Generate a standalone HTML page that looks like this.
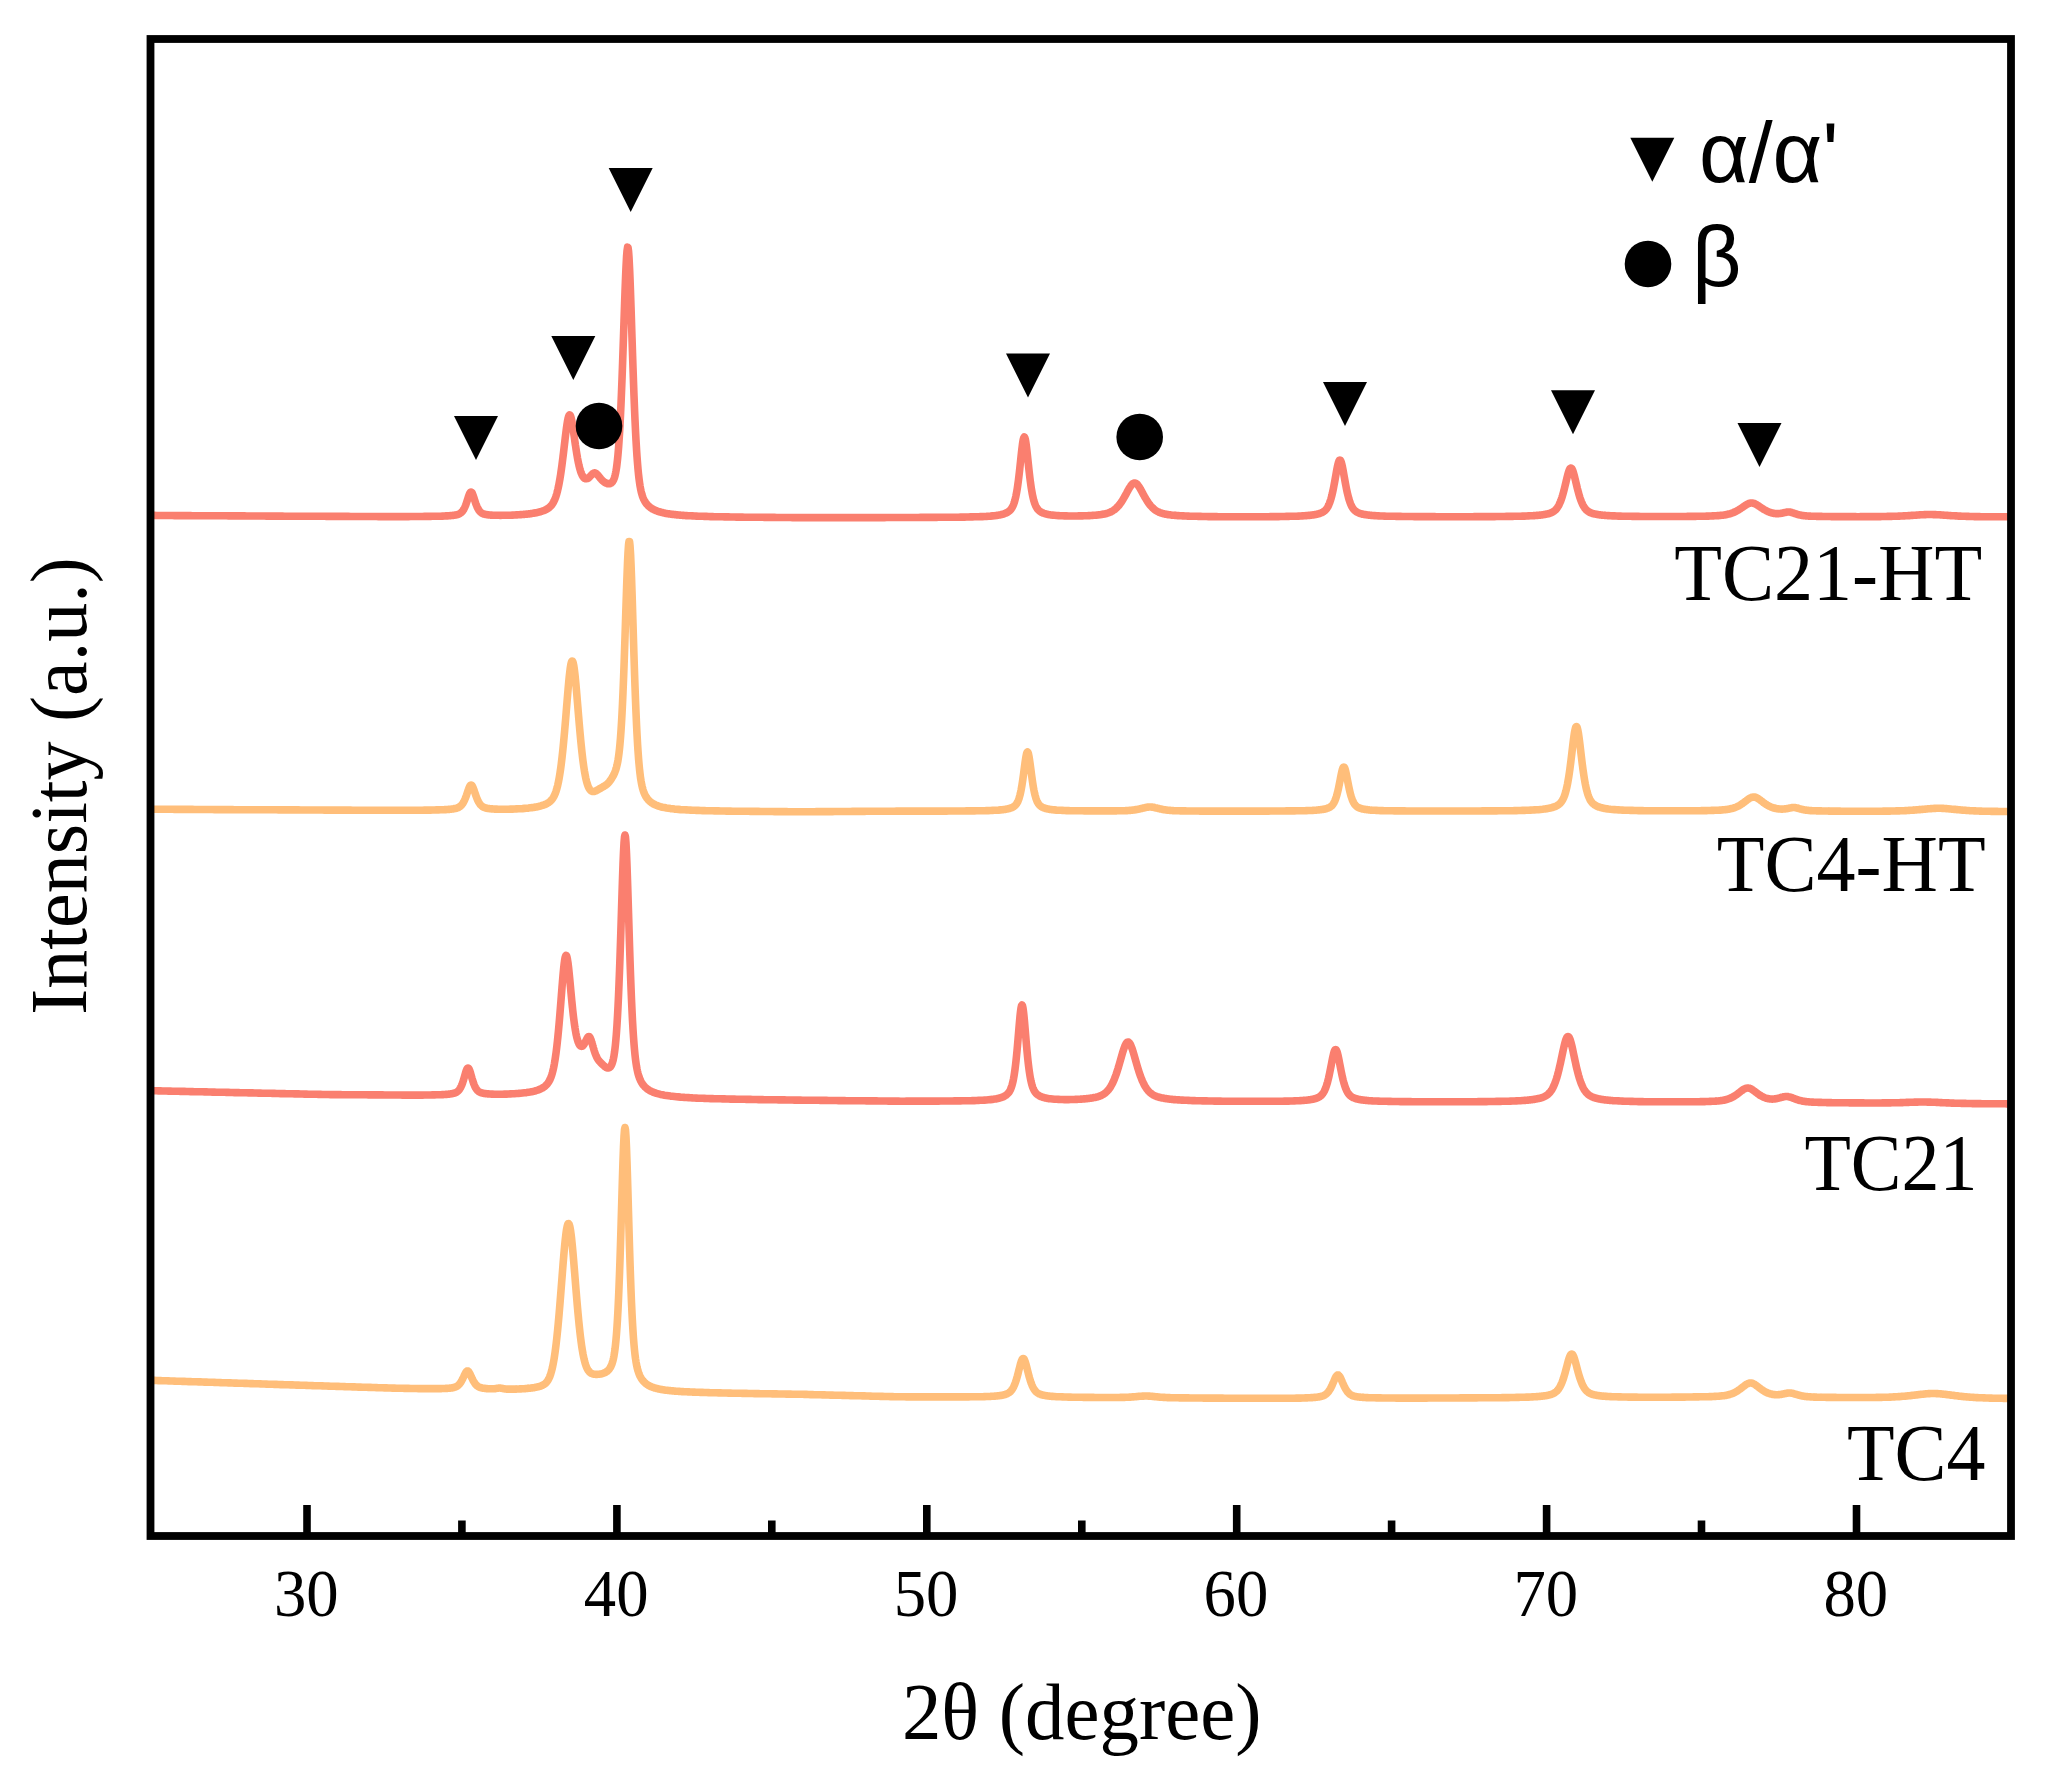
<!DOCTYPE html>
<html lang="en"><head><meta charset="utf-8"><title>XRD patterns</title>
<style>
html,body{margin:0;padding:0;background:#fff;}
body{width:2046px;height:1771px;overflow:hidden;}
svg{display:block;}
.serif{font-family:"Liberation Serif","Times New Roman",serif;}
.sans{font-family:"Liberation Sans","Arial",sans-serif;}
</style></head><body>
<svg width="2046" height="1771" viewBox="0 0 2046 1771">
<rect width="2046" height="1771" fill="#fff"/>
<defs><clipPath id="plot"><rect x="150.5" y="39" width="1860.5" height="1497"/></clipPath></defs>
<g clip-path="url(#plot)" fill="none" stroke-width="7.6" stroke-linejoin="round" stroke-linecap="butt">
<path d="M150.5,515.4 L152.5,515.4 L154.5,515.4 L156.5,515.5 L158.5,515.5 L160.5,515.5 L162.5,515.5 L164.5,515.5 L166.5,515.5 L168.5,515.5 L170.5,515.5 L172.5,515.5 L174.5,515.6 L176.5,515.6 L178.5,515.6 L180.5,515.6 L182.5,515.6 L184.5,515.6 L186.5,515.6 L188.5,515.6 L190.5,515.6 L192.5,515.7 L194.5,515.7 L196.5,515.7 L198.5,515.7 L200.5,515.7 L202.5,515.7 L204.5,515.7 L206.5,515.7 L208.5,515.7 L210.5,515.8 L212.5,515.8 L214.5,515.8 L216.5,515.8 L218.5,515.8 L220.5,515.8 L222.5,515.8 L224.5,515.8 L226.5,515.8 L228.5,515.9 L230.5,515.9 L232.5,515.9 L234.5,515.9 L236.5,515.9 L238.5,515.9 L240.5,515.9 L242.5,515.9 L244.5,515.9 L246.5,516.0 L248.5,516.0 L250.5,516.0 L252.5,516.0 L254.5,516.0 L256.5,516.0 L258.5,516.0 L260.5,516.0 L262.5,516.0 L264.5,516.0 L266.5,516.1 L268.5,516.1 L270.5,516.1 L272.5,516.1 L274.5,516.1 L276.5,516.1 L278.5,516.1 L280.5,516.1 L282.5,516.1 L284.5,516.2 L286.5,516.2 L288.5,516.2 L290.5,516.2 L292.5,516.2 L294.5,516.2 L296.5,516.2 L298.5,516.2 L300.5,516.2 L302.5,516.2 L304.5,516.3 L306.5,516.3 L308.5,516.3 L310.5,516.3 L312.5,516.3 L314.5,516.3 L316.5,516.3 L318.5,516.3 L320.5,516.3 L322.5,516.3 L324.5,516.3 L326.5,516.4 L328.5,516.4 L330.5,516.4 L332.5,516.4 L334.5,516.4 L336.5,516.4 L338.5,516.4 L340.5,516.4 L342.5,516.4 L344.5,516.4 L346.5,516.4 L348.5,516.4 L350.5,516.5 L352.5,516.5 L354.5,516.5 L356.5,516.5 L358.5,516.5 L360.5,516.5 L362.5,516.5 L364.5,516.5 L366.5,516.5 L368.5,516.5 L370.5,516.5 L372.5,516.5 L374.5,516.5 L376.5,516.5 L378.5,516.6 L380.5,516.6 L382.5,516.6 L384.5,516.6 L386.5,516.6 L388.5,516.6 L390.5,516.6 L392.5,516.6 L394.5,516.6 L396.5,516.6 L398.5,516.6 L400.5,516.6 L402.5,516.6 L404.5,516.6 L406.5,516.6 L408.5,516.6 L410.5,516.5 L412.5,516.5 L414.5,516.5 L416.5,516.5 L418.5,516.5 L420.5,516.5 L422.5,516.5 L424.5,516.4 L426.5,516.4 L428.5,516.4 L430.5,516.4 L432.5,516.3 L434.5,516.3 L436.5,516.3 L438.5,516.2 L440.5,516.2 L442.5,516.1 L444.5,516.0 L446.0,515.9 L446.5,515.9 L447.0,515.9 L447.5,515.9 L448.0,515.8 L448.5,515.8 L449.0,515.8 L449.5,515.7 L450.0,515.7 L450.5,515.6 L451.0,515.6 L451.5,515.5 L452.0,515.5 L452.5,515.4 L453.0,515.4 L453.5,515.3 L454.0,515.2 L454.5,515.2 L455.0,515.1 L455.5,515.0 L456.0,514.9 L456.5,514.8 L457.0,514.7 L457.5,514.5 L458.0,514.4 L458.5,514.2 L459.0,514.0 L459.5,513.7 L460.0,513.4 L460.5,513.1 L461.0,512.8 L461.5,512.3 L462.0,511.8 L462.5,511.2 L463.0,510.5 L463.5,509.8 L464.0,508.9 L464.5,507.9 L465.0,506.8 L465.5,505.6 L466.0,504.2 L466.5,502.8 L467.0,501.3 L467.5,499.7 L468.0,498.1 L468.5,496.5 L469.0,495.1 L469.5,493.8 L470.0,492.9 L470.5,492.2 L471.0,492.0 L471.5,492.2 L472.0,492.8 L472.5,493.8 L473.0,495.1 L473.5,496.5 L474.0,498.0 L474.5,499.6 L475.0,501.2 L475.5,502.7 L476.0,504.1 L476.5,505.4 L477.0,506.7 L477.5,507.7 L478.0,508.7 L478.5,509.6 L479.0,510.4 L479.5,511.0 L480.0,511.6 L480.5,512.1 L481.0,512.5 L481.5,512.9 L482.0,513.2 L482.5,513.5 L483.0,513.7 L483.5,513.9 L484.0,514.1 L484.5,514.2 L485.0,514.3 L485.5,514.4 L486.0,514.5 L486.5,514.6 L487.0,514.7 L487.5,514.8 L488.0,514.8 L488.5,514.9 L489.0,514.9 L489.5,515.0 L490.0,515.0 L490.5,515.1 L491.0,515.1 L491.5,515.1 L492.0,515.2 L492.5,515.2 L493.0,515.2 L493.5,515.2 L494.0,515.3 L494.5,515.3 L495.0,515.3 L495.5,515.3 L496.5,515.3 L498.5,515.3 L500.5,515.4 L502.5,515.3 L504.5,515.3 L506.5,515.3 L508.5,515.2 L510.5,515.2 L512.5,515.1 L514.5,515.0 L516.5,514.9 L517.0,514.9 L518.0,514.8 L518.5,514.8 L519.0,514.7 L520.0,514.7 L520.5,514.6 L521.0,514.6 L522.0,514.5 L522.5,514.5 L523.0,514.5 L524.0,514.4 L524.5,514.3 L525.0,514.3 L526.0,514.2 L526.5,514.1 L527.0,514.1 L528.0,514.0 L528.5,513.9 L529.0,513.9 L530.0,513.7 L530.5,513.7 L531.0,513.6 L531.9,513.5 L532.0,513.4 L532.4,513.4 L532.5,513.4 L532.9,513.3 L533.0,513.3 L533.4,513.2 L533.9,513.1 L534.0,513.1 L534.4,513.1 L534.5,513.0 L534.9,513.0 L535.0,512.9 L535.4,512.9 L535.9,512.8 L536.0,512.8 L536.4,512.7 L536.5,512.7 L536.9,512.6 L537.0,512.5 L537.4,512.5 L537.9,512.3 L538.0,512.3 L538.4,512.2 L538.5,512.2 L538.9,512.1 L539.0,512.1 L539.4,512.0 L539.9,511.8 L540.0,511.8 L540.4,511.7 L540.5,511.7 L540.9,511.6 L541.0,511.5 L541.4,511.4 L541.9,511.2 L542.0,511.2 L542.4,511.1 L542.5,511.0 L542.9,510.9 L543.0,510.9 L543.4,510.7 L543.9,510.5 L544.0,510.5 L544.4,510.3 L544.5,510.3 L544.9,510.1 L545.0,510.0 L545.4,509.9 L545.9,509.6 L546.0,509.6 L546.4,509.4 L546.5,509.3 L546.9,509.1 L547.0,509.0 L547.4,508.8 L547.9,508.5 L548.0,508.4 L548.4,508.1 L548.5,508.0 L548.9,507.7 L549.0,507.7 L549.4,507.3 L549.9,506.9 L550.0,506.8 L550.4,506.4 L550.5,506.3 L550.9,505.9 L551.0,505.8 L551.4,505.3 L551.9,504.7 L552.0,504.5 L552.4,504.0 L552.5,503.8 L552.9,503.2 L553.0,503.0 L553.4,502.3 L553.9,501.4 L554.0,501.2 L554.4,500.3 L554.5,500.1 L554.9,499.2 L555.0,498.9 L555.4,497.9 L555.9,496.5 L556.0,496.2 L556.4,494.9 L556.5,494.6 L556.9,493.2 L557.0,492.8 L557.4,491.3 L557.9,489.2 L558.0,488.8 L558.4,486.9 L558.5,486.5 L558.9,484.5 L559.0,484.0 L559.4,481.8 L559.9,479.0 L560.0,478.4 L560.4,475.9 L560.5,475.3 L560.9,472.6 L561.0,471.9 L561.4,469.1 L561.9,465.5 L562.0,464.7 L562.4,461.6 L562.5,460.8 L562.9,457.6 L563.0,456.8 L563.4,453.5 L563.9,449.3 L564.0,448.4 L564.4,445.0 L564.5,444.1 L564.9,440.7 L565.0,439.8 L565.4,436.4 L565.5,435.6 L565.9,432.4 L566.0,431.6 L566.4,428.5 L566.5,427.8 L566.9,424.9 L567.0,424.3 L567.4,421.8 L567.5,421.2 L567.9,419.2 L568.0,418.7 L568.4,417.1 L568.5,416.8 L568.9,415.7 L569.0,415.5 L569.4,415.0 L569.5,414.9 L569.9,415.0 L570.0,415.1 L570.4,415.7 L570.5,415.9 L570.9,417.0 L571.0,417.4 L571.4,419.0 L571.5,419.4 L571.9,421.4 L572.0,422.0 L572.4,424.3 L572.5,424.9 L572.9,427.4 L573.0,428.1 L573.4,430.8 L573.5,431.5 L573.9,434.3 L574.0,435.0 L574.4,437.8 L574.5,438.5 L574.9,441.4 L575.0,442.1 L575.4,444.9 L575.5,445.5 L575.9,448.2 L576.0,448.9 L576.4,451.5 L576.5,452.1 L576.9,454.6 L577.0,455.2 L577.4,457.5 L577.5,458.1 L577.9,460.2 L578.0,460.7 L578.4,462.7 L578.5,463.2 L578.9,465.0 L579.0,465.5 L579.4,467.1 L579.5,467.5 L579.9,469.0 L580.0,469.4 L580.4,470.7 L580.5,471.0 L580.9,472.2 L581.0,472.5 L581.4,473.5 L581.5,473.8 L581.9,474.7 L582.0,474.9 L582.4,475.7 L582.5,475.9 L582.9,476.5 L583.0,476.7 L583.4,477.2 L583.5,477.3 L583.9,477.8 L584.0,477.9 L584.4,478.2 L584.5,478.3 L584.9,478.5 L585.0,478.6 L585.4,478.7 L585.5,478.7 L585.9,478.8 L586.0,478.8 L586.4,478.8 L586.5,478.8 L586.9,478.7 L587.0,478.7 L587.4,478.5 L587.5,478.5 L587.9,478.3 L588.0,478.2 L588.4,478.0 L588.5,477.9 L588.9,477.6 L589.0,477.5 L589.4,477.1 L589.5,477.0 L589.9,476.6 L590.0,476.5 L590.4,476.1 L590.5,476.0 L590.9,475.5 L591.0,475.4 L591.4,475.0 L591.5,474.9 L591.9,474.5 L592.0,474.4 L592.4,474.0 L592.5,473.9 L592.9,473.6 L593.0,473.5 L593.4,473.2 L593.5,473.2 L593.9,473.0 L594.0,473.0 L594.4,472.9 L594.5,472.9 L594.9,472.9 L595.0,472.9 L595.4,473.1 L595.5,473.1 L595.9,473.3 L596.0,473.4 L596.4,473.7 L596.5,473.8 L596.9,474.1 L597.0,474.2 L597.4,474.7 L597.5,474.8 L597.9,475.2 L598.0,475.3 L598.4,475.8 L598.5,475.9 L598.9,476.4 L599.0,476.6 L599.4,477.1 L599.5,477.2 L599.6,477.3 L599.9,477.7 L600.0,477.8 L600.4,478.3 L600.5,478.4 L600.6,478.5 L600.9,478.9 L601.0,479.0 L601.4,479.5 L601.5,479.6 L601.6,479.7 L601.9,480.0 L602.0,480.1 L602.4,480.5 L602.5,480.6 L602.6,480.7 L602.9,481.0 L603.0,481.0 L603.4,481.4 L603.5,481.5 L603.6,481.5 L603.9,481.8 L604.0,481.9 L604.4,482.1 L604.5,482.2 L604.6,482.3 L604.9,482.5 L605.0,482.5 L605.4,482.7 L605.5,482.8 L605.6,482.8 L605.9,483.0 L606.0,483.0 L606.4,483.2 L606.5,483.2 L606.6,483.3 L607.0,483.4 L607.5,483.6 L607.6,483.6 L608.0,483.6 L608.5,483.7 L608.6,483.7 L609.0,483.7 L609.5,483.7 L609.6,483.7 L610.0,483.6 L610.5,483.4 L610.6,483.4 L611.0,483.2 L611.5,482.8 L611.6,482.7 L612.0,482.4 L612.5,481.8 L612.6,481.6 L613.0,481.0 L613.5,480.1 L613.6,479.9 L614.0,478.9 L614.5,477.5 L614.6,477.1 L615.0,475.7 L615.5,473.5 L615.6,473.0 L616.0,470.9 L616.5,467.8 L616.6,467.1 L617.0,464.0 L617.5,459.6 L617.6,458.7 L618.0,454.5 L618.5,448.5 L618.6,447.2 L619.0,441.6 L619.5,433.7 L619.6,432.1 L620.0,424.9 L620.5,415.0 L620.6,412.9 L621.0,404.1 L621.5,392.2 L621.6,389.7 L622.0,379.3 L622.5,365.6 L622.6,362.8 L623.0,351.2 L623.5,336.4 L623.6,333.4 L624.0,321.3 L624.5,306.4 L624.6,303.5 L625.0,292.1 L625.6,276.3 L626.0,267.1 L626.5,257.7 L626.6,256.1 L627.0,251.0 L627.6,247.2 L628.0,247.4 L628.5,250.7 L628.6,251.8 L629.0,257.3 L629.6,268.9 L630.0,278.4 L630.5,291.9 L630.6,294.8 L631.0,306.6 L631.6,325.0 L632.0,337.5 L632.5,352.9 L632.6,355.9 L633.0,367.9 L633.6,385.0 L634.0,395.8 L634.5,408.4 L634.6,410.8 L635.0,420.0 L635.6,432.6 L636.0,440.2 L636.5,448.8 L636.6,450.4 L637.0,456.4 L637.6,464.3 L638.0,469.0 L638.5,474.1 L638.6,475.0 L639.0,478.5 L639.6,483.0 L640.0,485.6 L640.5,488.4 L640.6,488.9 L641.0,490.8 L641.6,493.3 L642.0,494.7 L642.5,496.3 L642.6,496.5 L643.0,497.6 L643.6,499.1 L644.0,499.9 L644.5,500.9 L644.6,501.0 L645.0,501.7 L645.6,502.6 L646.0,503.2 L646.5,503.8 L646.6,504.0 L647.0,504.4 L647.6,505.1 L648.0,505.5 L648.5,506.0 L648.6,506.1 L649.0,506.4 L649.6,506.9 L650.0,507.2 L650.5,507.6 L650.6,507.7 L651.0,508.0 L651.6,508.4 L652.0,508.6 L652.5,508.9 L652.6,509.0 L653.0,509.2 L653.6,509.5 L654.0,509.7 L654.5,510.0 L654.6,510.0 L655.0,510.2 L655.6,510.4 L656.0,510.6 L656.5,510.8 L657.0,511.0 L658.0,511.4 L658.5,511.5 L659.0,511.7 L660.0,512.0 L660.5,512.1 L661.0,512.3 L662.0,512.5 L662.5,512.6 L663.0,512.8 L664.0,513.0 L664.5,513.1 L665.0,513.2 L666.0,513.4 L666.5,513.5 L667.0,513.6 L668.0,513.7 L668.5,513.8 L669.0,513.9 L670.0,514.0 L670.5,514.1 L671.0,514.2 L672.0,514.3 L672.5,514.4 L673.0,514.4 L674.0,514.5 L674.5,514.6 L675.0,514.6 L676.0,514.8 L676.5,514.8 L677.0,514.9 L678.0,514.9 L678.5,515.0 L679.0,515.0 L680.0,515.1 L680.5,515.2 L681.0,515.2 L682.0,515.3 L682.5,515.3 L683.0,515.4 L684.0,515.4 L684.5,515.5 L685.0,515.5 L686.0,515.6 L686.5,515.6 L688.5,515.7 L690.5,515.8 L692.5,515.9 L694.5,516.0 L696.5,516.1 L698.5,516.2 L700.5,516.2 L702.5,516.3 L704.5,516.4 L706.5,516.4 L708.5,516.5 L710.5,516.6 L712.5,516.6 L714.5,516.7 L716.5,516.7 L718.5,516.7 L720.5,516.8 L722.5,516.8 L724.5,516.9 L726.5,516.9 L728.5,516.9 L730.5,517.0 L732.5,517.0 L734.5,517.0 L736.5,517.1 L738.5,517.1 L740.5,517.1 L742.5,517.1 L744.5,517.2 L746.5,517.2 L748.5,517.2 L750.5,517.2 L752.5,517.2 L754.5,517.3 L756.5,517.3 L758.5,517.3 L760.5,517.3 L762.5,517.3 L764.5,517.4 L766.5,517.4 L768.5,517.4 L770.5,517.4 L772.5,517.4 L774.5,517.4 L776.5,517.5 L778.5,517.5 L780.5,517.5 L782.5,517.5 L784.5,517.5 L786.5,517.5 L788.5,517.5 L790.5,517.5 L792.5,517.6 L794.5,517.6 L796.5,517.6 L798.5,517.6 L800.5,517.6 L802.5,517.6 L804.5,517.6 L806.5,517.6 L808.5,517.6 L810.5,517.6 L812.5,517.6 L814.5,517.6 L816.5,517.6 L818.5,517.6 L820.5,517.6 L822.5,517.6 L824.5,517.6 L826.5,517.6 L828.5,517.6 L830.5,517.6 L832.5,517.6 L834.5,517.6 L836.5,517.6 L838.5,517.6 L840.5,517.6 L842.5,517.6 L844.5,517.6 L846.5,517.6 L848.5,517.6 L850.5,517.6 L852.5,517.6 L854.5,517.6 L856.5,517.6 L858.5,517.6 L860.5,517.6 L862.5,517.6 L864.5,517.6 L866.5,517.6 L868.5,517.6 L870.5,517.6 L872.5,517.6 L874.5,517.6 L876.5,517.6 L878.5,517.6 L880.5,517.6 L882.5,517.6 L884.5,517.6 L886.5,517.5 L888.5,517.5 L890.5,517.5 L892.5,517.5 L894.5,517.5 L896.5,517.5 L898.5,517.5 L900.5,517.5 L902.5,517.5 L904.5,517.5 L906.5,517.5 L908.5,517.5 L910.5,517.5 L912.5,517.5 L914.5,517.5 L916.5,517.5 L918.5,517.5 L920.5,517.4 L922.5,517.4 L924.5,517.4 L926.5,517.4 L928.5,517.4 L930.5,517.4 L932.5,517.4 L934.5,517.4 L936.5,517.4 L938.5,517.3 L940.5,517.3 L942.5,517.3 L944.5,517.3 L946.5,517.3 L948.5,517.3 L950.5,517.2 L952.5,517.2 L954.5,517.2 L956.5,517.2 L958.5,517.2 L960.5,517.1 L962.5,517.1 L964.5,517.1 L966.5,517.0 L968.5,517.0 L970.5,516.9 L972.5,516.9 L974.5,516.8 L976.5,516.8 L978.5,516.7 L980.5,516.6 L982.5,516.6 L984.5,516.5 L986.5,516.4 L988.5,516.2 L990.5,516.1 L992.5,515.9 L994.5,515.7 L996.5,515.4 L996.8,515.4 L997.3,515.3 L997.8,515.2 L998.3,515.2 L998.5,515.1 L998.8,515.1 L999.3,515.0 L999.8,514.9 L1000.3,514.8 L1000.5,514.7 L1000.8,514.7 L1001.3,514.6 L1001.8,514.4 L1002.3,514.3 L1002.5,514.3 L1002.8,514.2 L1003.3,514.0 L1003.8,513.9 L1004.3,513.7 L1004.5,513.6 L1004.8,513.5 L1005.3,513.3 L1005.8,513.1 L1006.3,512.9 L1006.5,512.8 L1006.8,512.6 L1007.3,512.4 L1007.8,512.1 L1008.3,511.8 L1008.5,511.6 L1008.8,511.4 L1009.3,511.0 L1009.8,510.6 L1010.3,510.1 L1010.5,509.8 L1010.8,509.5 L1011.3,508.8 L1011.8,508.1 L1012.3,507.2 L1012.5,506.9 L1012.8,506.3 L1013.3,505.1 L1013.8,503.8 L1014.3,502.4 L1014.5,501.7 L1014.8,500.7 L1015.3,498.7 L1015.8,496.6 L1016.3,494.1 L1016.5,493.0 L1016.8,491.3 L1017.3,488.3 L1017.8,484.9 L1018.3,481.2 L1018.5,479.6 L1018.8,477.2 L1019.3,472.9 L1019.8,468.4 L1020.3,463.7 L1020.5,461.8 L1020.8,458.9 L1021.3,454.2 L1021.8,449.7 L1022.3,445.6 L1022.5,444.1 L1022.8,442.0 L1023.3,439.3 L1023.8,437.6 L1024.3,437.0 L1024.5,437.1 L1024.8,437.6 L1025.3,439.3 L1025.8,442.0 L1026.3,445.5 L1026.5,447.1 L1026.8,449.7 L1027.3,454.2 L1027.8,458.9 L1028.3,463.6 L1028.5,465.5 L1028.8,468.3 L1029.3,472.8 L1029.8,477.1 L1030.3,481.1 L1030.5,482.6 L1030.8,484.8 L1031.3,488.2 L1031.8,491.2 L1032.3,494.0 L1032.5,495.0 L1032.8,496.4 L1033.3,498.6 L1033.8,500.6 L1034.3,502.2 L1034.5,502.9 L1034.8,503.7 L1035.3,505.0 L1035.8,506.1 L1036.3,507.1 L1036.5,507.4 L1036.8,507.9 L1037.3,508.7 L1037.8,509.3 L1038.3,509.9 L1038.5,510.1 L1038.8,510.4 L1039.3,510.8 L1039.8,511.2 L1040.3,511.6 L1040.5,511.7 L1040.8,511.9 L1041.3,512.2 L1041.8,512.4 L1042.3,512.7 L1042.5,512.8 L1042.8,512.9 L1043.3,513.1 L1043.8,513.3 L1044.3,513.4 L1044.5,513.5 L1044.8,513.6 L1045.3,513.8 L1045.8,513.9 L1046.3,514.0 L1046.5,514.1 L1046.8,514.1 L1047.3,514.3 L1047.8,514.4 L1048.3,514.5 L1048.5,514.5 L1048.8,514.6 L1049.3,514.7 L1049.8,514.7 L1050.3,514.8 L1050.5,514.8 L1050.8,514.9 L1051.3,515.0 L1052.5,515.1 L1054.5,515.3 L1056.5,515.5 L1058.5,515.6 L1060.5,515.7 L1062.5,515.8 L1064.5,515.9 L1066.5,515.9 L1068.5,516.0 L1070.5,516.0 L1072.5,516.0 L1074.5,516.0 L1074.6,516.0 L1075.6,516.0 L1076.5,516.0 L1076.6,516.0 L1077.6,516.0 L1078.5,515.9 L1078.6,515.9 L1079.6,515.9 L1080.5,515.9 L1080.6,515.9 L1081.6,515.9 L1082.5,515.9 L1082.6,515.9 L1083.6,515.8 L1084.5,515.8 L1084.6,515.8 L1085.6,515.8 L1086.5,515.7 L1086.6,515.7 L1087.6,515.7 L1088.5,515.6 L1088.6,515.6 L1089.6,515.6 L1090.5,515.5 L1090.6,515.5 L1091.6,515.5 L1092.5,515.4 L1092.6,515.4 L1093.6,515.3 L1094.5,515.3 L1094.6,515.3 L1095.6,515.2 L1096.5,515.1 L1096.6,515.1 L1097.6,515.0 L1098.5,514.9 L1098.6,514.9 L1099.6,514.8 L1100.5,514.6 L1100.6,514.6 L1101.6,514.5 L1102.5,514.3 L1102.6,514.3 L1103.6,514.1 L1104.5,514.0 L1104.6,513.9 L1105.6,513.7 L1106.5,513.5 L1106.6,513.4 L1107.6,513.1 L1108.5,512.8 L1108.6,512.8 L1109.6,512.4 L1110.5,512.0 L1110.6,512.0 L1111.6,511.5 L1112.5,511.0 L1112.6,510.9 L1113.6,510.3 L1114.5,509.6 L1114.6,509.6 L1115.6,508.7 L1116.5,507.9 L1116.6,507.8 L1117.6,506.8 L1118.5,505.8 L1118.6,505.7 L1119.6,504.5 L1120.5,503.3 L1120.6,503.1 L1121.6,501.7 L1122.5,500.3 L1122.6,500.1 L1123.6,498.4 L1124.5,496.9 L1124.6,496.7 L1125.6,494.9 L1126.5,493.2 L1126.6,493.0 L1127.6,491.2 L1128.5,489.5 L1128.6,489.3 L1129.6,487.6 L1130.5,486.3 L1130.6,486.1 L1131.6,484.8 L1132.5,483.9 L1132.6,483.8 L1133.6,483.2 L1134.5,483.0 L1134.6,483.0 L1135.6,483.2 L1136.5,483.8 L1136.6,483.8 L1137.6,484.8 L1138.5,486.0 L1138.6,486.1 L1139.6,487.6 L1140.5,489.2 L1140.6,489.4 L1141.6,491.2 L1142.5,492.8 L1142.6,493.0 L1143.6,494.9 L1144.5,496.5 L1144.6,496.7 L1145.6,498.4 L1146.5,499.9 L1146.6,500.1 L1147.6,501.7 L1148.5,503.0 L1148.6,503.1 L1149.6,504.5 L1150.5,505.6 L1150.6,505.7 L1151.6,506.8 L1152.5,507.8 L1152.6,507.9 L1153.6,508.8 L1154.5,509.5 L1154.6,509.6 L1155.6,510.3 L1156.5,510.9 L1156.6,510.9 L1157.6,511.5 L1158.5,512.0 L1158.6,512.0 L1159.6,512.5 L1160.5,512.8 L1160.6,512.8 L1161.6,513.2 L1162.5,513.5 L1162.6,513.5 L1163.6,513.7 L1164.5,514.0 L1164.6,514.0 L1165.6,514.2 L1166.5,514.4 L1166.6,514.4 L1167.6,514.5 L1168.5,514.7 L1168.6,514.7 L1169.6,514.8 L1170.5,514.9 L1170.6,514.9 L1171.6,515.1 L1172.5,515.2 L1172.6,515.2 L1173.6,515.3 L1174.5,515.3 L1174.6,515.4 L1175.6,515.4 L1176.5,515.5 L1176.6,515.5 L1177.6,515.6 L1178.5,515.6 L1178.6,515.6 L1179.6,515.7 L1180.5,515.8 L1180.6,515.8 L1181.6,515.8 L1182.5,515.9 L1182.6,515.9 L1183.6,515.9 L1184.5,516.0 L1184.6,516.0 L1185.6,516.0 L1186.5,516.0 L1186.6,516.0 L1187.6,516.1 L1188.5,516.1 L1188.6,516.1 L1189.6,516.2 L1190.5,516.2 L1190.6,516.2 L1191.6,516.2 L1192.5,516.2 L1192.6,516.2 L1193.6,516.3 L1194.5,516.3 L1196.5,516.3 L1198.5,516.4 L1200.5,516.4 L1202.5,516.5 L1204.5,516.5 L1206.5,516.5 L1208.5,516.6 L1210.5,516.6 L1212.5,516.6 L1214.5,516.6 L1216.5,516.6 L1218.5,516.7 L1220.5,516.7 L1222.5,516.7 L1224.5,516.7 L1226.5,516.7 L1228.5,516.7 L1230.5,516.7 L1232.5,516.7 L1234.5,516.7 L1236.5,516.7 L1238.5,516.7 L1240.5,516.7 L1242.5,516.7 L1244.5,516.7 L1246.5,516.7 L1248.5,516.7 L1250.5,516.7 L1252.5,516.7 L1254.5,516.7 L1256.5,516.7 L1258.5,516.7 L1260.5,516.7 L1262.5,516.7 L1264.5,516.7 L1266.5,516.7 L1268.5,516.7 L1270.5,516.6 L1272.5,516.6 L1274.5,516.6 L1276.5,516.6 L1278.5,516.6 L1280.5,516.5 L1282.5,516.5 L1284.5,516.5 L1286.5,516.4 L1288.5,516.4 L1290.5,516.3 L1292.5,516.3 L1294.5,516.2 L1296.5,516.2 L1298.5,516.1 L1300.5,516.0 L1302.5,515.9 L1304.5,515.8 L1306.5,515.6 L1307.4,515.5 L1307.9,515.5 L1308.4,515.5 L1308.5,515.4 L1308.9,515.4 L1309.4,515.4 L1309.9,515.3 L1310.4,515.3 L1310.5,515.2 L1310.9,515.2 L1311.4,515.1 L1311.9,515.1 L1312.4,515.0 L1312.5,515.0 L1312.9,514.9 L1313.4,514.9 L1313.9,514.8 L1314.4,514.7 L1314.5,514.7 L1314.9,514.6 L1315.4,514.5 L1315.9,514.4 L1316.4,514.3 L1316.5,514.3 L1316.9,514.2 L1317.4,514.1 L1317.9,514.0 L1318.4,513.8 L1318.5,513.8 L1318.9,513.7 L1319.4,513.6 L1319.9,513.4 L1320.4,513.2 L1320.5,513.2 L1320.9,513.0 L1321.4,512.8 L1321.9,512.6 L1322.4,512.3 L1322.5,512.3 L1322.9,512.1 L1323.4,511.8 L1323.9,511.4 L1324.4,511.0 L1324.5,511.0 L1324.9,510.6 L1325.4,510.1 L1325.9,509.6 L1326.4,509.0 L1326.5,508.9 L1326.9,508.3 L1327.4,507.5 L1327.9,506.7 L1328.4,505.7 L1328.5,505.5 L1328.9,504.6 L1329.4,503.4 L1329.9,502.1 L1330.4,500.6 L1330.5,500.3 L1330.9,499.0 L1331.4,497.2 L1331.9,495.3 L1332.4,493.2 L1332.5,492.7 L1332.9,490.9 L1333.4,488.5 L1333.9,485.9 L1334.4,483.2 L1334.5,482.7 L1334.9,480.5 L1335.4,477.6 L1335.9,474.8 L1336.4,472.0 L1336.5,471.4 L1336.9,469.2 L1337.4,466.7 L1337.9,464.5 L1338.4,462.6 L1338.5,462.3 L1338.9,461.2 L1339.4,460.3 L1339.9,460.0 L1340.4,460.3 L1340.5,460.4 L1340.9,461.2 L1341.4,462.6 L1341.9,464.5 L1342.4,466.7 L1342.5,467.2 L1342.9,469.2 L1343.4,471.9 L1343.9,474.8 L1344.4,477.6 L1344.5,478.2 L1344.9,480.5 L1345.4,483.2 L1345.9,485.9 L1346.4,488.5 L1346.5,489.0 L1346.9,490.9 L1347.4,493.1 L1347.9,495.2 L1348.4,497.2 L1348.5,497.6 L1348.9,499.0 L1349.4,500.6 L1349.9,502.1 L1350.4,503.4 L1350.5,503.7 L1350.9,504.6 L1351.4,505.7 L1351.9,506.7 L1352.4,507.5 L1352.5,507.7 L1352.9,508.3 L1353.4,509.0 L1353.9,509.6 L1354.4,510.1 L1354.5,510.2 L1354.9,510.6 L1355.4,511.0 L1355.9,511.4 L1356.4,511.7 L1356.5,511.8 L1356.9,512.0 L1357.4,512.3 L1357.9,512.5 L1358.4,512.8 L1358.5,512.8 L1358.9,513.0 L1359.4,513.2 L1359.9,513.4 L1360.4,513.5 L1360.5,513.5 L1360.9,513.7 L1361.4,513.8 L1361.9,513.9 L1362.4,514.1 L1362.5,514.1 L1362.9,514.2 L1363.4,514.3 L1363.9,514.4 L1364.4,514.5 L1364.5,514.5 L1364.9,514.6 L1365.4,514.6 L1365.9,514.7 L1366.4,514.8 L1366.5,514.8 L1366.9,514.9 L1367.4,514.9 L1367.9,515.0 L1368.4,515.1 L1368.5,515.1 L1368.9,515.1 L1369.4,515.2 L1369.9,515.2 L1370.4,515.3 L1370.5,515.3 L1370.9,515.3 L1371.4,515.4 L1371.9,515.4 L1372.5,515.5 L1374.5,515.6 L1376.5,515.8 L1378.5,515.9 L1380.5,516.0 L1382.5,516.0 L1384.5,516.1 L1386.5,516.2 L1388.5,516.2 L1390.5,516.3 L1392.5,516.3 L1394.5,516.3 L1396.5,516.4 L1398.5,516.4 L1400.5,516.4 L1402.5,516.5 L1404.5,516.5 L1406.5,516.5 L1408.5,516.5 L1410.5,516.5 L1412.5,516.5 L1414.5,516.6 L1416.5,516.6 L1418.5,516.6 L1420.5,516.6 L1422.5,516.6 L1424.5,516.6 L1426.5,516.6 L1428.5,516.6 L1430.5,516.6 L1432.5,516.6 L1434.5,516.6 L1436.5,516.7 L1438.5,516.7 L1440.5,516.7 L1442.5,516.7 L1444.5,516.7 L1446.5,516.7 L1448.5,516.7 L1450.5,516.7 L1452.5,516.7 L1454.5,516.7 L1456.5,516.7 L1458.5,516.7 L1460.5,516.7 L1462.5,516.7 L1464.5,516.7 L1466.5,516.7 L1468.5,516.7 L1470.5,516.7 L1472.5,516.7 L1474.5,516.6 L1476.5,516.6 L1478.5,516.6 L1480.5,516.6 L1482.5,516.6 L1484.5,516.6 L1486.5,516.6 L1488.5,516.6 L1490.5,516.6 L1492.5,516.6 L1494.5,516.6 L1496.5,516.5 L1498.5,516.5 L1500.5,516.5 L1502.5,516.5 L1504.5,516.5 L1506.5,516.4 L1508.5,516.4 L1510.5,516.4 L1512.5,516.4 L1514.5,516.3 L1516.5,516.3 L1518.5,516.2 L1520.5,516.2 L1522.5,516.1 L1524.5,516.1 L1526.5,516.0 L1528.5,515.9 L1530.5,515.8 L1532.5,515.7 L1533.4,515.7 L1533.9,515.6 L1534.4,515.6 L1534.5,515.6 L1534.9,515.6 L1535.4,515.5 L1535.9,515.5 L1536.4,515.4 L1536.5,515.4 L1536.9,515.4 L1537.4,515.4 L1537.9,515.3 L1538.4,515.3 L1538.5,515.3 L1538.9,515.2 L1539.4,515.2 L1539.9,515.1 L1540.4,515.1 L1540.5,515.1 L1540.9,515.0 L1541.4,515.0 L1541.9,514.9 L1542.4,514.8 L1542.5,514.8 L1542.9,514.8 L1543.4,514.7 L1543.9,514.6 L1544.4,514.5 L1544.5,514.5 L1544.9,514.4 L1545.4,514.3 L1545.9,514.2 L1546.4,514.1 L1546.5,514.1 L1546.9,514.0 L1547.4,513.9 L1547.9,513.8 L1548.4,513.7 L1548.5,513.6 L1548.9,513.5 L1549.4,513.4 L1549.9,513.2 L1550.4,513.0 L1550.5,513.0 L1550.9,512.8 L1551.4,512.6 L1551.9,512.4 L1552.4,512.1 L1552.5,512.1 L1552.9,511.9 L1553.4,511.6 L1553.9,511.2 L1554.4,510.8 L1554.5,510.8 L1554.9,510.4 L1555.4,510.0 L1555.9,509.5 L1556.4,508.9 L1556.5,508.8 L1556.9,508.3 L1557.4,507.6 L1557.9,506.8 L1558.4,506.0 L1558.5,505.8 L1558.9,505.1 L1559.4,504.0 L1559.9,502.9 L1560.4,501.7 L1560.5,501.5 L1560.9,500.5 L1561.4,499.1 L1561.9,497.6 L1562.4,495.9 L1562.5,495.6 L1562.9,494.2 L1563.4,492.4 L1563.9,490.5 L1564.4,488.6 L1564.5,488.2 L1564.9,486.5 L1565.4,484.4 L1565.9,482.3 L1566.4,480.2 L1566.5,479.8 L1566.9,478.1 L1567.4,476.1 L1567.9,474.2 L1568.4,472.4 L1568.5,472.1 L1568.9,470.9 L1569.4,469.7 L1569.9,468.8 L1570.4,468.2 L1570.5,468.1 L1570.9,468.0 L1571.4,468.2 L1571.9,468.8 L1572.4,469.7 L1572.5,469.9 L1572.9,470.9 L1573.4,472.4 L1573.9,474.2 L1574.4,476.1 L1574.5,476.5 L1574.9,478.1 L1575.4,480.2 L1575.9,482.3 L1576.4,484.4 L1576.5,484.9 L1576.9,486.5 L1577.4,488.6 L1577.9,490.5 L1578.4,492.4 L1578.5,492.8 L1578.9,494.2 L1579.4,495.9 L1579.9,497.6 L1580.4,499.1 L1580.5,499.3 L1580.9,500.4 L1581.4,501.7 L1581.9,502.9 L1582.4,504.0 L1582.5,504.3 L1582.9,505.1 L1583.4,506.0 L1583.9,506.8 L1584.4,507.6 L1584.5,507.7 L1584.9,508.3 L1585.4,508.9 L1585.9,509.5 L1586.4,510.0 L1586.5,510.1 L1586.9,510.4 L1587.4,510.8 L1587.9,511.2 L1588.4,511.6 L1588.5,511.6 L1588.9,511.9 L1589.4,512.1 L1589.9,512.4 L1590.4,512.6 L1590.5,512.7 L1590.9,512.8 L1591.4,513.0 L1591.9,513.2 L1592.4,513.4 L1592.5,513.4 L1592.9,513.5 L1593.4,513.7 L1593.9,513.8 L1594.4,513.9 L1594.5,513.9 L1594.9,514.0 L1595.4,514.1 L1595.9,514.2 L1596.4,514.3 L1596.5,514.4 L1596.9,514.4 L1597.4,514.5 L1597.9,514.6 L1598.4,514.7 L1598.5,514.7 L1598.9,514.7 L1599.4,514.8 L1599.9,514.9 L1600.4,514.9 L1600.5,514.9 L1600.9,515.0 L1601.4,515.1 L1601.9,515.1 L1602.4,515.2 L1602.5,515.2 L1602.9,515.2 L1603.4,515.3 L1603.9,515.3 L1604.4,515.3 L1604.5,515.4 L1604.9,515.4 L1605.4,515.4 L1605.9,515.5 L1606.4,515.5 L1606.5,515.5 L1606.9,515.5 L1607.4,515.6 L1607.9,515.6 L1608.5,515.6 L1610.5,515.8 L1612.5,515.9 L1614.5,515.9 L1616.5,516.0 L1618.5,516.1 L1620.5,516.1 L1622.5,516.2 L1624.5,516.2 L1626.5,516.3 L1628.5,516.3 L1630.5,516.3 L1632.5,516.4 L1634.5,516.4 L1636.5,516.4 L1638.5,516.4 L1640.5,516.5 L1642.5,516.5 L1644.5,516.5 L1646.5,516.5 L1648.5,516.5 L1650.5,516.5 L1652.5,516.5 L1654.5,516.5 L1656.5,516.5 L1658.5,516.5 L1660.5,516.5 L1662.5,516.5 L1664.5,516.5 L1666.5,516.5 L1668.5,516.5 L1670.5,516.5 L1672.5,516.5 L1674.5,516.5 L1676.5,516.5 L1678.5,516.5 L1680.5,516.5 L1682.5,516.5 L1684.5,516.5 L1686.5,516.5 L1687.5,516.4 L1688.5,516.4 L1689.5,516.4 L1690.5,516.4 L1691.5,516.4 L1692.5,516.4 L1693.5,516.4 L1694.5,516.4 L1695.5,516.4 L1696.5,516.3 L1697.5,516.3 L1698.5,516.3 L1699.5,516.3 L1700.5,516.3 L1701.5,516.3 L1702.5,516.2 L1703.5,516.2 L1704.5,516.2 L1705.5,516.2 L1706.5,516.1 L1707.5,516.1 L1708.5,516.1 L1709.5,516.0 L1710.5,516.0 L1711.5,516.0 L1712.5,515.9 L1713.5,515.9 L1714.5,515.8 L1715.5,515.8 L1716.5,515.7 L1717.5,515.6 L1718.5,515.6 L1719.5,515.5 L1720.5,515.4 L1721.5,515.3 L1722.5,515.2 L1723.5,515.1 L1724.5,514.9 L1725.5,514.7 L1726.5,514.6 L1727.5,514.3 L1728.5,514.1 L1729.5,513.9 L1730.5,513.6 L1731.5,513.2 L1732.5,512.9 L1733.5,512.5 L1734.5,512.0 L1735.5,511.6 L1736.5,511.1 L1737.5,510.5 L1738.5,509.9 L1739.5,509.3 L1740.5,508.7 L1741.5,508.0 L1742.5,507.3 L1743.5,506.6 L1744.5,505.9 L1745.5,505.3 L1746.5,504.6 L1747.5,504.1 L1748.5,503.6 L1749.0,503.5 L1749.5,503.3 L1750.0,503.2 L1750.5,503.1 L1751.0,503.0 L1751.5,503.0 L1752.0,503.0 L1752.5,503.1 L1753.0,503.2 L1753.5,503.3 L1754.0,503.4 L1754.5,503.6 L1755.0,503.8 L1755.5,504.1 L1756.0,504.3 L1756.5,504.6 L1757.0,504.9 L1757.5,505.2 L1758.0,505.5 L1758.5,505.8 L1759.0,506.2 L1759.5,506.5 L1760.0,506.9 L1760.5,507.2 L1761.0,507.5 L1761.5,507.9 L1762.0,508.2 L1762.5,508.5 L1763.0,508.8 L1763.5,509.2 L1764.0,509.5 L1764.5,509.8 L1765.0,510.0 L1765.5,510.3 L1766.0,510.6 L1766.5,510.8 L1767.0,511.1 L1767.5,511.3 L1768.0,511.6 L1768.5,511.8 L1769.0,512.0 L1769.5,512.2 L1770.0,512.3 L1770.5,512.5 L1771.0,512.7 L1771.5,512.8 L1772.0,512.9 L1772.5,513.1 L1773.0,513.2 L1773.5,513.3 L1774.0,513.4 L1774.5,513.4 L1775.0,513.5 L1775.5,513.6 L1776.0,513.6 L1776.5,513.6 L1777.0,513.6 L1777.5,513.6 L1778.0,513.6 L1778.5,513.6 L1779.0,513.6 L1779.5,513.5 L1780.0,513.5 L1780.5,513.4 L1781.0,513.3 L1781.5,513.3 L1782.0,513.2 L1782.5,513.1 L1783.0,513.0 L1783.5,512.8 L1784.0,512.7 L1784.5,512.6 L1785.0,512.5 L1785.5,512.4 L1786.0,512.3 L1786.5,512.2 L1787.0,512.1 L1787.5,512.0 L1788.0,512.0 L1788.5,512.0 L1789.0,512.0 L1789.5,512.0 L1790.0,512.1 L1790.5,512.2 L1791.0,512.3 L1791.5,512.4 L1792.0,512.6 L1792.5,512.7 L1793.0,512.9 L1793.5,513.1 L1794.0,513.2 L1794.5,513.4 L1795.0,513.6 L1795.5,513.8 L1796.0,513.9 L1796.5,514.1 L1797.0,514.3 L1797.5,514.4 L1798.0,514.5 L1798.5,514.7 L1799.0,514.8 L1799.5,514.9 L1800.0,515.0 L1800.5,515.1 L1801.0,515.2 L1801.5,515.3 L1802.0,515.4 L1802.5,515.5 L1803.0,515.6 L1803.5,515.6 L1804.0,515.7 L1804.5,515.7 L1805.0,515.8 L1805.5,515.8 L1806.0,515.9 L1806.5,515.9 L1807.0,516.0 L1807.5,516.0 L1808.0,516.0 L1808.5,516.1 L1809.0,516.1 L1809.5,516.1 L1810.0,516.1 L1810.5,516.2 L1811.0,516.2 L1811.5,516.2 L1812.0,516.2 L1812.5,516.2 L1813.0,516.2 L1813.5,516.3 L1814.0,516.3 L1814.5,516.3 L1815.0,516.3 L1815.5,516.3 L1816.0,516.3 L1816.5,516.3 L1817.0,516.4 L1817.5,516.4 L1818.0,516.4 L1818.5,516.4 L1819.0,516.4 L1819.5,516.4 L1820.0,516.4 L1820.5,516.4 L1821.0,516.4 L1821.5,516.4 L1822.0,516.4 L1822.5,516.5 L1823.0,516.5 L1823.5,516.5 L1824.0,516.5 L1824.5,516.5 L1825.0,516.5 L1825.5,516.5 L1826.0,516.5 L1826.5,516.5 L1827.0,516.5 L1827.5,516.5 L1828.0,516.5 L1828.5,516.5 L1829.5,516.5 L1830.5,516.5 L1831.5,516.6 L1832.5,516.6 L1833.5,516.6 L1834.5,516.6 L1835.5,516.6 L1836.5,516.6 L1837.5,516.6 L1838.5,516.6 L1839.5,516.6 L1840.5,516.6 L1841.5,516.6 L1842.5,516.6 L1843.5,516.6 L1844.5,516.6 L1845.5,516.6 L1846.5,516.6 L1847.5,516.6 L1848.5,516.6 L1849.5,516.6 L1850.5,516.6 L1851.5,516.6 L1852.5,516.6 L1853.5,516.6 L1854.5,516.6 L1855.5,516.6 L1856.5,516.7 L1857.5,516.7 L1858.5,516.7 L1859.5,516.7 L1860.5,516.6 L1861.5,516.6 L1862.5,516.6 L1863.5,516.6 L1864.5,516.6 L1865.5,516.6 L1866.5,516.6 L1867.5,516.6 L1868.5,516.6 L1869.5,516.6 L1870.5,516.6 L1871.5,516.6 L1872.5,516.6 L1873.5,516.6 L1874.5,516.6 L1875.5,516.6 L1876.5,516.6 L1877.5,516.6 L1878.5,516.6 L1879.5,516.6 L1880.5,516.6 L1881.5,516.5 L1882.5,516.5 L1883.5,516.5 L1884.5,516.5 L1885.5,516.5 L1886.5,516.5 L1887.5,516.4 L1888.5,516.4 L1889.5,516.4 L1890.5,516.4 L1891.5,516.4 L1892.5,516.3 L1893.5,516.3 L1894.5,516.3 L1895.5,516.2 L1896.5,516.2 L1897.5,516.2 L1898.5,516.1 L1899.5,516.1 L1900.5,516.0 L1901.5,516.0 L1902.5,516.0 L1903.5,515.9 L1904.5,515.9 L1905.5,515.8 L1906.5,515.7 L1907.5,515.7 L1908.5,515.6 L1909.5,515.6 L1910.5,515.5 L1911.5,515.4 L1912.5,515.4 L1913.5,515.3 L1914.5,515.2 L1915.5,515.2 L1916.5,515.1 L1917.5,515.0 L1918.5,515.0 L1919.5,514.9 L1920.5,514.8 L1921.5,514.8 L1922.5,514.7 L1923.5,514.7 L1924.5,514.6 L1925.5,514.6 L1926.5,514.5 L1927.5,514.5 L1928.5,514.5 L1929.5,514.5 L1930.5,514.5 L1931.5,514.5 L1932.5,514.5 L1933.5,514.6 L1934.5,514.6 L1935.5,514.6 L1936.5,514.7 L1937.5,514.7 L1938.5,514.8 L1939.5,514.8 L1940.5,514.9 L1941.5,515.0 L1942.5,515.0 L1943.5,515.1 L1944.5,515.2 L1945.5,515.3 L1946.5,515.3 L1947.5,515.4 L1948.5,515.5 L1949.5,515.5 L1950.5,515.6 L1951.5,515.7 L1952.5,515.7 L1953.5,515.8 L1954.5,515.8 L1955.5,515.9 L1956.5,515.9 L1957.5,516.0 L1958.5,516.1 L1959.5,516.1 L1960.5,516.1 L1961.5,516.2 L1962.5,516.2 L1963.5,516.3 L1964.5,516.3 L1965.5,516.3 L1966.5,516.4 L1967.5,516.4 L1968.5,516.4 L1969.5,516.5 L1970.5,516.5 L1971.5,516.5 L1972.5,516.5 L1973.5,516.5 L1974.5,516.6 L1975.5,516.6 L1976.5,516.6 L1977.5,516.6 L1978.5,516.6 L1979.5,516.6 L1980.5,516.7 L1981.5,516.7 L1982.5,516.7 L1983.5,516.7 L1984.5,516.7 L1985.5,516.7 L1986.5,516.7 L1987.5,516.7 L1988.5,516.7 L1989.5,516.7 L1990.5,516.7 L1991.5,516.8 L1992.5,516.8 L1993.5,516.8 L1994.5,516.8 L1995.5,516.8 L1996.5,516.8 L1997.5,516.8 L1998.5,516.8 L1999.5,516.8 L2000.5,516.8 L2001.5,516.8 L2002.5,516.8 L2003.5,516.8 L2004.5,516.8 L2005.5,516.8 L2006.5,516.8 L2007.5,516.8 L2008.5,516.8 L2009.5,516.8 L2010.5,516.8 L2011.5,516.8" stroke="#FA7F6F"/>
<path d="M150.5,809.2 L152.5,809.2 L154.5,809.3 L156.5,809.3 L158.5,809.3 L160.5,809.3 L162.5,809.3 L164.5,809.3 L166.5,809.3 L168.5,809.3 L170.5,809.3 L172.5,809.3 L174.5,809.4 L176.5,809.4 L178.5,809.4 L180.5,809.4 L182.5,809.4 L184.5,809.4 L186.5,809.4 L188.5,809.4 L190.5,809.4 L192.5,809.4 L194.5,809.5 L196.5,809.5 L198.5,809.5 L200.5,809.5 L202.5,809.5 L204.5,809.5 L206.5,809.5 L208.5,809.5 L210.5,809.5 L212.5,809.5 L214.5,809.6 L216.5,809.6 L218.5,809.6 L220.5,809.6 L222.5,809.6 L224.5,809.6 L226.5,809.6 L228.5,809.6 L230.5,809.6 L232.5,809.6 L234.5,809.7 L236.5,809.7 L238.5,809.7 L240.5,809.7 L242.5,809.7 L244.5,809.7 L246.5,809.7 L248.5,809.7 L250.5,809.7 L252.5,809.7 L254.5,809.7 L256.5,809.8 L258.5,809.8 L260.5,809.8 L262.5,809.8 L264.5,809.8 L266.5,809.8 L268.5,809.8 L270.5,809.8 L272.5,809.8 L274.5,809.8 L276.5,809.8 L278.5,809.9 L280.5,809.9 L282.5,809.9 L284.5,809.9 L286.5,809.9 L288.5,809.9 L290.5,809.9 L292.5,809.9 L294.5,809.9 L296.5,809.9 L298.5,809.9 L300.5,810.0 L302.5,810.0 L304.5,810.0 L306.5,810.0 L308.5,810.0 L310.5,810.0 L312.5,810.0 L314.5,810.0 L316.5,810.0 L318.5,810.0 L320.5,810.0 L322.5,810.0 L324.5,810.1 L326.5,810.1 L328.5,810.1 L330.5,810.1 L332.5,810.1 L334.5,810.1 L336.5,810.1 L338.5,810.1 L340.5,810.1 L342.5,810.1 L344.5,810.1 L346.5,810.1 L348.5,810.1 L350.5,810.1 L352.5,810.2 L354.5,810.2 L356.5,810.2 L358.5,810.2 L360.5,810.2 L362.5,810.2 L364.5,810.2 L366.5,810.2 L368.5,810.2 L370.5,810.2 L372.5,810.2 L374.5,810.2 L376.5,810.2 L378.5,810.2 L380.5,810.2 L382.5,810.2 L384.5,810.2 L386.5,810.2 L388.5,810.2 L390.5,810.2 L392.5,810.3 L394.5,810.3 L396.5,810.3 L398.5,810.3 L400.5,810.3 L402.5,810.3 L404.5,810.2 L406.5,810.2 L408.5,810.2 L410.5,810.2 L412.5,810.2 L414.5,810.2 L416.5,810.2 L418.5,810.2 L420.5,810.2 L422.5,810.2 L424.5,810.1 L426.5,810.1 L428.5,810.1 L430.5,810.1 L432.5,810.0 L434.5,810.0 L436.5,809.9 L438.5,809.9 L440.5,809.8 L442.5,809.8 L443.6,809.7 L444.1,809.7 L444.5,809.7 L444.6,809.7 L445.1,809.6 L445.6,809.6 L446.1,809.6 L446.5,809.5 L446.6,809.5 L447.1,809.5 L447.6,809.5 L448.1,809.4 L448.5,809.4 L448.6,809.4 L449.1,809.4 L449.6,809.3 L450.1,809.3 L450.5,809.2 L450.6,809.2 L451.1,809.2 L451.6,809.1 L452.1,809.0 L452.5,809.0 L452.6,809.0 L453.1,808.9 L453.6,808.8 L454.1,808.7 L454.5,808.7 L454.6,808.6 L455.1,808.5 L455.6,808.4 L456.1,808.3 L456.5,808.2 L456.6,808.2 L457.1,808.0 L457.6,807.8 L458.1,807.6 L458.5,807.4 L458.6,807.4 L459.1,807.1 L459.6,806.8 L460.1,806.4 L460.5,806.1 L460.6,806.0 L461.1,805.6 L461.6,805.0 L462.1,804.4 L462.5,803.9 L462.6,803.7 L463.1,803.0 L463.6,802.1 L464.1,801.1 L464.5,800.3 L464.6,800.1 L465.1,798.9 L465.6,797.6 L466.1,796.3 L466.5,795.2 L466.6,794.9 L467.1,793.4 L467.6,791.9 L468.1,790.4 L468.5,789.3 L468.6,789.0 L469.1,787.7 L469.6,786.6 L470.1,785.7 L470.5,785.3 L470.6,785.2 L471.1,785.0 L471.6,785.2 L472.1,785.7 L472.5,786.4 L472.6,786.6 L473.1,787.7 L473.6,789.0 L474.1,790.4 L474.5,791.6 L474.6,791.9 L475.1,793.3 L475.6,794.8 L476.1,796.2 L476.5,797.3 L476.6,797.6 L477.1,798.8 L477.6,800.0 L478.1,801.0 L478.5,801.8 L478.6,802.0 L479.1,802.8 L479.6,803.6 L480.1,804.3 L480.5,804.8 L480.6,804.9 L481.1,805.4 L481.6,805.9 L482.1,806.3 L482.5,806.6 L482.6,806.6 L483.1,806.9 L483.6,807.2 L484.1,807.4 L484.5,807.6 L484.6,807.6 L485.1,807.8 L485.6,807.9 L486.1,808.1 L486.5,808.2 L486.6,808.2 L487.1,808.3 L487.6,808.4 L488.1,808.5 L488.5,808.5 L488.6,808.5 L489.1,808.6 L489.6,808.7 L490.1,808.7 L490.5,808.8 L490.6,808.8 L491.1,808.8 L491.6,808.9 L492.1,808.9 L492.5,808.9 L492.6,808.9 L493.1,809.0 L493.6,809.0 L494.1,809.0 L494.5,809.1 L494.6,809.1 L495.1,809.1 L495.6,809.1 L496.1,809.1 L496.5,809.1 L496.6,809.1 L497.1,809.2 L497.6,809.2 L498.1,809.2 L498.5,809.2 L500.5,809.2 L502.5,809.2 L504.5,809.2 L506.5,809.2 L508.5,809.2 L510.5,809.1 L512.5,809.1 L514.5,809.0 L516.5,808.9 L518.5,808.8 L520.5,808.7 L522.5,808.6 L524.5,808.4 L526.5,808.3 L528.5,808.1 L530.5,807.8 L532.2,807.6 L532.5,807.6 L532.7,807.5 L533.2,807.5 L533.7,807.4 L534.2,807.3 L534.5,807.3 L534.7,807.2 L535.2,807.1 L535.7,807.1 L536.2,807.0 L536.5,806.9 L536.7,806.9 L537.2,806.8 L537.7,806.7 L538.2,806.6 L538.5,806.5 L538.7,806.4 L539.2,806.3 L539.7,806.2 L540.2,806.1 L540.5,806.0 L540.7,805.9 L541.2,805.8 L541.7,805.6 L542.2,805.5 L542.5,805.4 L542.7,805.3 L543.2,805.2 L543.7,805.0 L544.2,804.8 L544.5,804.7 L544.7,804.6 L545.2,804.4 L545.7,804.2 L546.2,803.9 L546.5,803.8 L546.7,803.7 L547.2,803.4 L547.7,803.1 L548.2,802.8 L548.5,802.6 L548.7,802.5 L549.2,802.1 L549.7,801.7 L550.2,801.3 L550.5,801.0 L550.7,800.8 L551.2,800.3 L551.7,799.7 L552.2,799.1 L552.5,798.7 L552.7,798.4 L553.0,798.0 L553.2,797.6 L553.7,796.8 L554.0,796.2 L554.2,795.8 L554.5,795.2 L554.7,794.7 L555.0,794.0 L555.2,793.6 L555.7,792.2 L556.0,791.4 L556.2,790.7 L556.5,789.8 L556.7,789.1 L557.0,788.0 L557.2,787.3 L557.7,785.3 L558.0,783.9 L558.2,783.0 L558.5,781.6 L558.7,780.6 L559.0,779.0 L559.2,777.9 L559.7,774.9 L560.0,773.0 L560.2,771.7 L560.5,769.6 L560.7,768.2 L561.0,765.9 L561.2,764.4 L561.7,760.3 L562.0,757.7 L562.2,755.9 L562.5,753.2 L562.7,751.3 L563.0,748.3 L563.2,746.3 L563.7,741.1 L564.0,737.9 L564.2,735.7 L564.5,732.3 L564.7,730.0 L565.0,726.5 L565.2,724.2 L565.7,718.2 L566.0,714.5 L566.2,712.0 L566.5,708.3 L566.7,705.9 L567.0,702.2 L567.2,699.7 L567.7,693.7 L568.0,690.2 L568.2,687.9 L568.5,684.5 L568.7,682.3 L569.0,679.2 L569.2,677.2 L569.7,672.6 L570.0,670.1 L570.2,668.6 L570.5,666.6 L570.7,665.4 L571.0,663.8 L571.2,663.0 L571.7,661.5 L572.0,661.1 L572.2,661.0 L572.5,661.2 L572.7,661.5 L573.0,662.2 L573.2,662.9 L573.7,665.2 L574.0,667.1 L574.2,668.4 L574.5,670.7 L574.7,672.4 L575.0,675.0 L575.2,676.9 L575.7,682.0 L576.0,685.2 L576.2,687.5 L576.5,690.9 L576.7,693.3 L577.0,696.8 L577.2,699.2 L577.7,705.3 L578.0,708.9 L578.2,711.4 L578.5,715.0 L578.7,717.4 L579.0,721.0 L579.2,723.3 L579.5,726.8 L579.7,729.1 L580.0,732.5 L580.2,734.7 L580.5,737.9 L580.7,740.0 L581.0,743.1 L581.2,745.1 L581.5,748.0 L581.7,749.9 L582.0,752.7 L582.2,754.4 L582.5,757.0 L582.7,758.7 L583.0,761.1 L583.2,762.6 L583.5,764.8 L583.7,766.2 L584.0,768.2 L584.2,769.5 L584.5,771.4 L584.7,772.5 L585.0,774.2 L585.2,775.3 L585.5,776.8 L585.7,777.8 L586.0,779.1 L586.2,780.0 L586.5,781.2 L586.7,781.9 L587.0,783.0 L587.2,783.7 L587.5,784.6 L587.7,785.2 L588.0,786.0 L588.2,786.5 L588.5,787.2 L588.7,787.6 L589.0,788.2 L589.2,788.5 L589.5,789.0 L589.7,789.3 L590.0,789.7 L590.2,790.0 L590.5,790.3 L590.7,790.5 L591.0,790.7 L591.2,790.9 L591.5,791.1 L591.7,791.2 L592.0,791.3 L592.2,791.4 L592.5,791.4 L592.7,791.5 L593.0,791.5 L593.2,791.5 L593.5,791.5 L593.7,791.5 L594.0,791.5 L594.2,791.4 L594.5,791.4 L594.7,791.3 L595.0,791.2 L595.2,791.1 L595.5,791.0 L595.7,790.9 L596.0,790.8 L596.2,790.7 L596.5,790.6 L596.7,790.4 L597.0,790.3 L597.2,790.2 L597.5,790.0 L597.7,789.9 L598.0,789.7 L598.2,789.6 L598.5,789.4 L598.7,789.3 L599.0,789.2 L599.2,789.0 L599.5,788.9 L599.7,788.7 L600.0,788.6 L600.2,788.5 L600.5,788.3 L600.7,788.2 L601.0,788.0 L601.2,787.9 L601.5,787.7 L601.7,787.6 L602.0,787.4 L602.2,787.3 L602.5,787.1 L602.6,787.1 L602.7,787.0 L603.0,786.9 L603.2,786.7 L603.5,786.6 L603.6,786.5 L603.7,786.5 L604.0,786.3 L604.2,786.2 L604.5,786.0 L604.6,785.9 L604.7,785.8 L605.0,785.7 L605.2,785.5 L605.5,785.3 L605.6,785.2 L605.7,785.2 L606.0,785.0 L606.2,784.8 L606.5,784.6 L606.6,784.5 L606.7,784.4 L607.0,784.2 L607.2,784.0 L607.5,783.7 L607.6,783.6 L607.7,783.5 L608.0,783.2 L608.2,783.0 L608.5,782.7 L608.6,782.6 L608.7,782.5 L609.0,782.1 L609.2,781.9 L609.5,781.5 L609.6,781.4 L609.7,781.3 L610.0,780.9 L610.2,780.6 L610.5,780.2 L610.6,780.1 L610.7,779.9 L611.0,779.5 L611.2,779.2 L611.5,778.7 L611.6,778.6 L611.7,778.4 L612.0,777.9 L612.5,777.1 L612.6,776.9 L613.0,776.2 L613.5,775.2 L613.6,775.0 L614.0,774.2 L614.5,773.1 L614.6,772.8 L615.0,771.8 L615.5,770.5 L615.6,770.2 L616.0,769.0 L616.5,767.2 L616.6,766.8 L617.0,765.2 L617.5,762.9 L617.6,762.4 L618.0,760.2 L618.5,757.0 L618.6,756.3 L619.0,753.3 L619.5,748.9 L619.6,747.9 L620.0,743.7 L620.5,737.7 L620.6,736.4 L621.0,730.8 L621.5,722.8 L621.6,721.1 L622.0,713.8 L622.5,703.6 L622.6,701.5 L623.0,692.3 L623.5,679.9 L623.6,677.3 L624.0,666.5 L624.5,652.1 L624.6,649.2 L625.0,637.0 L625.5,621.5 L625.6,618.3 L626.0,605.8 L626.5,590.5 L626.6,587.5 L627.0,576.1 L627.5,563.3 L627.6,561.0 L628.0,552.9 L628.5,545.4 L628.6,544.3 L629.0,541.5 L629.5,541.5 L629.6,541.9 L630.0,545.4 L630.5,552.9 L630.6,554.8 L631.0,563.6 L631.5,576.8 L631.6,579.6 L632.0,591.7 L632.5,607.7 L632.6,611.0 L633.0,624.2 L633.5,640.6 L633.6,643.9 L634.0,656.7 L634.5,672.1 L634.6,675.1 L635.0,686.6 L635.5,700.1 L635.6,702.7 L636.0,712.5 L636.5,723.8 L636.6,725.9 L637.0,733.9 L637.5,742.9 L637.6,744.6 L638.0,750.8 L638.5,757.8 L638.6,759.1 L639.0,763.8 L639.5,769.0 L639.6,770.0 L640.0,773.5 L640.5,777.4 L640.6,778.1 L641.0,780.7 L641.5,783.5 L641.6,784.0 L642.0,785.9 L642.5,788.0 L642.6,788.4 L643.0,789.8 L643.5,791.4 L643.6,791.6 L644.0,792.7 L644.5,793.9 L644.6,794.1 L645.0,795.0 L645.5,795.9 L645.6,796.1 L646.0,796.8 L646.5,797.5 L646.6,797.7 L647.0,798.3 L647.5,798.9 L647.6,799.0 L648.0,799.5 L648.5,800.0 L648.6,800.2 L649.0,800.6 L649.5,801.0 L649.6,801.1 L650.0,801.5 L650.5,801.9 L650.6,802.0 L651.0,802.3 L651.5,802.7 L651.6,802.7 L652.0,803.0 L652.5,803.3 L652.6,803.4 L653.0,803.6 L653.5,803.9 L653.6,804.0 L654.0,804.2 L654.5,804.4 L654.6,804.5 L655.0,804.7 L655.6,805.0 L656.5,805.3 L658.5,806.1 L660.5,806.7 L662.5,807.2 L664.5,807.6 L666.5,808.0 L668.5,808.3 L670.5,808.6 L672.5,808.8 L674.5,809.1 L676.5,809.2 L678.5,809.4 L680.5,809.6 L682.5,809.7 L684.5,809.8 L686.5,809.9 L688.5,810.0 L690.5,810.1 L692.5,810.2 L694.5,810.3 L696.5,810.4 L698.5,810.4 L700.5,810.5 L702.5,810.6 L704.5,810.6 L706.5,810.7 L708.5,810.7 L710.5,810.8 L712.5,810.8 L714.5,810.9 L716.5,810.9 L718.5,810.9 L720.5,811.0 L722.5,811.0 L724.5,811.0 L726.5,811.1 L728.5,811.1 L730.5,811.1 L732.5,811.2 L734.5,811.2 L736.5,811.2 L738.5,811.2 L740.5,811.3 L742.5,811.3 L744.5,811.3 L746.5,811.3 L748.5,811.3 L750.5,811.4 L752.5,811.4 L754.5,811.4 L756.5,811.4 L758.5,811.4 L760.5,811.5 L762.5,811.5 L764.5,811.5 L766.5,811.5 L768.5,811.5 L770.5,811.5 L772.5,811.5 L774.5,811.6 L776.5,811.6 L778.5,811.6 L780.5,811.6 L782.5,811.6 L784.5,811.6 L786.5,811.6 L788.5,811.7 L790.5,811.7 L792.5,811.7 L794.5,811.7 L796.5,811.7 L798.5,811.7 L800.5,811.7 L802.5,811.7 L804.5,811.7 L806.5,811.7 L808.5,811.7 L810.5,811.7 L812.5,811.7 L814.5,811.7 L816.5,811.6 L818.5,811.6 L820.5,811.6 L822.5,811.6 L824.5,811.6 L826.5,811.6 L828.5,811.6 L830.5,811.6 L832.5,811.6 L834.5,811.5 L836.5,811.5 L838.5,811.5 L840.5,811.5 L842.5,811.5 L844.5,811.5 L846.5,811.5 L848.5,811.5 L850.5,811.5 L852.5,811.4 L854.5,811.4 L856.5,811.4 L858.5,811.4 L860.5,811.4 L862.5,811.4 L864.5,811.4 L866.5,811.3 L868.5,811.3 L870.5,811.3 L872.5,811.3 L874.5,811.3 L876.5,811.3 L878.5,811.3 L880.5,811.3 L882.5,811.2 L884.5,811.2 L886.5,811.2 L888.5,811.2 L890.5,811.2 L892.5,811.2 L894.5,811.2 L896.5,811.1 L898.5,811.1 L900.5,811.1 L902.5,811.1 L904.5,811.1 L906.5,811.1 L908.5,811.1 L910.5,811.1 L912.5,811.1 L914.5,811.1 L916.5,811.1 L918.5,811.1 L920.5,811.1 L922.5,811.1 L924.5,811.1 L926.5,811.1 L928.5,811.1 L930.5,811.1 L932.5,811.1 L934.5,811.1 L936.5,811.1 L938.5,811.1 L940.5,811.1 L942.5,811.1 L944.5,811.1 L946.5,811.1 L948.5,811.0 L950.5,811.0 L952.5,811.0 L954.5,811.0 L956.5,811.0 L958.5,811.0 L960.5,811.0 L962.5,811.0 L964.5,811.0 L966.5,810.9 L968.5,810.9 L970.5,810.9 L972.5,810.9 L974.5,810.9 L976.5,810.8 L978.5,810.8 L980.5,810.8 L982.5,810.7 L984.5,810.7 L986.5,810.6 L988.5,810.6 L990.5,810.5 L992.5,810.4 L994.5,810.3 L996.5,810.2 L998.5,810.1 L1000.5,809.9 L1002.5,809.7 L1003.0,809.7 L1003.5,809.6 L1004.0,809.5 L1004.5,809.5 L1005.0,809.4 L1005.5,809.3 L1006.0,809.2 L1006.5,809.1 L1007.0,809.0 L1007.5,808.9 L1008.0,808.8 L1008.5,808.7 L1009.0,808.6 L1009.5,808.4 L1010.0,808.3 L1010.5,808.1 L1011.0,808.0 L1011.5,807.8 L1012.0,807.6 L1012.5,807.3 L1013.0,807.1 L1013.5,806.8 L1014.0,806.4 L1014.5,806.1 L1015.0,805.6 L1015.5,805.1 L1016.0,804.6 L1016.5,803.9 L1017.0,803.1 L1017.5,802.2 L1018.0,801.2 L1018.5,799.9 L1019.0,798.5 L1019.5,796.9 L1020.0,795.0 L1020.5,792.9 L1021.0,790.5 L1021.5,787.8 L1022.0,784.8 L1022.5,781.6 L1023.0,778.1 L1023.5,774.4 L1024.0,770.6 L1024.5,766.8 L1025.0,763.0 L1025.5,759.5 L1026.0,756.4 L1026.5,754.0 L1027.0,752.5 L1027.5,752.0 L1028.0,752.5 L1028.5,754.0 L1029.0,756.4 L1029.5,759.5 L1030.0,763.0 L1030.5,766.8 L1031.0,770.6 L1031.5,774.4 L1032.0,778.1 L1032.5,781.6 L1033.0,784.8 L1033.5,787.8 L1034.0,790.5 L1034.5,792.9 L1035.0,795.0 L1035.5,796.9 L1036.0,798.5 L1036.5,799.9 L1037.0,801.2 L1037.5,802.2 L1038.0,803.1 L1038.5,803.9 L1039.0,804.6 L1039.5,805.1 L1040.0,805.6 L1040.5,806.1 L1041.0,806.4 L1041.5,806.8 L1042.0,807.1 L1042.5,807.3 L1043.0,807.5 L1043.5,807.8 L1044.0,808.0 L1044.5,808.1 L1045.0,808.3 L1045.5,808.4 L1046.0,808.6 L1046.5,808.7 L1047.0,808.8 L1047.5,808.9 L1048.0,809.0 L1048.5,809.1 L1049.0,809.2 L1049.5,809.3 L1050.0,809.4 L1050.5,809.5 L1051.0,809.5 L1051.5,809.6 L1052.0,809.7 L1052.5,809.7 L1054.5,809.9 L1056.5,810.1 L1058.5,810.2 L1060.5,810.3 L1062.5,810.4 L1064.5,810.5 L1066.5,810.6 L1068.5,810.6 L1070.5,810.7 L1072.5,810.7 L1074.5,810.7 L1076.5,810.8 L1078.5,810.8 L1080.5,810.8 L1082.5,810.8 L1084.5,810.9 L1086.5,810.9 L1088.5,810.9 L1090.5,810.9 L1092.5,810.9 L1094.5,810.9 L1095.0,810.9 L1096.0,810.9 L1096.5,810.9 L1097.0,810.9 L1098.0,810.9 L1098.5,810.9 L1099.0,810.9 L1100.0,810.9 L1100.5,810.9 L1101.0,810.9 L1102.0,810.9 L1102.5,810.9 L1103.0,810.9 L1104.0,810.9 L1104.5,810.9 L1105.0,810.9 L1106.0,810.9 L1106.5,810.9 L1107.0,810.9 L1108.0,810.9 L1108.5,810.9 L1109.0,810.9 L1110.0,810.9 L1110.5,810.9 L1111.0,810.9 L1112.0,810.9 L1112.5,810.9 L1113.0,810.9 L1114.0,810.9 L1114.5,810.9 L1115.0,810.9 L1116.0,810.9 L1116.5,810.8 L1117.0,810.8 L1118.0,810.8 L1118.5,810.8 L1119.0,810.8 L1120.0,810.8 L1120.5,810.8 L1121.0,810.8 L1122.0,810.7 L1122.5,810.7 L1123.0,810.7 L1124.0,810.7 L1124.5,810.7 L1125.0,810.7 L1126.0,810.6 L1126.5,810.6 L1127.0,810.6 L1128.0,810.5 L1128.5,810.5 L1129.0,810.4 L1130.0,810.4 L1130.5,810.3 L1131.0,810.3 L1132.0,810.2 L1132.5,810.1 L1133.0,810.1 L1134.0,809.9 L1134.5,809.9 L1135.0,809.8 L1136.0,809.6 L1136.5,809.6 L1137.0,809.5 L1138.0,809.3 L1138.5,809.2 L1139.0,809.1 L1140.0,808.8 L1140.5,808.7 L1141.0,808.6 L1142.0,808.4 L1142.5,808.3 L1143.0,808.1 L1144.0,807.9 L1144.5,807.8 L1145.0,807.7 L1146.0,807.4 L1146.5,807.3 L1147.0,807.3 L1148.0,807.1 L1148.5,807.1 L1149.0,807.0 L1150.0,807.0 L1150.5,807.0 L1151.0,807.0 L1152.0,807.1 L1152.5,807.2 L1153.0,807.3 L1154.0,807.4 L1154.5,807.6 L1155.0,807.7 L1156.0,807.9 L1156.5,808.0 L1157.0,808.1 L1158.0,808.4 L1158.5,808.5 L1159.0,808.6 L1160.0,808.9 L1160.5,809.0 L1161.0,809.1 L1162.0,809.3 L1162.5,809.4 L1163.0,809.5 L1164.0,809.7 L1164.5,809.7 L1165.0,809.8 L1166.0,810.0 L1166.5,810.0 L1167.0,810.1 L1168.0,810.2 L1168.5,810.3 L1169.0,810.3 L1170.0,810.4 L1170.5,810.4 L1171.0,810.5 L1172.0,810.5 L1172.5,810.6 L1173.0,810.6 L1174.0,810.7 L1174.5,810.7 L1175.0,810.7 L1176.0,810.7 L1176.5,810.8 L1177.0,810.8 L1178.0,810.8 L1178.5,810.8 L1179.0,810.8 L1180.0,810.8 L1180.5,810.9 L1181.0,810.9 L1182.0,810.9 L1182.5,810.9 L1183.0,810.9 L1184.0,810.9 L1184.5,810.9 L1185.0,810.9 L1186.0,810.9 L1186.5,811.0 L1187.0,811.0 L1188.0,811.0 L1188.5,811.0 L1189.0,811.0 L1190.0,811.0 L1190.5,811.0 L1191.0,811.0 L1192.0,811.0 L1192.5,811.0 L1193.0,811.0 L1194.0,811.0 L1194.5,811.0 L1195.0,811.0 L1196.0,811.0 L1196.5,811.0 L1197.0,811.0 L1198.0,811.0 L1198.5,811.0 L1199.0,811.0 L1200.0,811.1 L1200.5,811.1 L1201.0,811.1 L1202.0,811.1 L1202.5,811.1 L1203.0,811.1 L1204.0,811.1 L1204.5,811.1 L1206.5,811.1 L1208.5,811.1 L1210.5,811.1 L1212.5,811.1 L1214.5,811.1 L1216.5,811.1 L1218.5,811.1 L1220.5,811.1 L1222.5,811.1 L1224.5,811.1 L1226.5,811.1 L1228.5,811.1 L1230.5,811.1 L1232.5,811.1 L1234.5,811.1 L1236.5,811.1 L1238.5,811.1 L1240.5,811.1 L1242.5,811.1 L1244.5,811.1 L1246.5,811.1 L1248.5,811.1 L1250.5,811.1 L1252.5,811.1 L1254.5,811.1 L1256.5,811.1 L1258.5,811.1 L1260.5,811.1 L1262.5,811.1 L1264.5,811.1 L1266.5,811.1 L1268.5,811.1 L1270.5,811.0 L1272.5,811.0 L1274.5,811.0 L1276.5,811.0 L1278.5,811.0 L1280.5,811.0 L1282.5,811.0 L1284.5,811.0 L1286.5,810.9 L1288.5,810.9 L1290.5,810.9 L1292.5,810.9 L1294.5,810.9 L1296.5,810.8 L1298.5,810.8 L1300.5,810.8 L1302.5,810.7 L1304.5,810.7 L1306.5,810.6 L1308.5,810.5 L1310.5,810.5 L1312.5,810.4 L1314.5,810.2 L1316.3,810.1 L1316.5,810.1 L1316.8,810.1 L1317.3,810.0 L1317.8,810.0 L1318.3,809.9 L1318.5,809.9 L1318.8,809.9 L1319.3,809.8 L1319.8,809.8 L1320.3,809.7 L1320.5,809.7 L1320.8,809.7 L1321.3,809.6 L1321.8,809.5 L1322.3,809.4 L1322.5,809.4 L1322.8,809.4 L1323.3,809.3 L1323.8,809.2 L1324.3,809.1 L1324.5,809.1 L1324.8,809.0 L1325.3,808.9 L1325.8,808.8 L1326.3,808.6 L1326.5,808.6 L1326.8,808.5 L1327.3,808.3 L1327.8,808.1 L1328.3,807.9 L1328.5,807.9 L1328.8,807.7 L1329.3,807.5 L1329.8,807.2 L1330.3,806.9 L1330.5,806.7 L1330.8,806.5 L1331.3,806.1 L1331.8,805.7 L1332.3,805.1 L1332.5,804.9 L1332.8,804.5 L1333.3,803.8 L1333.8,803.0 L1334.3,802.0 L1334.5,801.6 L1334.8,801.0 L1335.3,799.8 L1335.8,798.4 L1336.3,796.9 L1336.5,796.2 L1336.8,795.2 L1337.3,793.3 L1337.8,791.3 L1338.3,789.1 L1338.5,788.2 L1338.8,786.8 L1339.3,784.3 L1339.8,781.7 L1340.3,779.1 L1340.5,778.0 L1340.8,776.5 L1341.3,774.0 L1341.8,771.7 L1342.3,769.8 L1342.5,769.1 L1342.8,768.3 L1343.3,767.3 L1343.8,767.0 L1344.3,767.3 L1344.5,767.6 L1344.8,768.3 L1345.3,769.8 L1345.8,771.7 L1346.3,774.0 L1346.5,775.0 L1346.8,776.5 L1347.3,779.1 L1347.8,781.7 L1348.3,784.3 L1348.5,785.3 L1348.8,786.7 L1349.3,789.1 L1349.8,791.3 L1350.3,793.3 L1350.5,794.1 L1350.8,795.2 L1351.3,796.9 L1351.8,798.4 L1352.3,799.8 L1352.5,800.3 L1352.8,801.0 L1353.3,802.0 L1353.8,803.0 L1354.3,803.8 L1354.5,804.1 L1354.8,804.5 L1355.3,805.1 L1355.8,805.6 L1356.3,806.1 L1356.5,806.3 L1356.8,806.5 L1357.3,806.9 L1357.8,807.2 L1358.3,807.5 L1358.5,807.6 L1358.8,807.7 L1359.3,807.9 L1359.8,808.1 L1360.3,808.3 L1360.5,808.4 L1360.8,808.5 L1361.3,808.6 L1361.8,808.7 L1362.3,808.9 L1362.5,808.9 L1362.8,809.0 L1363.3,809.1 L1363.8,809.2 L1364.3,809.3 L1364.5,809.3 L1364.8,809.4 L1365.3,809.4 L1365.8,809.5 L1366.3,809.6 L1366.5,809.6 L1366.8,809.6 L1367.3,809.7 L1367.8,809.8 L1368.3,809.8 L1368.5,809.8 L1368.8,809.9 L1369.3,809.9 L1369.8,810.0 L1370.3,810.0 L1370.5,810.0 L1370.8,810.1 L1372.5,810.2 L1374.5,810.3 L1376.5,810.4 L1378.5,810.5 L1380.5,810.6 L1382.5,810.6 L1384.5,810.7 L1386.5,810.7 L1388.5,810.8 L1390.5,810.8 L1392.5,810.8 L1394.5,810.9 L1396.5,810.9 L1398.5,810.9 L1400.5,810.9 L1402.5,810.9 L1404.5,810.9 L1406.5,811.0 L1408.5,811.0 L1410.5,811.0 L1412.5,811.0 L1414.5,811.0 L1416.5,811.0 L1418.5,811.0 L1420.5,811.0 L1422.5,811.0 L1424.5,811.0 L1426.5,811.0 L1428.5,811.0 L1430.5,811.0 L1432.5,811.0 L1434.5,811.0 L1436.5,811.0 L1438.5,811.0 L1440.5,811.0 L1442.5,811.0 L1444.5,811.0 L1446.5,811.0 L1448.5,811.0 L1450.5,811.0 L1452.5,811.0 L1454.5,811.0 L1456.5,811.0 L1458.5,811.0 L1460.5,811.0 L1462.5,811.0 L1464.5,811.0 L1466.5,811.0 L1468.5,811.0 L1470.5,811.0 L1472.5,811.0 L1474.5,811.0 L1476.5,811.0 L1478.5,811.0 L1480.5,811.0 L1482.5,810.9 L1484.5,810.9 L1486.5,810.9 L1488.5,810.9 L1490.5,810.9 L1492.5,810.9 L1494.5,810.9 L1496.5,810.9 L1498.5,810.8 L1500.5,810.8 L1502.5,810.8 L1504.5,810.8 L1506.5,810.7 L1508.5,810.7 L1510.5,810.7 L1512.5,810.7 L1514.5,810.6 L1516.5,810.6 L1518.5,810.5 L1520.5,810.5 L1522.5,810.4 L1524.5,810.4 L1526.5,810.3 L1528.5,810.2 L1530.5,810.1 L1532.5,810.0 L1534.5,809.9 L1536.5,809.8 L1538.5,809.7 L1540.5,809.5 L1542.5,809.3 L1543.9,809.1 L1544.4,809.0 L1544.5,809.0 L1544.9,809.0 L1545.4,808.9 L1545.9,808.8 L1546.4,808.8 L1546.5,808.7 L1546.9,808.7 L1547.4,808.6 L1547.9,808.5 L1548.4,808.4 L1548.5,808.4 L1548.9,808.3 L1549.4,808.2 L1549.9,808.1 L1550.4,808.0 L1550.5,808.0 L1550.9,807.9 L1551.4,807.7 L1551.9,807.6 L1552.4,807.5 L1552.5,807.4 L1552.9,807.3 L1553.4,807.1 L1553.9,807.0 L1554.4,806.8 L1554.5,806.8 L1554.9,806.6 L1555.4,806.4 L1555.9,806.2 L1556.4,805.9 L1556.5,805.9 L1556.9,805.7 L1557.4,805.4 L1557.9,805.1 L1558.4,804.7 L1558.5,804.7 L1558.9,804.4 L1559.4,803.9 L1559.9,803.5 L1560.4,803.0 L1560.5,802.9 L1560.9,802.4 L1561.4,801.8 L1561.9,801.1 L1562.4,800.3 L1562.5,800.1 L1562.9,799.4 L1563.4,798.4 L1563.9,797.2 L1564.4,795.9 L1564.5,795.7 L1564.9,794.5 L1565.4,792.9 L1565.9,791.1 L1566.4,789.1 L1566.5,788.7 L1566.9,786.9 L1567.4,784.5 L1567.9,781.8 L1568.4,778.9 L1568.5,778.3 L1568.9,775.8 L1569.4,772.5 L1569.9,768.9 L1570.4,765.1 L1570.5,764.3 L1570.9,761.1 L1571.4,756.9 L1571.9,752.7 L1572.4,748.5 L1572.5,747.6 L1572.9,744.3 L1573.4,740.2 L1573.9,736.5 L1574.4,733.1 L1574.5,732.5 L1574.9,730.4 L1575.4,728.3 L1575.9,726.9 L1576.4,726.5 L1576.5,726.5 L1576.9,726.9 L1577.4,728.3 L1577.9,730.4 L1578.4,733.1 L1578.5,733.8 L1578.9,736.5 L1579.4,740.2 L1579.9,744.3 L1580.4,748.5 L1580.5,749.3 L1580.9,752.7 L1581.4,756.9 L1581.9,761.1 L1582.4,765.1 L1582.5,765.8 L1582.9,768.9 L1583.4,772.4 L1583.9,775.8 L1584.4,778.9 L1584.5,779.5 L1584.9,781.8 L1585.4,784.5 L1585.9,786.9 L1586.4,789.1 L1586.5,789.5 L1586.9,791.1 L1587.4,792.9 L1587.9,794.5 L1588.4,795.9 L1588.5,796.2 L1588.9,797.2 L1589.4,798.3 L1589.9,799.4 L1590.4,800.3 L1590.5,800.4 L1590.9,801.1 L1591.4,801.8 L1591.9,802.4 L1592.4,803.0 L1592.5,803.1 L1592.9,803.5 L1593.4,803.9 L1593.9,804.3 L1594.4,804.7 L1594.5,804.8 L1594.9,805.0 L1595.4,805.4 L1595.9,805.6 L1596.4,805.9 L1596.5,806.0 L1596.9,806.1 L1597.4,806.4 L1597.9,806.6 L1598.4,806.8 L1598.5,806.8 L1598.9,807.0 L1599.4,807.1 L1599.9,807.3 L1600.4,807.4 L1600.5,807.5 L1600.9,807.6 L1601.4,807.7 L1601.9,807.8 L1602.4,808.0 L1602.5,808.0 L1602.9,808.1 L1603.4,808.2 L1603.9,808.3 L1604.4,808.4 L1604.5,808.4 L1604.9,808.5 L1605.4,808.6 L1605.9,808.7 L1606.4,808.7 L1606.5,808.7 L1606.9,808.8 L1607.4,808.9 L1607.9,808.9 L1608.4,809.0 L1608.5,809.0 L1610.5,809.3 L1612.5,809.5 L1614.5,809.6 L1616.5,809.8 L1618.5,809.9 L1620.5,810.0 L1622.5,810.1 L1624.5,810.2 L1626.5,810.3 L1628.5,810.3 L1630.5,810.4 L1632.5,810.4 L1634.5,810.5 L1636.5,810.5 L1638.5,810.6 L1640.5,810.6 L1642.5,810.6 L1644.5,810.7 L1646.5,810.7 L1648.5,810.7 L1650.5,810.7 L1652.5,810.7 L1654.5,810.7 L1656.5,810.8 L1658.5,810.8 L1660.5,810.8 L1662.5,810.8 L1664.5,810.8 L1666.5,810.8 L1668.5,810.8 L1670.5,810.8 L1672.5,810.8 L1674.5,810.8 L1676.5,810.8 L1678.5,810.8 L1680.5,810.8 L1682.5,810.8 L1684.5,810.8 L1686.5,810.8 L1688.5,810.8 L1690.5,810.8 L1692.5,810.7 L1693.6,810.7 L1694.5,810.7 L1694.6,810.7 L1695.6,810.7 L1696.5,810.7 L1696.6,810.7 L1697.6,810.7 L1698.5,810.7 L1698.6,810.7 L1699.6,810.7 L1700.5,810.7 L1700.6,810.7 L1701.6,810.6 L1702.5,810.6 L1702.6,810.6 L1703.6,810.6 L1704.5,810.6 L1704.6,810.6 L1705.6,810.6 L1706.5,810.6 L1706.6,810.6 L1707.6,810.5 L1708.5,810.5 L1708.6,810.5 L1709.6,810.5 L1710.5,810.5 L1710.6,810.5 L1711.6,810.4 L1712.5,810.4 L1712.6,810.4 L1713.6,810.4 L1714.5,810.3 L1714.6,810.3 L1715.6,810.3 L1716.5,810.3 L1716.6,810.3 L1717.6,810.2 L1718.5,810.2 L1718.6,810.2 L1719.6,810.1 L1720.5,810.1 L1720.6,810.1 L1721.6,810.0 L1722.5,809.9 L1722.6,809.9 L1723.6,809.8 L1724.5,809.7 L1724.6,809.7 L1725.6,809.6 L1726.5,809.5 L1726.6,809.5 L1727.6,809.4 L1728.5,809.2 L1728.6,809.2 L1729.6,809.0 L1730.5,808.8 L1730.6,808.8 L1731.6,808.6 L1732.5,808.3 L1732.6,808.3 L1733.6,808.0 L1734.5,807.7 L1734.6,807.7 L1735.6,807.3 L1736.5,806.9 L1736.6,806.9 L1737.6,806.4 L1738.5,806.0 L1738.6,805.9 L1739.6,805.4 L1740.5,804.8 L1740.6,804.7 L1741.6,804.1 L1742.5,803.5 L1742.6,803.4 L1743.6,802.7 L1744.5,802.0 L1744.6,801.9 L1745.6,801.2 L1746.5,800.5 L1746.6,800.4 L1747.6,799.6 L1748.5,799.0 L1748.6,798.9 L1749.6,798.3 L1750.5,797.8 L1750.6,797.8 L1751.6,797.3 L1752.5,797.1 L1752.6,797.1 L1753.6,797.0 L1754.5,797.1 L1754.6,797.1 L1755.6,797.3 L1756.5,797.7 L1756.6,797.7 L1757.0,797.9 L1757.5,798.2 L1757.6,798.3 L1758.0,798.5 L1758.5,798.9 L1758.6,798.9 L1759.0,799.2 L1759.5,799.6 L1759.6,799.6 L1760.0,799.9 L1760.5,800.3 L1760.6,800.4 L1761.0,800.7 L1761.5,801.1 L1761.6,801.1 L1762.0,801.4 L1762.5,801.8 L1762.6,801.9 L1763.0,802.2 L1763.5,802.6 L1763.6,802.7 L1764.0,802.9 L1764.5,803.3 L1764.6,803.4 L1765.0,803.7 L1765.5,804.0 L1765.6,804.1 L1766.0,804.3 L1766.5,804.6 L1766.6,804.7 L1767.0,804.9 L1767.5,805.2 L1767.6,805.3 L1768.0,805.5 L1768.5,805.8 L1768.6,805.9 L1769.0,806.1 L1769.5,806.3 L1769.6,806.4 L1770.0,806.5 L1770.5,806.8 L1770.6,806.8 L1771.0,807.0 L1771.5,807.2 L1771.6,807.2 L1772.0,807.4 L1772.5,807.5 L1772.6,807.6 L1773.0,807.7 L1773.5,807.9 L1773.6,807.9 L1774.0,808.0 L1774.5,808.1 L1774.6,808.2 L1775.0,808.3 L1775.5,808.4 L1775.6,808.4 L1776.0,808.5 L1776.5,808.6 L1776.6,808.6 L1777.0,808.7 L1777.5,808.8 L1777.6,808.8 L1778.0,808.8 L1778.5,808.9 L1778.6,808.9 L1779.0,808.9 L1779.5,809.0 L1779.6,809.0 L1780.0,809.0 L1780.5,809.0 L1780.6,809.0 L1781.0,809.1 L1781.5,809.1 L1781.6,809.1 L1782.0,809.1 L1782.5,809.1 L1782.6,809.1 L1783.0,809.0 L1783.5,809.0 L1783.6,809.0 L1784.0,809.0 L1784.5,808.9 L1784.6,808.9 L1785.0,808.9 L1785.5,808.8 L1785.6,808.8 L1786.0,808.8 L1786.5,808.7 L1786.6,808.7 L1787.0,808.6 L1787.5,808.5 L1787.6,808.5 L1788.0,808.4 L1788.5,808.3 L1788.6,808.3 L1789.0,808.2 L1789.5,808.1 L1789.6,808.1 L1790.0,808.0 L1790.5,807.9 L1790.6,807.8 L1791.0,807.8 L1791.5,807.7 L1791.6,807.7 L1792.0,807.6 L1792.5,807.5 L1792.6,807.5 L1793.0,807.5 L1793.5,807.5 L1793.6,807.5 L1794.0,807.5 L1794.5,807.5 L1794.6,807.5 L1795.0,807.6 L1795.5,807.7 L1795.6,807.7 L1796.0,807.8 L1796.5,807.9 L1796.6,807.9 L1797.0,808.0 L1797.5,808.1 L1797.6,808.2 L1798.0,808.3 L1798.5,808.4 L1798.6,808.4 L1799.0,808.6 L1799.5,808.7 L1799.6,808.7 L1800.0,808.9 L1800.5,809.0 L1800.6,809.0 L1801.0,809.1 L1801.5,809.3 L1801.6,809.3 L1802.0,809.4 L1802.5,809.5 L1802.6,809.5 L1803.0,809.6 L1803.5,809.7 L1803.6,809.7 L1804.0,809.8 L1804.5,809.9 L1804.6,809.9 L1805.0,810.0 L1805.5,810.1 L1805.6,810.1 L1806.0,810.1 L1806.5,810.2 L1806.6,810.2 L1807.0,810.3 L1807.5,810.3 L1807.6,810.3 L1808.0,810.4 L1808.5,810.4 L1808.6,810.4 L1809.0,810.5 L1809.5,810.5 L1809.6,810.5 L1810.0,810.6 L1810.5,810.6 L1810.6,810.6 L1811.0,810.6 L1811.5,810.6 L1811.6,810.6 L1812.0,810.7 L1812.5,810.7 L1812.6,810.7 L1813.0,810.7 L1813.5,810.7 L1814.0,810.8 L1814.5,810.8 L1815.0,810.8 L1815.5,810.8 L1816.0,810.8 L1816.5,810.8 L1817.0,810.9 L1817.5,810.9 L1818.0,810.9 L1818.5,810.9 L1819.0,810.9 L1819.5,810.9 L1820.0,810.9 L1820.5,810.9 L1821.0,810.9 L1821.5,810.9 L1822.0,811.0 L1822.5,811.0 L1823.0,811.0 L1823.5,811.0 L1824.0,811.0 L1824.5,811.0 L1825.0,811.0 L1825.5,811.0 L1826.0,811.0 L1826.3,811.0 L1826.5,811.0 L1827.0,811.0 L1827.3,811.0 L1827.5,811.0 L1828.0,811.0 L1828.3,811.0 L1828.5,811.1 L1829.0,811.1 L1829.3,811.1 L1829.5,811.1 L1830.0,811.1 L1830.3,811.1 L1830.5,811.1 L1831.0,811.1 L1831.3,811.1 L1832.3,811.1 L1832.5,811.1 L1833.3,811.1 L1834.3,811.1 L1834.5,811.1 L1835.3,811.1 L1836.3,811.1 L1836.5,811.1 L1837.3,811.1 L1838.3,811.1 L1838.5,811.1 L1839.3,811.1 L1840.3,811.1 L1840.5,811.2 L1841.3,811.2 L1842.3,811.2 L1842.5,811.2 L1843.3,811.2 L1844.3,811.2 L1844.5,811.2 L1845.3,811.2 L1846.3,811.2 L1846.5,811.2 L1847.3,811.2 L1848.3,811.2 L1848.5,811.2 L1849.3,811.2 L1850.3,811.2 L1850.5,811.2 L1851.3,811.2 L1852.3,811.2 L1852.5,811.2 L1853.3,811.2 L1854.3,811.2 L1854.5,811.2 L1855.3,811.2 L1856.3,811.2 L1856.5,811.2 L1857.3,811.2 L1858.3,811.2 L1858.5,811.2 L1859.3,811.2 L1860.3,811.2 L1860.5,811.2 L1861.3,811.2 L1862.3,811.2 L1862.5,811.2 L1863.3,811.2 L1864.3,811.2 L1864.5,811.2 L1865.3,811.2 L1866.3,811.2 L1866.5,811.2 L1867.3,811.2 L1868.3,811.2 L1868.5,811.2 L1869.3,811.2 L1870.3,811.2 L1870.5,811.2 L1871.3,811.2 L1872.3,811.2 L1872.5,811.2 L1873.3,811.2 L1874.3,811.2 L1874.5,811.2 L1875.3,811.2 L1876.3,811.2 L1876.5,811.2 L1877.3,811.2 L1878.3,811.2 L1878.5,811.2 L1879.3,811.2 L1880.3,811.2 L1880.5,811.2 L1881.3,811.2 L1882.3,811.2 L1882.5,811.2 L1883.3,811.1 L1884.3,811.1 L1884.5,811.1 L1885.3,811.1 L1886.3,811.1 L1886.5,811.1 L1887.3,811.1 L1888.3,811.1 L1888.5,811.1 L1889.3,811.1 L1890.3,811.1 L1890.5,811.1 L1891.3,811.0 L1892.3,811.0 L1892.5,811.0 L1893.3,811.0 L1894.3,811.0 L1894.5,811.0 L1895.3,811.0 L1896.3,810.9 L1896.5,810.9 L1897.3,810.9 L1898.3,810.9 L1898.5,810.9 L1899.3,810.9 L1900.3,810.8 L1900.5,810.8 L1901.3,810.8 L1902.3,810.7 L1902.5,810.7 L1903.3,810.7 L1904.3,810.7 L1904.5,810.7 L1905.3,810.6 L1906.3,810.6 L1906.5,810.6 L1907.3,810.5 L1908.3,810.5 L1908.5,810.4 L1909.3,810.4 L1910.3,810.3 L1910.5,810.3 L1911.3,810.3 L1912.3,810.2 L1912.5,810.2 L1913.3,810.1 L1914.3,810.1 L1914.5,810.0 L1915.3,810.0 L1916.3,809.9 L1916.5,809.9 L1917.3,809.8 L1918.3,809.7 L1918.5,809.7 L1919.3,809.6 L1920.3,809.6 L1920.5,809.5 L1921.3,809.5 L1922.3,809.4 L1922.5,809.4 L1923.3,809.3 L1924.3,809.2 L1924.5,809.2 L1925.3,809.1 L1926.3,809.0 L1926.5,809.0 L1927.3,808.9 L1928.3,808.8 L1928.5,808.8 L1929.3,808.7 L1930.3,808.7 L1930.5,808.6 L1931.3,808.6 L1932.3,808.5 L1932.5,808.5 L1933.3,808.5 L1934.3,808.4 L1934.5,808.4 L1935.3,808.4 L1936.3,808.3 L1936.5,808.3 L1937.3,808.3 L1938.3,808.3 L1938.5,808.3 L1939.3,808.3 L1940.3,808.3 L1940.5,808.3 L1941.3,808.3 L1942.3,808.4 L1942.5,808.4 L1943.3,808.4 L1944.3,808.5 L1944.5,808.5 L1945.3,808.5 L1946.3,808.6 L1946.5,808.6 L1947.3,808.7 L1948.3,808.8 L1948.5,808.8 L1949.3,808.9 L1950.3,809.0 L1950.5,809.0 L1951.3,809.1 L1952.3,809.2 L1952.5,809.2 L1953.3,809.3 L1954.3,809.4 L1954.5,809.4 L1955.3,809.4 L1956.3,809.5 L1956.5,809.6 L1957.3,809.6 L1958.3,809.7 L1958.5,809.8 L1959.3,809.8 L1960.3,809.9 L1960.5,809.9 L1961.3,810.0 L1962.3,810.1 L1962.5,810.1 L1963.3,810.2 L1964.3,810.2 L1964.5,810.3 L1965.3,810.3 L1966.3,810.4 L1966.5,810.4 L1967.3,810.5 L1968.3,810.5 L1968.5,810.5 L1969.3,810.6 L1970.3,810.7 L1970.5,810.7 L1971.3,810.7 L1972.3,810.8 L1972.5,810.8 L1973.3,810.8 L1974.3,810.9 L1974.5,810.9 L1975.3,810.9 L1976.3,811.0 L1976.5,811.0 L1977.3,811.0 L1978.3,811.0 L1978.5,811.0 L1979.3,811.1 L1980.3,811.1 L1980.5,811.1 L1981.3,811.1 L1982.3,811.2 L1982.5,811.2 L1983.3,811.2 L1984.3,811.2 L1984.5,811.2 L1985.3,811.2 L1986.3,811.3 L1986.5,811.3 L1987.3,811.3 L1988.3,811.3 L1988.5,811.3 L1989.3,811.3 L1990.3,811.3 L1990.5,811.3 L1991.3,811.4 L1992.3,811.4 L1992.5,811.4 L1993.3,811.4 L1994.3,811.4 L1994.5,811.4 L1995.3,811.4 L1996.3,811.4 L1996.5,811.4 L1997.3,811.4 L1998.3,811.5 L1998.5,811.5 L1999.3,811.5 L2000.3,811.5 L2000.5,811.5 L2001.3,811.5 L2002.3,811.5 L2002.5,811.5 L2003.3,811.5 L2004.3,811.5 L2004.5,811.5 L2005.3,811.5 L2006.3,811.5 L2006.5,811.5 L2007.3,811.5 L2008.3,811.5 L2008.5,811.5 L2009.3,811.6 L2010.3,811.6 L2010.5,811.6 L2011.3,811.6 L2011.5,811.6" stroke="#FFBE7A"/>
<path d="M150.5,1090.7 L152.5,1090.7 L154.5,1090.8 L156.5,1090.8 L158.5,1090.9 L160.5,1090.9 L162.5,1091.0 L164.5,1091.0 L166.5,1091.0 L168.5,1091.1 L170.5,1091.1 L172.5,1091.2 L174.5,1091.2 L176.5,1091.3 L178.5,1091.3 L180.5,1091.4 L182.5,1091.4 L184.5,1091.4 L186.5,1091.5 L188.5,1091.5 L190.5,1091.6 L192.5,1091.6 L194.5,1091.7 L196.5,1091.7 L198.5,1091.8 L200.5,1091.8 L202.5,1091.8 L204.5,1091.9 L206.5,1091.9 L208.5,1092.0 L210.5,1092.0 L212.5,1092.1 L214.5,1092.1 L216.5,1092.2 L218.5,1092.2 L220.5,1092.2 L222.5,1092.3 L224.5,1092.3 L226.5,1092.4 L228.5,1092.4 L230.5,1092.5 L232.5,1092.5 L234.5,1092.6 L236.5,1092.6 L238.5,1092.6 L240.5,1092.7 L242.5,1092.7 L244.5,1092.8 L246.5,1092.8 L248.5,1092.9 L250.5,1092.9 L252.5,1092.9 L254.5,1093.0 L256.5,1093.0 L258.5,1093.1 L260.5,1093.1 L262.5,1093.2 L264.5,1093.2 L266.5,1093.3 L268.5,1093.3 L270.5,1093.3 L272.5,1093.4 L274.5,1093.4 L276.5,1093.5 L278.5,1093.5 L280.5,1093.6 L282.5,1093.6 L284.5,1093.6 L286.5,1093.7 L288.5,1093.7 L290.5,1093.8 L292.5,1093.8 L294.5,1093.9 L296.5,1093.9 L298.5,1093.9 L300.5,1094.0 L302.5,1094.0 L304.5,1094.1 L306.5,1094.1 L308.5,1094.2 L310.5,1094.2 L312.5,1094.2 L314.5,1094.3 L316.5,1094.3 L318.5,1094.4 L320.5,1094.4 L322.5,1094.5 L324.5,1094.5 L326.5,1094.5 L328.5,1094.5 L330.5,1094.6 L332.5,1094.6 L334.5,1094.6 L336.5,1094.6 L338.5,1094.6 L340.5,1094.6 L342.5,1094.7 L344.5,1094.7 L346.5,1094.7 L348.5,1094.7 L350.5,1094.7 L352.5,1094.7 L354.5,1094.7 L356.5,1094.8 L358.5,1094.8 L360.5,1094.8 L362.5,1094.8 L364.5,1094.8 L366.5,1094.8 L368.5,1094.9 L370.5,1094.9 L372.5,1094.9 L374.5,1094.9 L376.5,1094.9 L378.5,1094.9 L380.5,1094.9 L382.5,1094.9 L384.5,1095.0 L386.5,1095.0 L388.5,1095.0 L390.5,1095.0 L392.5,1095.0 L394.5,1095.0 L396.5,1095.0 L398.5,1095.0 L400.5,1095.0 L402.5,1095.1 L404.5,1095.1 L406.5,1095.1 L408.5,1095.1 L410.5,1095.1 L412.5,1095.1 L414.5,1095.1 L416.5,1095.1 L418.5,1095.1 L420.5,1095.1 L422.5,1095.1 L424.5,1095.0 L426.5,1095.0 L428.5,1095.0 L430.5,1095.0 L432.5,1094.9 L434.5,1094.9 L436.5,1094.8 L438.5,1094.8 L440.5,1094.7 L442.5,1094.6 L443.0,1094.6 L443.5,1094.6 L444.0,1094.5 L444.5,1094.5 L445.0,1094.5 L445.5,1094.4 L446.0,1094.4 L446.5,1094.4 L447.0,1094.3 L447.5,1094.3 L448.0,1094.2 L448.5,1094.2 L449.0,1094.1 L449.5,1094.1 L450.0,1094.0 L450.5,1093.9 L451.0,1093.8 L451.5,1093.8 L452.0,1093.7 L452.5,1093.6 L453.0,1093.5 L453.5,1093.3 L454.0,1093.2 L454.5,1093.1 L455.0,1092.9 L455.5,1092.7 L456.0,1092.5 L456.5,1092.2 L457.0,1091.9 L457.5,1091.5 L458.0,1091.1 L458.5,1090.6 L459.0,1090.1 L459.5,1089.4 L460.0,1088.6 L460.5,1087.8 L461.0,1086.8 L461.5,1085.7 L462.0,1084.5 L462.5,1083.1 L463.0,1081.6 L463.5,1080.0 L464.0,1078.3 L464.5,1076.6 L465.0,1074.8 L465.5,1073.1 L466.0,1071.4 L466.5,1070.0 L467.0,1068.9 L467.5,1068.2 L468.0,1068.0 L468.5,1068.2 L469.0,1068.9 L469.5,1070.0 L470.0,1071.4 L470.5,1073.0 L471.0,1074.7 L471.5,1076.5 L472.0,1078.3 L472.5,1079.9 L473.0,1081.5 L473.5,1083.0 L474.0,1084.4 L474.5,1085.6 L475.0,1086.7 L475.5,1087.7 L476.0,1088.5 L476.5,1089.3 L477.0,1089.9 L477.5,1090.5 L478.0,1090.9 L478.5,1091.4 L479.0,1091.7 L479.5,1092.0 L480.0,1092.3 L480.5,1092.5 L481.0,1092.7 L481.5,1092.8 L482.0,1093.0 L482.5,1093.1 L483.0,1093.2 L483.5,1093.3 L484.0,1093.4 L484.5,1093.5 L485.0,1093.6 L485.5,1093.6 L486.0,1093.7 L486.5,1093.7 L487.0,1093.8 L487.5,1093.8 L488.0,1093.9 L488.5,1093.9 L489.0,1093.9 L489.5,1094.0 L490.0,1094.0 L490.5,1094.0 L491.0,1094.1 L491.5,1094.1 L492.0,1094.1 L492.5,1094.1 L494.5,1094.2 L496.5,1094.2 L498.5,1094.2 L500.5,1094.2 L502.5,1094.2 L504.5,1094.1 L506.5,1094.1 L508.5,1094.0 L510.5,1093.9 L512.5,1093.8 L514.5,1093.7 L516.5,1093.5 L518.5,1093.4 L520.5,1093.2 L522.5,1093.0 L524.5,1092.8 L526.5,1092.6 L528.5,1092.3 L530.0,1092.1 L530.5,1092.0 L530.9,1091.9 L531.0,1091.9 L531.4,1091.8 L531.9,1091.7 L532.0,1091.7 L532.4,1091.6 L532.5,1091.6 L532.9,1091.5 L533.0,1091.5 L533.4,1091.4 L533.9,1091.2 L534.0,1091.2 L534.4,1091.1 L534.5,1091.1 L534.9,1091.0 L535.0,1091.0 L535.4,1090.8 L535.9,1090.7 L536.0,1090.7 L536.4,1090.5 L536.5,1090.5 L536.9,1090.4 L537.0,1090.4 L537.4,1090.2 L537.9,1090.1 L538.0,1090.0 L538.4,1089.9 L538.5,1089.8 L538.9,1089.7 L539.0,1089.6 L539.4,1089.5 L539.9,1089.3 L540.0,1089.2 L540.4,1089.0 L540.5,1089.0 L540.9,1088.8 L541.0,1088.8 L541.4,1088.5 L541.9,1088.3 L542.0,1088.2 L542.4,1088.0 L542.5,1087.9 L542.9,1087.7 L543.0,1087.6 L543.4,1087.4 L543.9,1087.0 L544.0,1087.0 L544.4,1086.7 L544.5,1086.6 L544.9,1086.3 L545.0,1086.2 L545.4,1085.9 L545.9,1085.4 L546.0,1085.3 L546.4,1084.9 L546.5,1084.8 L546.9,1084.4 L547.0,1084.2 L547.4,1083.8 L547.9,1083.1 L548.0,1083.0 L548.4,1082.4 L548.5,1082.2 L548.9,1081.6 L549.0,1081.4 L549.4,1080.7 L549.9,1079.7 L550.0,1079.5 L550.4,1078.6 L550.5,1078.3 L550.9,1077.3 L551.0,1077.1 L551.4,1076.0 L551.9,1074.4 L552.0,1074.1 L552.4,1072.7 L552.5,1072.3 L552.9,1070.8 L553.0,1070.3 L553.4,1068.6 L553.9,1066.2 L554.0,1065.7 L554.4,1063.6 L554.5,1063.0 L554.9,1060.7 L555.0,1060.0 L555.4,1057.4 L555.9,1053.9 L556.0,1053.2 L556.4,1050.1 L556.5,1049.3 L556.9,1045.9 L557.0,1045.0 L557.4,1041.4 L557.9,1036.5 L558.0,1035.5 L558.4,1031.4 L558.5,1030.3 L558.9,1025.9 L559.0,1024.8 L559.4,1020.1 L559.9,1014.1 L560.0,1012.9 L560.4,1007.9 L560.5,1006.6 L560.9,1001.5 L561.0,1000.2 L561.4,995.1 L561.8,990.0 L561.9,988.7 L562.0,987.4 L562.3,983.7 L562.4,982.5 L562.5,981.2 L562.8,977.7 L562.9,976.5 L563.0,975.4 L563.3,972.1 L563.4,971.0 L563.8,967.0 L563.9,966.1 L564.0,965.2 L564.3,962.7 L564.4,962.0 L564.5,961.2 L564.8,959.3 L564.9,958.7 L565.0,958.2 L565.3,956.9 L565.4,956.6 L565.8,955.6 L565.9,955.5 L566.0,955.4 L566.3,955.5 L566.4,955.6 L566.5,955.7 L566.8,956.5 L566.9,956.8 L567.0,957.2 L567.3,958.5 L567.4,959.0 L567.8,961.5 L567.9,962.2 L568.0,962.9 L568.3,965.3 L568.4,966.1 L568.5,967.0 L568.8,969.7 L568.9,970.6 L569.0,971.6 L569.3,974.6 L569.4,975.6 L569.8,979.7 L569.9,980.8 L570.0,981.9 L570.3,985.1 L570.4,986.2 L570.5,987.2 L570.8,990.5 L570.9,991.6 L571.0,992.6 L571.3,995.8 L571.4,996.9 L571.8,1001.0 L571.9,1002.0 L572.0,1003.0 L572.3,1006.0 L572.4,1007.0 L572.5,1007.9 L572.8,1010.8 L572.9,1011.7 L573.0,1012.6 L573.3,1015.2 L573.4,1016.1 L573.8,1019.4 L573.9,1020.1 L574.0,1020.9 L574.3,1023.2 L574.4,1023.9 L574.5,1024.6 L574.8,1026.7 L574.9,1027.3 L575.0,1028.0 L575.3,1029.8 L575.4,1030.4 L575.8,1032.6 L575.9,1033.2 L576.0,1033.7 L576.3,1035.2 L576.4,1035.6 L576.5,1036.1 L576.8,1037.4 L576.9,1037.8 L577.0,1038.2 L577.3,1039.3 L577.4,1039.7 L577.8,1041.0 L577.9,1041.3 L578.0,1041.6 L578.3,1042.4 L578.4,1042.6 L578.5,1042.9 L578.8,1043.5 L578.9,1043.8 L579.0,1044.0 L579.3,1044.5 L579.4,1044.7 L579.8,1045.3 L579.9,1045.4 L580.0,1045.5 L580.3,1045.8 L580.4,1045.9 L580.5,1046.0 L580.8,1046.2 L580.9,1046.2 L581.0,1046.3 L581.3,1046.3 L581.4,1046.4 L581.8,1046.3 L581.9,1046.3 L582.0,1046.3 L582.3,1046.2 L582.4,1046.1 L582.5,1046.1 L582.8,1045.8 L582.9,1045.8 L583.0,1045.7 L583.3,1045.3 L583.4,1045.2 L583.8,1044.7 L583.9,1044.5 L584.0,1044.4 L584.3,1043.9 L584.4,1043.7 L584.5,1043.6 L584.8,1043.0 L584.9,1042.8 L585.0,1042.6 L585.3,1042.0 L585.4,1041.8 L585.8,1041.0 L585.9,1040.7 L586.0,1040.5 L586.3,1039.9 L586.4,1039.7 L586.5,1039.5 L586.8,1038.9 L586.9,1038.7 L587.0,1038.5 L587.3,1037.9 L587.4,1037.8 L587.8,1037.2 L587.9,1037.1 L588.0,1037.0 L588.3,1036.7 L588.4,1036.7 L588.5,1036.6 L588.8,1036.5 L588.9,1036.5 L589.0,1036.6 L589.3,1036.7 L589.4,1036.8 L589.8,1037.2 L589.9,1037.4 L590.0,1037.5 L590.3,1038.1 L590.4,1038.3 L590.5,1038.5 L590.8,1039.3 L590.9,1039.6 L591.0,1039.8 L591.3,1040.7 L591.4,1041.0 L591.8,1042.3 L591.9,1042.7 L592.0,1043.0 L592.3,1044.0 L592.4,1044.4 L592.5,1044.8 L592.8,1045.8 L592.9,1046.2 L593.0,1046.5 L593.3,1047.6 L593.4,1047.9 L593.8,1049.3 L593.9,1049.6 L594.0,1050.0 L594.3,1050.9 L594.4,1051.2 L594.5,1051.5 L594.8,1052.4 L594.9,1052.7 L595.0,1053.0 L595.3,1053.9 L595.4,1054.1 L595.8,1055.1 L595.9,1055.4 L596.0,1055.6 L596.3,1056.3 L596.4,1056.5 L596.5,1056.7 L596.8,1057.3 L596.9,1057.5 L597.0,1057.7 L597.3,1058.3 L597.4,1058.5 L597.8,1059.1 L597.9,1059.3 L598.0,1059.4 L598.3,1059.9 L598.4,1060.0 L598.5,1060.1 L598.8,1060.5 L598.9,1060.7 L599.0,1060.8 L599.3,1061.1 L599.4,1061.3 L599.5,1061.4 L599.8,1061.7 L599.9,1061.8 L600.0,1061.9 L600.3,1062.2 L600.4,1062.4 L600.5,1062.5 L600.8,1062.8 L601.0,1063.0 L601.3,1063.3 L601.5,1063.5 L601.8,1063.8 L602.0,1064.0 L602.3,1064.2 L602.5,1064.4 L602.8,1064.7 L603.0,1064.9 L603.3,1065.2 L603.5,1065.4 L603.8,1065.6 L604.0,1065.8 L604.3,1066.1 L604.5,1066.2 L604.8,1066.5 L605.0,1066.6 L605.3,1066.9 L605.5,1067.0 L605.8,1067.2 L606.0,1067.3 L606.3,1067.5 L606.5,1067.6 L606.8,1067.7 L607.0,1067.8 L607.3,1067.9 L607.5,1067.9 L607.8,1068.0 L608.0,1068.0 L608.3,1068.0 L608.5,1068.0 L608.8,1067.9 L609.0,1067.8 L609.3,1067.7 L609.5,1067.6 L609.8,1067.4 L610.0,1067.2 L610.3,1066.9 L610.5,1066.7 L610.8,1066.3 L611.0,1066.0 L611.3,1065.4 L611.5,1065.0 L611.8,1064.4 L612.0,1063.9 L612.3,1063.0 L612.5,1062.4 L612.8,1061.3 L613.0,1060.6 L613.3,1059.3 L613.5,1058.3 L613.8,1056.8 L614.0,1055.6 L614.3,1053.7 L614.5,1052.4 L614.8,1050.1 L615.0,1048.5 L615.3,1045.8 L615.5,1043.8 L615.8,1040.7 L616.0,1038.4 L616.3,1034.7 L616.5,1032.0 L617.0,1024.7 L617.5,1016.3 L618.0,1006.8 L618.5,996.1 L619.0,984.2 L619.5,971.2 L620.0,957.1 L620.5,942.2 L621.0,926.5 L621.5,910.4 L622.0,894.3 L622.5,878.8 L623.0,864.6 L623.5,852.4 L624.0,842.9 L624.5,837.0 L625.0,835.0 L625.5,837.2 L626.0,843.4 L626.5,853.1 L627.0,865.6 L627.5,880.1 L628.0,895.8 L628.5,912.2 L629.0,928.5 L629.5,944.5 L630.0,959.8 L630.5,974.1 L631.0,987.5 L631.5,999.6 L632.0,1010.7 L632.5,1020.6 L633.0,1029.4 L633.5,1037.1 L634.0,1043.9 L634.5,1049.7 L635.0,1054.8 L635.5,1059.2 L636.0,1062.9 L636.5,1066.2 L637.0,1068.9 L637.5,1071.3 L638.0,1073.4 L638.5,1075.2 L639.0,1076.8 L639.5,1078.2 L640.0,1079.4 L640.5,1080.5 L641.0,1081.5 L641.5,1082.4 L642.0,1083.2 L642.5,1084.0 L643.0,1084.7 L643.5,1085.3 L644.0,1085.9 L644.5,1086.4 L645.0,1087.0 L645.5,1087.4 L646.0,1087.9 L646.5,1088.3 L647.0,1088.7 L647.5,1089.1 L648.0,1089.5 L648.5,1089.8 L649.0,1090.1 L649.5,1090.4 L650.0,1090.7 L650.5,1091.0 L652.5,1091.9 L654.5,1092.7 L656.5,1093.4 L658.5,1093.9 L660.5,1094.4 L662.5,1094.8 L664.5,1095.2 L666.5,1095.5 L668.5,1095.8 L670.5,1096.1 L672.5,1096.3 L674.5,1096.5 L676.5,1096.7 L678.5,1096.9 L680.5,1097.1 L682.5,1097.2 L684.5,1097.4 L686.5,1097.5 L688.5,1097.6 L690.5,1097.7 L692.5,1097.9 L694.5,1098.0 L696.5,1098.1 L698.5,1098.2 L700.5,1098.2 L702.5,1098.3 L704.5,1098.4 L706.5,1098.5 L708.5,1098.5 L710.5,1098.6 L712.5,1098.6 L714.5,1098.7 L716.5,1098.7 L718.5,1098.8 L720.5,1098.8 L722.5,1098.9 L724.5,1098.9 L726.5,1099.0 L728.5,1099.0 L730.5,1099.1 L732.5,1099.1 L734.5,1099.1 L736.5,1099.2 L738.5,1099.2 L740.5,1099.3 L742.5,1099.3 L744.5,1099.3 L746.5,1099.4 L748.5,1099.4 L750.5,1099.4 L752.5,1099.5 L754.5,1099.5 L756.5,1099.5 L758.5,1099.6 L760.5,1099.6 L762.5,1099.6 L764.5,1099.7 L766.5,1099.7 L768.5,1099.7 L770.5,1099.7 L772.5,1099.8 L774.5,1099.8 L776.5,1099.8 L778.5,1099.9 L780.5,1099.9 L782.5,1099.9 L784.5,1099.9 L786.5,1100.0 L788.5,1100.0 L790.5,1100.0 L792.5,1100.0 L794.5,1100.1 L796.5,1100.1 L798.5,1100.1 L800.5,1100.1 L802.5,1100.2 L804.5,1100.2 L806.5,1100.2 L808.5,1100.2 L810.5,1100.3 L812.5,1100.3 L814.5,1100.3 L816.5,1100.3 L818.5,1100.3 L820.5,1100.4 L822.5,1100.4 L824.5,1100.4 L826.5,1100.4 L828.5,1100.5 L830.5,1100.5 L832.5,1100.5 L834.5,1100.5 L836.5,1100.5 L838.5,1100.6 L840.5,1100.6 L842.5,1100.6 L844.5,1100.6 L846.5,1100.7 L848.5,1100.7 L850.5,1100.7 L852.5,1100.7 L854.5,1100.7 L856.5,1100.8 L858.5,1100.8 L860.5,1100.8 L862.5,1100.8 L864.5,1100.8 L866.5,1100.9 L868.5,1100.9 L870.5,1100.9 L872.5,1100.9 L874.5,1100.9 L876.5,1100.9 L878.5,1101.0 L880.5,1101.0 L882.5,1101.0 L884.5,1101.0 L886.5,1101.0 L888.5,1101.1 L890.5,1101.1 L892.5,1101.1 L894.5,1101.1 L896.5,1101.1 L898.5,1101.1 L900.5,1101.2 L902.5,1101.2 L904.5,1101.2 L906.5,1101.1 L908.5,1101.1 L910.5,1101.1 L912.5,1101.1 L914.5,1101.1 L916.5,1101.1 L918.5,1101.1 L920.5,1101.1 L922.5,1101.1 L924.5,1101.1 L926.5,1101.1 L928.5,1101.1 L930.5,1101.1 L932.5,1101.1 L934.5,1101.1 L936.5,1101.1 L938.5,1101.1 L940.5,1101.0 L942.5,1101.0 L944.5,1101.0 L946.5,1101.0 L948.5,1101.0 L950.5,1101.0 L952.5,1101.0 L954.5,1100.9 L956.5,1100.9 L958.5,1100.9 L960.5,1100.9 L962.5,1100.8 L964.5,1100.8 L966.5,1100.8 L968.5,1100.7 L970.5,1100.7 L972.5,1100.6 L974.5,1100.6 L976.5,1100.5 L978.5,1100.4 L980.5,1100.3 L982.5,1100.2 L984.5,1100.1 L986.5,1100.0 L988.5,1099.8 L990.5,1099.6 L992.5,1099.4 L994.5,1099.1 L996.0,1098.9 L996.5,1098.8 L997.0,1098.7 L997.5,1098.6 L998.0,1098.4 L998.5,1098.3 L999.0,1098.2 L999.5,1098.1 L1000.0,1097.9 L1000.5,1097.8 L1001.0,1097.6 L1001.5,1097.5 L1002.0,1097.3 L1002.5,1097.1 L1003.0,1096.9 L1003.5,1096.7 L1004.0,1096.4 L1004.5,1096.1 L1005.0,1095.9 L1005.5,1095.5 L1006.0,1095.2 L1006.5,1094.8 L1007.0,1094.4 L1007.5,1093.9 L1008.0,1093.4 L1008.5,1092.8 L1009.0,1092.2 L1009.5,1091.4 L1010.0,1090.5 L1010.5,1089.5 L1011.0,1088.3 L1011.5,1086.9 L1012.0,1085.3 L1012.5,1083.5 L1013.0,1081.3 L1013.5,1078.9 L1014.0,1076.1 L1014.5,1072.9 L1015.0,1069.4 L1015.5,1065.4 L1016.0,1061.0 L1016.5,1056.2 L1017.0,1051.0 L1017.5,1045.4 L1018.0,1039.6 L1018.5,1033.6 L1019.0,1027.6 L1019.5,1021.7 L1020.0,1016.3 L1020.5,1011.7 L1021.0,1008.1 L1021.5,1005.8 L1022.0,1005.0 L1022.5,1005.8 L1023.0,1008.1 L1023.5,1011.7 L1024.0,1016.3 L1024.5,1021.7 L1025.0,1027.5 L1025.5,1033.5 L1026.0,1039.5 L1026.5,1045.4 L1027.0,1050.9 L1027.5,1056.1 L1028.0,1060.9 L1028.5,1065.3 L1029.0,1069.3 L1029.5,1072.8 L1030.0,1076.0 L1030.5,1078.8 L1031.0,1081.2 L1031.5,1083.3 L1032.0,1085.2 L1032.5,1086.8 L1033.0,1088.1 L1033.5,1089.3 L1034.0,1090.3 L1034.5,1091.2 L1035.0,1092.0 L1035.5,1092.6 L1036.0,1093.2 L1036.5,1093.8 L1037.0,1094.2 L1037.5,1094.6 L1038.0,1095.0 L1038.5,1095.3 L1039.0,1095.6 L1039.5,1095.9 L1040.0,1096.2 L1040.5,1096.4 L1041.0,1096.6 L1041.5,1096.8 L1042.0,1097.0 L1042.5,1097.2 L1043.0,1097.3 L1043.5,1097.5 L1044.0,1097.6 L1044.5,1097.8 L1045.0,1097.9 L1045.5,1098.0 L1046.0,1098.1 L1046.5,1098.2 L1047.0,1098.3 L1047.5,1098.4 L1048.5,1098.6 L1050.5,1098.8 L1052.5,1099.0 L1054.5,1099.2 L1056.5,1099.3 L1058.5,1099.4 L1060.5,1099.5 L1062.5,1099.5 L1064.5,1099.6 L1066.5,1099.6 L1068.5,1099.6 L1070.5,1099.5 L1072.5,1099.5 L1073.0,1099.5 L1074.0,1099.5 L1074.5,1099.5 L1075.0,1099.4 L1076.0,1099.4 L1076.5,1099.4 L1077.0,1099.4 L1078.0,1099.3 L1078.5,1099.3 L1079.0,1099.3 L1080.0,1099.2 L1080.5,1099.2 L1081.0,1099.1 L1082.0,1099.1 L1082.5,1099.0 L1083.0,1099.0 L1084.0,1098.9 L1084.5,1098.9 L1085.0,1098.8 L1086.0,1098.7 L1086.5,1098.7 L1087.0,1098.6 L1088.0,1098.5 L1088.5,1098.5 L1089.0,1098.4 L1090.0,1098.3 L1090.5,1098.2 L1091.0,1098.1 L1092.0,1098.0 L1092.5,1097.9 L1093.0,1097.8 L1094.0,1097.6 L1094.5,1097.5 L1095.0,1097.4 L1096.0,1097.2 L1096.5,1097.1 L1097.0,1096.9 L1098.0,1096.7 L1098.5,1096.5 L1099.0,1096.3 L1100.0,1096.0 L1100.5,1095.8 L1101.0,1095.6 L1102.0,1095.1 L1102.5,1094.8 L1103.0,1094.5 L1104.0,1093.9 L1104.5,1093.6 L1105.0,1093.2 L1106.0,1092.4 L1106.5,1091.9 L1107.0,1091.4 L1108.0,1090.3 L1108.5,1089.7 L1109.0,1089.1 L1110.0,1087.7 L1110.5,1086.9 L1111.0,1086.1 L1112.0,1084.2 L1112.5,1083.2 L1113.0,1082.2 L1114.0,1079.9 L1114.5,1078.7 L1115.0,1077.4 L1116.0,1074.7 L1116.5,1073.2 L1117.0,1071.7 L1118.0,1068.6 L1118.5,1066.9 L1119.0,1065.2 L1120.0,1061.8 L1120.5,1060.0 L1121.0,1058.2 L1122.0,1054.7 L1122.5,1053.0 L1123.0,1051.4 L1124.0,1048.3 L1124.5,1047.0 L1125.0,1045.7 L1126.0,1043.7 L1126.5,1043.0 L1127.0,1042.4 L1128.0,1042.0 L1128.5,1042.1 L1129.0,1042.4 L1130.0,1043.7 L1130.5,1044.6 L1131.0,1045.7 L1132.0,1048.4 L1132.5,1049.8 L1133.0,1051.4 L1134.0,1054.8 L1134.5,1056.5 L1135.0,1058.3 L1136.0,1061.8 L1136.5,1063.6 L1137.0,1065.3 L1138.0,1068.6 L1138.5,1070.2 L1139.0,1071.8 L1140.0,1074.8 L1140.5,1076.2 L1141.0,1077.5 L1142.0,1080.0 L1142.5,1081.2 L1143.0,1082.3 L1144.0,1084.4 L1144.5,1085.3 L1145.0,1086.2 L1146.0,1087.8 L1146.5,1088.6 L1147.0,1089.2 L1148.0,1090.5 L1148.5,1091.1 L1149.0,1091.6 L1150.0,1092.6 L1150.5,1093.0 L1151.0,1093.4 L1152.0,1094.1 L1152.5,1094.4 L1153.0,1094.8 L1154.0,1095.3 L1154.5,1095.6 L1155.0,1095.8 L1156.0,1096.2 L1156.5,1096.4 L1157.0,1096.6 L1158.0,1096.9 L1158.5,1097.1 L1159.0,1097.2 L1160.0,1097.5 L1160.5,1097.6 L1161.0,1097.7 L1162.0,1097.9 L1162.5,1098.0 L1163.0,1098.1 L1164.0,1098.3 L1164.5,1098.4 L1165.0,1098.5 L1166.0,1098.6 L1166.5,1098.7 L1167.0,1098.8 L1168.0,1098.9 L1168.5,1099.0 L1169.0,1099.0 L1170.0,1099.2 L1170.5,1099.2 L1171.0,1099.3 L1172.0,1099.4 L1172.5,1099.4 L1173.0,1099.5 L1174.0,1099.6 L1174.5,1099.6 L1175.0,1099.6 L1176.0,1099.7 L1176.5,1099.8 L1177.0,1099.8 L1178.0,1099.9 L1178.5,1099.9 L1179.0,1099.9 L1180.0,1100.0 L1180.5,1100.0 L1181.0,1100.1 L1182.0,1100.1 L1182.5,1100.1 L1184.5,1100.3 L1186.5,1100.3 L1188.5,1100.4 L1190.5,1100.5 L1192.5,1100.6 L1194.5,1100.6 L1196.5,1100.7 L1198.5,1100.8 L1200.5,1100.8 L1202.5,1100.9 L1204.5,1100.9 L1206.5,1100.9 L1208.5,1101.0 L1210.5,1101.0 L1212.5,1101.0 L1214.5,1101.1 L1216.5,1101.1 L1218.5,1101.1 L1220.5,1101.1 L1222.5,1101.2 L1224.5,1101.2 L1226.5,1101.2 L1228.5,1101.2 L1230.5,1101.2 L1232.5,1101.3 L1234.5,1101.3 L1236.5,1101.3 L1238.5,1101.3 L1240.5,1101.3 L1242.5,1101.3 L1244.5,1101.3 L1246.5,1101.3 L1248.5,1101.3 L1250.5,1101.3 L1252.5,1101.3 L1254.5,1101.3 L1256.5,1101.3 L1258.5,1101.3 L1260.5,1101.3 L1262.5,1101.3 L1264.5,1101.3 L1266.5,1101.3 L1268.5,1101.3 L1270.5,1101.3 L1272.5,1101.3 L1274.5,1101.3 L1276.5,1101.3 L1278.5,1101.2 L1280.5,1101.2 L1282.5,1101.2 L1284.5,1101.1 L1286.5,1101.1 L1288.5,1101.1 L1290.5,1101.0 L1292.5,1101.0 L1294.5,1100.9 L1296.5,1100.8 L1298.5,1100.7 L1300.5,1100.6 L1302.5,1100.5 L1303.1,1100.4 L1303.6,1100.4 L1304.1,1100.4 L1304.5,1100.3 L1304.6,1100.3 L1305.1,1100.3 L1305.6,1100.2 L1306.1,1100.2 L1306.5,1100.1 L1306.6,1100.1 L1307.1,1100.1 L1307.6,1100.0 L1308.1,1100.0 L1308.5,1099.9 L1308.6,1099.9 L1309.1,1099.8 L1309.6,1099.8 L1310.1,1099.7 L1310.5,1099.6 L1310.6,1099.6 L1311.1,1099.5 L1311.6,1099.4 L1312.1,1099.4 L1312.5,1099.3 L1312.6,1099.3 L1313.1,1099.2 L1313.6,1099.0 L1314.1,1098.9 L1314.5,1098.8 L1314.6,1098.8 L1315.1,1098.7 L1315.6,1098.5 L1316.1,1098.3 L1316.5,1098.2 L1316.6,1098.2 L1317.1,1098.0 L1317.6,1097.8 L1318.1,1097.5 L1318.5,1097.3 L1318.6,1097.3 L1319.1,1097.0 L1319.6,1096.7 L1320.1,1096.3 L1320.5,1096.0 L1320.6,1096.0 L1321.1,1095.5 L1321.6,1095.0 L1322.1,1094.5 L1322.5,1094.0 L1322.6,1093.9 L1323.1,1093.1 L1323.6,1092.4 L1324.1,1091.5 L1324.5,1090.7 L1324.6,1090.5 L1325.1,1089.4 L1325.6,1088.2 L1326.1,1086.8 L1326.5,1085.6 L1326.6,1085.3 L1327.1,1083.7 L1327.6,1081.9 L1328.1,1079.9 L1328.5,1078.3 L1328.6,1077.9 L1329.1,1075.6 L1329.6,1073.3 L1330.1,1070.8 L1330.5,1068.8 L1330.6,1068.3 L1331.1,1065.7 L1331.6,1063.1 L1332.1,1060.5 L1332.5,1058.5 L1332.6,1058.0 L1333.1,1055.7 L1333.6,1053.6 L1334.1,1051.9 L1334.5,1050.8 L1334.6,1050.6 L1335.1,1049.8 L1335.6,1049.5 L1336.1,1049.8 L1336.5,1050.4 L1336.6,1050.6 L1337.1,1051.9 L1337.6,1053.6 L1338.1,1055.7 L1338.5,1057.5 L1338.6,1058.0 L1339.1,1060.5 L1339.6,1063.1 L1340.1,1065.7 L1340.5,1067.8 L1340.6,1068.3 L1341.1,1070.9 L1341.6,1073.3 L1342.1,1075.7 L1342.5,1077.5 L1342.6,1077.9 L1343.1,1080.0 L1343.6,1081.9 L1344.1,1083.7 L1344.5,1085.0 L1344.6,1085.3 L1345.1,1086.8 L1345.6,1088.2 L1346.1,1089.4 L1346.5,1090.3 L1346.6,1090.5 L1347.1,1091.5 L1347.6,1092.4 L1348.1,1093.2 L1348.5,1093.8 L1348.6,1093.9 L1349.1,1094.5 L1349.6,1095.1 L1350.1,1095.6 L1350.5,1095.9 L1350.6,1096.0 L1351.1,1096.4 L1351.6,1096.8 L1352.1,1097.1 L1352.5,1097.3 L1352.6,1097.4 L1353.1,1097.6 L1353.6,1097.8 L1354.1,1098.0 L1354.5,1098.2 L1354.6,1098.2 L1355.1,1098.4 L1355.6,1098.6 L1356.1,1098.7 L1356.5,1098.8 L1356.6,1098.9 L1357.1,1099.0 L1357.6,1099.1 L1358.1,1099.2 L1358.5,1099.3 L1358.6,1099.3 L1359.1,1099.4 L1359.6,1099.5 L1360.1,1099.6 L1360.5,1099.7 L1360.6,1099.7 L1361.1,1099.8 L1361.6,1099.9 L1362.1,1099.9 L1362.5,1100.0 L1362.6,1100.0 L1363.1,1100.1 L1363.6,1100.1 L1364.1,1100.2 L1364.5,1100.2 L1364.6,1100.2 L1365.1,1100.3 L1365.6,1100.3 L1366.1,1100.4 L1366.5,1100.4 L1366.6,1100.4 L1367.1,1100.5 L1367.6,1100.5 L1368.5,1100.6 L1370.5,1100.7 L1372.5,1100.9 L1374.5,1101.0 L1376.5,1101.0 L1378.5,1101.1 L1380.5,1101.2 L1382.5,1101.2 L1384.5,1101.3 L1386.5,1101.3 L1388.5,1101.4 L1390.5,1101.4 L1392.5,1101.5 L1394.5,1101.5 L1396.5,1101.5 L1398.5,1101.5 L1400.5,1101.6 L1402.5,1101.6 L1404.5,1101.6 L1406.5,1101.6 L1408.5,1101.6 L1410.5,1101.6 L1412.5,1101.7 L1414.5,1101.7 L1416.5,1101.7 L1418.5,1101.7 L1420.5,1101.7 L1422.5,1101.7 L1424.5,1101.7 L1426.5,1101.7 L1428.5,1101.7 L1430.5,1101.7 L1432.5,1101.7 L1434.5,1101.7 L1436.5,1101.7 L1438.5,1101.7 L1440.5,1101.7 L1442.5,1101.7 L1444.5,1101.7 L1446.5,1101.7 L1448.5,1101.7 L1450.5,1101.7 L1452.5,1101.7 L1454.5,1101.7 L1456.5,1101.7 L1458.5,1101.7 L1460.5,1101.7 L1462.5,1101.7 L1464.5,1101.7 L1466.5,1101.7 L1468.5,1101.7 L1470.5,1101.7 L1472.5,1101.7 L1474.5,1101.7 L1476.5,1101.7 L1478.5,1101.6 L1480.5,1101.6 L1482.5,1101.6 L1484.5,1101.6 L1486.5,1101.6 L1488.5,1101.5 L1490.5,1101.5 L1492.5,1101.5 L1494.5,1101.5 L1496.5,1101.4 L1498.5,1101.4 L1500.5,1101.4 L1502.5,1101.3 L1504.5,1101.3 L1506.5,1101.2 L1508.5,1101.2 L1510.5,1101.1 L1512.5,1101.0 L1514.5,1101.0 L1516.5,1100.9 L1518.5,1100.8 L1520.5,1100.7 L1522.5,1100.5 L1523.0,1100.5 L1523.5,1100.5 L1524.0,1100.4 L1524.5,1100.4 L1525.0,1100.4 L1525.5,1100.3 L1526.0,1100.3 L1526.5,1100.2 L1527.0,1100.2 L1527.5,1100.2 L1528.0,1100.1 L1528.5,1100.1 L1529.0,1100.0 L1529.5,1099.9 L1530.0,1099.9 L1530.5,1099.8 L1531.0,1099.8 L1531.5,1099.7 L1532.0,1099.7 L1532.5,1099.6 L1533.0,1099.5 L1533.5,1099.4 L1534.0,1099.4 L1534.5,1099.3 L1535.0,1099.2 L1535.5,1099.1 L1536.0,1099.0 L1536.5,1098.9 L1537.0,1098.8 L1537.5,1098.7 L1538.0,1098.6 L1538.5,1098.5 L1539.0,1098.4 L1539.5,1098.3 L1540.0,1098.2 L1540.5,1098.0 L1541.0,1097.9 L1541.5,1097.7 L1542.0,1097.5 L1542.5,1097.4 L1543.0,1097.2 L1543.5,1097.0 L1544.0,1096.8 L1544.5,1096.5 L1545.0,1096.3 L1545.5,1096.0 L1546.0,1095.7 L1546.5,1095.4 L1547.0,1095.0 L1547.5,1094.7 L1548.0,1094.2 L1548.5,1093.8 L1549.0,1093.3 L1549.5,1092.8 L1550.0,1092.2 L1550.5,1091.6 L1551.0,1090.9 L1551.5,1090.2 L1552.0,1089.4 L1552.5,1088.5 L1553.0,1087.5 L1553.5,1086.5 L1554.0,1085.4 L1554.5,1084.2 L1555.0,1082.9 L1555.5,1081.6 L1556.0,1080.1 L1556.5,1078.6 L1557.0,1076.9 L1557.5,1075.2 L1558.0,1073.3 L1558.5,1071.4 L1559.0,1069.3 L1559.5,1067.2 L1560.0,1065.0 L1560.5,1062.8 L1561.0,1060.5 L1561.5,1058.1 L1562.0,1055.7 L1562.5,1053.4 L1563.0,1051.0 L1563.5,1048.7 L1564.0,1046.5 L1564.5,1044.4 L1565.0,1042.5 L1565.5,1040.8 L1566.0,1039.3 L1566.5,1038.1 L1567.0,1037.2 L1567.5,1036.7 L1568.0,1036.5 L1568.5,1036.7 L1569.0,1037.2 L1569.5,1038.1 L1570.0,1039.3 L1570.5,1040.8 L1571.0,1042.5 L1571.5,1044.4 L1572.0,1046.5 L1572.5,1048.7 L1573.0,1051.0 L1573.5,1053.4 L1574.0,1055.7 L1574.5,1058.1 L1575.0,1060.5 L1575.5,1062.8 L1576.0,1065.1 L1576.5,1067.3 L1577.0,1069.4 L1577.5,1071.4 L1578.0,1073.3 L1578.5,1075.2 L1579.0,1076.9 L1579.5,1078.6 L1580.0,1080.1 L1580.5,1081.6 L1581.0,1083.0 L1581.5,1084.2 L1582.0,1085.4 L1582.5,1086.5 L1583.0,1087.6 L1583.5,1088.5 L1584.0,1089.4 L1584.5,1090.2 L1585.0,1090.9 L1585.5,1091.6 L1586.0,1092.3 L1586.5,1092.8 L1587.0,1093.4 L1587.5,1093.8 L1588.0,1094.3 L1588.5,1094.7 L1589.0,1095.1 L1589.5,1095.4 L1590.0,1095.7 L1590.5,1096.0 L1591.0,1096.3 L1591.5,1096.6 L1592.0,1096.8 L1592.5,1097.0 L1593.0,1097.2 L1593.5,1097.4 L1594.0,1097.6 L1594.5,1097.8 L1595.0,1097.9 L1595.5,1098.1 L1596.0,1098.2 L1596.5,1098.3 L1597.0,1098.5 L1597.5,1098.6 L1598.0,1098.7 L1598.5,1098.8 L1599.0,1098.9 L1599.5,1099.0 L1600.0,1099.1 L1600.5,1099.2 L1601.0,1099.3 L1601.5,1099.4 L1602.0,1099.4 L1602.5,1099.5 L1603.0,1099.6 L1603.5,1099.7 L1604.0,1099.7 L1604.5,1099.8 L1605.0,1099.9 L1605.5,1099.9 L1606.0,1100.0 L1606.5,1100.0 L1607.0,1100.1 L1607.5,1100.1 L1608.0,1100.2 L1608.5,1100.2 L1609.0,1100.3 L1609.5,1100.3 L1610.0,1100.4 L1610.5,1100.4 L1611.0,1100.5 L1611.5,1100.5 L1612.0,1100.5 L1612.5,1100.6 L1614.5,1100.7 L1616.5,1100.8 L1618.5,1100.9 L1620.5,1101.0 L1622.5,1101.1 L1624.5,1101.2 L1626.5,1101.3 L1628.5,1101.3 L1630.5,1101.4 L1632.5,1101.4 L1634.5,1101.5 L1636.5,1101.5 L1638.5,1101.6 L1640.5,1101.6 L1642.5,1101.6 L1644.5,1101.7 L1646.5,1101.7 L1648.5,1101.7 L1650.5,1101.7 L1652.5,1101.7 L1654.5,1101.8 L1656.5,1101.8 L1658.5,1101.8 L1660.5,1101.8 L1662.5,1101.8 L1664.5,1101.8 L1666.5,1101.8 L1668.5,1101.8 L1670.5,1101.8 L1672.5,1101.8 L1674.5,1101.8 L1676.5,1101.8 L1678.5,1101.8 L1680.5,1101.8 L1682.5,1101.8 L1684.5,1101.8 L1686.5,1101.8 L1687.7,1101.8 L1688.5,1101.8 L1688.7,1101.8 L1689.7,1101.8 L1690.5,1101.8 L1690.7,1101.8 L1691.7,1101.8 L1692.5,1101.8 L1692.7,1101.8 L1693.7,1101.7 L1694.5,1101.7 L1694.7,1101.7 L1695.7,1101.7 L1696.5,1101.7 L1696.7,1101.7 L1697.7,1101.7 L1698.5,1101.7 L1698.7,1101.7 L1699.7,1101.7 L1700.5,1101.6 L1700.7,1101.6 L1701.7,1101.6 L1702.5,1101.6 L1702.7,1101.6 L1703.7,1101.6 L1704.5,1101.6 L1704.7,1101.6 L1705.7,1101.5 L1706.5,1101.5 L1706.7,1101.5 L1707.7,1101.5 L1708.5,1101.5 L1708.7,1101.5 L1709.7,1101.4 L1710.5,1101.4 L1710.7,1101.4 L1711.7,1101.3 L1712.5,1101.3 L1712.7,1101.3 L1713.7,1101.2 L1714.5,1101.2 L1714.7,1101.2 L1715.7,1101.1 L1716.5,1101.1 L1716.7,1101.0 L1717.7,1101.0 L1718.5,1100.9 L1718.7,1100.9 L1719.7,1100.8 L1720.5,1100.7 L1720.7,1100.6 L1721.7,1100.5 L1722.5,1100.4 L1722.7,1100.3 L1723.7,1100.2 L1724.5,1100.0 L1724.7,1100.0 L1725.7,1099.7 L1726.5,1099.5 L1726.7,1099.5 L1727.7,1099.1 L1728.5,1098.9 L1728.7,1098.8 L1729.7,1098.4 L1730.5,1098.1 L1730.7,1098.0 L1731.7,1097.5 L1732.5,1097.1 L1732.7,1097.0 L1733.7,1096.5 L1734.5,1096.0 L1734.7,1095.8 L1735.7,1095.2 L1736.5,1094.6 L1736.7,1094.5 L1736.9,1094.4 L1737.7,1093.8 L1737.9,1093.6 L1738.5,1093.2 L1738.7,1093.0 L1738.9,1092.8 L1739.7,1092.2 L1739.9,1092.1 L1740.5,1091.6 L1740.7,1091.4 L1740.9,1091.3 L1741.7,1090.7 L1741.9,1090.5 L1742.5,1090.1 L1742.7,1090.0 L1742.9,1089.8 L1743.7,1089.3 L1743.9,1089.2 L1744.5,1088.9 L1744.7,1088.8 L1744.9,1088.7 L1745.7,1088.4 L1745.9,1088.3 L1746.5,1088.1 L1746.7,1088.1 L1746.9,1088.1 L1747.7,1088.0 L1747.9,1088.0 L1748.5,1088.1 L1748.7,1088.1 L1748.9,1088.1 L1749.7,1088.3 L1749.9,1088.4 L1750.5,1088.7 L1750.7,1088.7 L1750.9,1088.8 L1751.7,1089.3 L1751.9,1089.4 L1752.5,1089.8 L1752.7,1089.9 L1752.9,1090.1 L1753.7,1090.6 L1753.9,1090.8 L1754.5,1091.2 L1754.7,1091.4 L1754.9,1091.5 L1755.7,1092.1 L1755.9,1092.3 L1756.5,1092.7 L1756.7,1092.9 L1756.9,1093.0 L1757.7,1093.6 L1757.9,1093.8 L1758.5,1094.2 L1758.7,1094.4 L1758.9,1094.5 L1759.7,1095.0 L1759.9,1095.2 L1760.5,1095.5 L1760.7,1095.7 L1760.9,1095.8 L1761.7,1096.2 L1761.9,1096.3 L1762.5,1096.7 L1762.7,1096.8 L1762.9,1096.9 L1763.7,1097.2 L1763.9,1097.3 L1764.5,1097.6 L1764.7,1097.7 L1764.9,1097.7 L1765.7,1098.0 L1765.9,1098.1 L1766.5,1098.3 L1766.7,1098.3 L1766.9,1098.4 L1767.7,1098.6 L1767.9,1098.6 L1768.5,1098.7 L1768.7,1098.8 L1768.9,1098.8 L1769.7,1098.9 L1769.9,1098.9 L1770.5,1099.0 L1770.7,1099.0 L1770.9,1099.0 L1771.7,1099.1 L1771.9,1099.1 L1772.5,1099.1 L1772.7,1099.1 L1772.9,1099.1 L1773.7,1099.0 L1773.9,1099.0 L1774.5,1098.9 L1774.7,1098.9 L1774.9,1098.9 L1775.7,1098.8 L1775.9,1098.7 L1776.5,1098.6 L1776.7,1098.6 L1776.9,1098.6 L1777.7,1098.4 L1777.9,1098.3 L1778.5,1098.2 L1778.7,1098.1 L1778.9,1098.1 L1779.7,1097.9 L1779.9,1097.8 L1780.5,1097.7 L1780.7,1097.6 L1780.9,1097.5 L1781.7,1097.3 L1781.9,1097.3 L1782.5,1097.1 L1782.7,1097.0 L1782.9,1097.0 L1783.7,1096.8 L1783.9,1096.8 L1784.5,1096.7 L1784.7,1096.6 L1784.9,1096.6 L1785.7,1096.5 L1785.9,1096.5 L1786.5,1096.5 L1786.7,1096.5 L1786.9,1096.5 L1787.7,1096.6 L1787.9,1096.6 L1788.5,1096.7 L1788.7,1096.7 L1788.9,1096.8 L1789.7,1097.0 L1789.9,1097.0 L1790.5,1097.2 L1790.7,1097.3 L1790.9,1097.3 L1791.7,1097.6 L1791.9,1097.7 L1792.5,1097.9 L1792.7,1098.0 L1792.9,1098.1 L1793.7,1098.4 L1793.9,1098.5 L1794.5,1098.7 L1794.7,1098.8 L1794.9,1098.9 L1795.7,1099.2 L1795.9,1099.2 L1796.5,1099.4 L1796.7,1099.5 L1796.9,1099.6 L1797.7,1099.8 L1797.9,1099.9 L1798.5,1100.1 L1798.7,1100.1 L1798.9,1100.2 L1799.7,1100.4 L1799.9,1100.5 L1800.5,1100.6 L1800.7,1100.7 L1800.9,1100.7 L1801.7,1100.9 L1801.9,1100.9 L1802.5,1101.1 L1802.7,1101.1 L1802.9,1101.1 L1803.7,1101.3 L1803.9,1101.3 L1804.5,1101.4 L1804.7,1101.4 L1804.9,1101.4 L1805.7,1101.6 L1805.9,1101.6 L1806.5,1101.6 L1806.7,1101.7 L1806.9,1101.7 L1807.9,1101.8 L1808.5,1101.8 L1808.9,1101.9 L1809.9,1102.0 L1810.5,1102.0 L1810.9,1102.0 L1811.5,1102.1 L1811.9,1102.1 L1812.5,1102.1 L1812.9,1102.1 L1813.5,1102.2 L1813.9,1102.2 L1814.5,1102.2 L1814.9,1102.2 L1815.5,1102.3 L1815.9,1102.3 L1816.5,1102.3 L1816.9,1102.3 L1817.5,1102.3 L1817.9,1102.3 L1818.5,1102.4 L1818.9,1102.4 L1819.5,1102.4 L1819.9,1102.4 L1820.5,1102.4 L1820.9,1102.4 L1821.5,1102.4 L1821.9,1102.5 L1822.5,1102.5 L1822.9,1102.5 L1823.5,1102.5 L1823.9,1102.5 L1824.5,1102.5 L1824.9,1102.5 L1825.5,1102.5 L1825.9,1102.5 L1826.5,1102.6 L1826.9,1102.6 L1827.5,1102.6 L1827.9,1102.6 L1828.5,1102.6 L1828.9,1102.6 L1829.5,1102.6 L1829.9,1102.6 L1830.5,1102.6 L1830.9,1102.6 L1831.5,1102.6 L1831.9,1102.7 L1832.5,1102.7 L1832.9,1102.7 L1833.5,1102.7 L1833.9,1102.7 L1834.5,1102.7 L1834.9,1102.7 L1835.5,1102.7 L1835.9,1102.7 L1836.5,1102.7 L1837.5,1102.7 L1838.5,1102.7 L1839.5,1102.8 L1840.5,1102.8 L1841.5,1102.8 L1842.5,1102.8 L1843.5,1102.8 L1844.5,1102.8 L1845.5,1102.8 L1846.5,1102.8 L1847.5,1102.8 L1848.5,1102.8 L1849.5,1102.9 L1850.5,1102.9 L1851.5,1102.9 L1852.5,1102.9 L1853.5,1102.9 L1854.5,1102.9 L1855.5,1102.9 L1856.5,1102.9 L1857.5,1102.9 L1858.5,1102.9 L1859.5,1102.9 L1860.5,1102.9 L1861.5,1102.9 L1862.5,1102.9 L1863.5,1102.9 L1864.5,1103.0 L1865.5,1103.0 L1866.5,1103.0 L1867.5,1103.0 L1868.5,1103.0 L1869.5,1103.0 L1870.5,1103.0 L1871.5,1103.0 L1872.5,1103.0 L1873.5,1103.0 L1874.5,1103.0 L1875.5,1103.0 L1876.5,1103.0 L1877.5,1103.0 L1878.5,1103.0 L1879.5,1103.0 L1880.5,1103.0 L1881.5,1103.0 L1882.5,1102.9 L1883.5,1102.9 L1884.5,1102.9 L1885.5,1102.9 L1886.5,1102.9 L1887.5,1102.9 L1888.5,1102.9 L1889.5,1102.9 L1890.5,1102.9 L1891.5,1102.8 L1892.5,1102.8 L1893.5,1102.8 L1894.5,1102.8 L1895.5,1102.8 L1896.5,1102.7 L1897.5,1102.7 L1898.5,1102.7 L1899.5,1102.7 L1900.5,1102.6 L1901.5,1102.6 L1902.5,1102.6 L1903.5,1102.5 L1904.5,1102.5 L1905.5,1102.5 L1906.5,1102.4 L1907.5,1102.4 L1908.5,1102.4 L1909.5,1102.3 L1910.5,1102.3 L1911.5,1102.3 L1912.5,1102.2 L1913.5,1102.2 L1914.5,1102.1 L1915.5,1102.1 L1916.5,1102.1 L1917.5,1102.1 L1918.5,1102.0 L1919.5,1102.0 L1920.5,1102.0 L1921.5,1102.0 L1922.5,1102.0 L1923.5,1102.0 L1924.5,1102.0 L1925.5,1102.0 L1926.5,1102.0 L1927.5,1102.1 L1928.5,1102.1 L1929.5,1102.1 L1930.5,1102.1 L1931.5,1102.2 L1932.5,1102.2 L1933.5,1102.3 L1934.5,1102.3 L1935.5,1102.3 L1936.5,1102.4 L1937.5,1102.4 L1938.5,1102.5 L1939.5,1102.5 L1940.5,1102.6 L1941.5,1102.6 L1942.5,1102.7 L1943.5,1102.7 L1944.5,1102.8 L1945.5,1102.8 L1946.5,1102.9 L1947.5,1102.9 L1948.5,1102.9 L1949.5,1103.0 L1950.5,1103.0 L1951.5,1103.1 L1952.5,1103.1 L1953.5,1103.1 L1954.5,1103.2 L1955.5,1103.2 L1956.5,1103.2 L1957.5,1103.3 L1958.5,1103.3 L1959.5,1103.3 L1960.5,1103.3 L1961.5,1103.4 L1962.5,1103.4 L1963.5,1103.4 L1964.5,1103.4 L1965.5,1103.4 L1966.5,1103.5 L1967.5,1103.5 L1968.5,1103.5 L1969.5,1103.5 L1970.5,1103.5 L1971.5,1103.5 L1972.5,1103.6 L1973.5,1103.6 L1974.5,1103.6 L1975.5,1103.6 L1976.5,1103.6 L1977.5,1103.6 L1978.5,1103.6 L1979.5,1103.6 L1980.5,1103.6 L1981.5,1103.7 L1982.5,1103.7 L1983.5,1103.7 L1984.5,1103.7 L1985.5,1103.7 L1986.5,1103.7 L1987.5,1103.7 L1988.5,1103.7 L1989.5,1103.7 L1990.5,1103.7 L1991.5,1103.7 L1992.5,1103.8 L1993.5,1103.8 L1994.5,1103.8 L1995.5,1103.8 L1996.5,1103.8 L1997.5,1103.8 L1998.5,1103.8 L1999.5,1103.8 L2000.5,1103.8 L2001.5,1103.8 L2002.5,1103.8 L2003.5,1103.8 L2004.5,1103.8 L2005.5,1103.8 L2006.5,1103.9 L2007.5,1103.9 L2008.5,1103.9 L2009.5,1103.9 L2010.5,1103.9 L2011.5,1103.9" stroke="#FA7F6F"/>
<path d="M150.5,1380.4 L152.5,1380.4 L154.5,1380.4 L156.5,1380.5 L158.5,1380.6 L160.5,1380.6 L162.5,1380.7 L164.5,1380.8 L166.5,1380.8 L168.5,1380.9 L170.5,1381.0 L172.5,1381.0 L174.5,1381.1 L176.5,1381.2 L178.5,1381.2 L180.5,1381.3 L182.5,1381.4 L184.5,1381.4 L186.5,1381.5 L188.5,1381.6 L190.5,1381.6 L192.5,1381.7 L194.5,1381.7 L196.5,1381.8 L198.5,1381.9 L200.5,1381.9 L202.5,1382.0 L204.5,1382.1 L206.5,1382.1 L208.5,1382.2 L210.5,1382.3 L212.5,1382.3 L214.5,1382.4 L216.5,1382.5 L218.5,1382.5 L220.5,1382.6 L222.5,1382.7 L224.5,1382.7 L226.5,1382.8 L228.5,1382.9 L230.5,1382.9 L232.5,1383.0 L234.5,1383.1 L236.5,1383.1 L238.5,1383.2 L240.5,1383.3 L242.5,1383.3 L244.5,1383.4 L246.5,1383.4 L248.5,1383.5 L250.5,1383.6 L252.5,1383.6 L254.5,1383.7 L256.5,1383.8 L258.5,1383.8 L260.5,1383.9 L262.5,1384.0 L264.5,1384.0 L266.5,1384.1 L268.5,1384.2 L270.5,1384.2 L272.5,1384.3 L274.5,1384.4 L276.5,1384.4 L278.5,1384.5 L280.5,1384.6 L282.5,1384.6 L284.5,1384.7 L286.5,1384.8 L288.5,1384.8 L290.5,1384.9 L292.5,1384.9 L294.5,1385.0 L296.5,1385.1 L298.5,1385.1 L300.5,1385.2 L302.5,1385.3 L304.5,1385.3 L306.5,1385.4 L308.5,1385.5 L310.5,1385.5 L312.5,1385.6 L314.5,1385.7 L316.5,1385.7 L318.5,1385.8 L320.5,1385.8 L322.5,1385.9 L324.5,1386.0 L326.5,1386.0 L328.5,1386.1 L330.5,1386.2 L332.5,1386.2 L334.5,1386.3 L336.5,1386.4 L338.5,1386.4 L340.5,1386.5 L342.5,1386.5 L344.5,1386.6 L346.5,1386.7 L348.5,1386.7 L350.5,1386.8 L352.5,1386.9 L354.5,1386.9 L356.5,1387.0 L358.5,1387.1 L360.5,1387.1 L362.5,1387.2 L364.5,1387.2 L366.5,1387.3 L368.5,1387.4 L370.5,1387.4 L372.5,1387.5 L374.5,1387.5 L376.5,1387.6 L378.5,1387.7 L380.5,1387.7 L382.5,1387.8 L384.5,1387.9 L386.5,1387.9 L388.5,1388.0 L390.5,1388.0 L392.5,1388.1 L394.5,1388.1 L396.5,1388.2 L398.5,1388.3 L400.5,1388.3 L402.5,1388.3 L404.5,1388.4 L406.5,1388.4 L408.5,1388.4 L410.5,1388.5 L412.5,1388.5 L414.5,1388.5 L416.5,1388.5 L418.5,1388.6 L420.5,1388.6 L422.5,1388.6 L424.5,1388.6 L426.5,1388.6 L428.5,1388.6 L430.5,1388.6 L432.5,1388.6 L434.5,1388.6 L436.5,1388.6 L438.5,1388.6 L440.0,1388.6 L440.5,1388.6 L441.0,1388.6 L441.5,1388.6 L442.0,1388.5 L442.5,1388.5 L443.0,1388.5 L443.5,1388.5 L444.0,1388.5 L444.5,1388.5 L445.0,1388.5 L445.5,1388.4 L446.0,1388.4 L446.5,1388.4 L447.0,1388.4 L447.5,1388.3 L448.0,1388.3 L448.5,1388.2 L449.0,1388.2 L449.5,1388.2 L450.0,1388.1 L450.5,1388.1 L451.0,1388.0 L451.5,1387.9 L452.0,1387.9 L452.5,1387.8 L453.0,1387.7 L453.5,1387.6 L454.0,1387.4 L454.5,1387.3 L455.0,1387.1 L455.5,1387.0 L456.0,1386.7 L456.5,1386.5 L457.0,1386.2 L457.5,1385.9 L458.0,1385.5 L458.5,1385.0 L459.0,1384.6 L459.5,1384.0 L460.0,1383.4 L460.5,1382.7 L461.0,1381.9 L461.5,1381.1 L462.0,1380.1 L462.5,1379.2 L463.0,1378.1 L463.5,1377.1 L464.0,1376.0 L464.5,1374.9 L465.0,1373.9 L465.5,1372.9 L466.0,1372.1 L466.5,1371.5 L467.0,1371.1 L467.5,1371.0 L468.0,1371.1 L468.5,1371.5 L469.0,1372.2 L469.5,1373.0 L470.0,1373.9 L470.5,1375.0 L471.0,1376.1 L471.5,1377.2 L472.0,1378.2 L472.5,1379.3 L473.0,1380.3 L473.5,1381.2 L474.0,1382.0 L474.5,1382.8 L475.0,1383.5 L475.5,1384.2 L476.0,1384.7 L476.5,1385.2 L477.0,1385.7 L477.5,1386.1 L478.0,1386.4 L478.5,1386.7 L479.0,1387.0 L479.5,1387.2 L480.0,1387.4 L480.5,1387.6 L481.0,1387.7 L481.5,1387.8 L482.0,1388.0 L482.1,1388.0 L482.5,1388.1 L482.6,1388.1 L483.0,1388.2 L483.1,1388.2 L483.5,1388.2 L483.6,1388.3 L484.0,1388.3 L484.1,1388.3 L484.5,1388.4 L484.6,1388.4 L485.0,1388.4 L485.1,1388.4 L485.5,1388.5 L485.6,1388.5 L486.0,1388.5 L486.1,1388.6 L486.5,1388.6 L486.6,1388.6 L487.0,1388.6 L487.1,1388.6 L487.5,1388.7 L487.6,1388.7 L488.0,1388.7 L488.1,1388.7 L488.5,1388.7 L488.6,1388.7 L489.0,1388.8 L489.1,1388.8 L489.5,1388.8 L489.6,1388.8 L490.0,1388.8 L490.1,1388.8 L490.5,1388.8 L490.6,1388.8 L491.0,1388.8 L491.1,1388.8 L491.5,1388.8 L491.6,1388.8 L492.0,1388.8 L492.1,1388.8 L492.5,1388.8 L492.6,1388.8 L493.0,1388.8 L493.1,1388.8 L493.5,1388.8 L493.6,1388.8 L494.0,1388.8 L494.1,1388.8 L494.5,1388.7 L494.6,1388.7 L495.1,1388.7 L495.6,1388.6 L496.1,1388.5 L496.5,1388.5 L496.6,1388.4 L497.1,1388.3 L497.6,1388.2 L498.0,1388.2 L498.1,1388.1 L498.5,1388.1 L498.6,1388.1 L499.0,1388.0 L499.1,1388.0 L499.6,1388.0 L500.0,1388.0 L500.1,1388.0 L500.5,1388.1 L500.6,1388.1 L501.0,1388.2 L501.1,1388.2 L501.6,1388.3 L502.0,1388.4 L502.1,1388.4 L502.5,1388.5 L502.6,1388.5 L503.0,1388.6 L503.1,1388.6 L503.6,1388.7 L504.0,1388.8 L504.1,1388.8 L504.5,1388.9 L504.6,1388.9 L505.0,1388.9 L505.1,1388.9 L505.6,1389.0 L506.0,1389.0 L506.1,1389.0 L506.5,1389.1 L506.6,1389.1 L507.0,1389.1 L507.1,1389.1 L507.6,1389.1 L508.0,1389.1 L508.1,1389.1 L508.5,1389.1 L508.6,1389.1 L509.0,1389.1 L509.1,1389.1 L509.6,1389.1 L510.0,1389.1 L510.1,1389.1 L510.5,1389.1 L510.6,1389.1 L511.0,1389.1 L511.1,1389.1 L511.6,1389.1 L512.0,1389.1 L512.1,1389.1 L512.5,1389.1 L512.6,1389.1 L513.0,1389.1 L513.1,1389.1 L513.6,1389.1 L514.0,1389.1 L514.1,1389.1 L514.5,1389.1 L514.6,1389.1 L515.0,1389.1 L515.1,1389.1 L515.6,1389.1 L516.0,1389.1 L516.1,1389.1 L516.5,1389.1 L516.6,1389.0 L517.0,1389.0 L518.0,1389.0 L518.5,1389.0 L519.0,1389.0 L520.0,1388.9 L520.5,1388.9 L521.0,1388.9 L522.0,1388.8 L522.5,1388.8 L523.0,1388.8 L524.0,1388.7 L524.5,1388.7 L524.6,1388.7 L525.0,1388.6 L525.2,1388.6 L525.6,1388.6 L526.0,1388.5 L526.2,1388.5 L526.5,1388.5 L526.6,1388.5 L527.0,1388.5 L527.2,1388.4 L527.6,1388.4 L528.0,1388.4 L528.2,1388.3 L528.5,1388.3 L528.6,1388.3 L529.0,1388.3 L529.2,1388.2 L529.6,1388.2 L530.0,1388.2 L530.2,1388.1 L530.5,1388.1 L530.6,1388.1 L531.0,1388.0 L531.2,1388.0 L531.6,1388.0 L532.0,1387.9 L532.2,1387.9 L532.5,1387.8 L532.6,1387.8 L533.0,1387.8 L533.2,1387.7 L533.6,1387.7 L534.0,1387.6 L534.2,1387.6 L534.5,1387.5 L534.6,1387.5 L535.0,1387.4 L535.2,1387.4 L535.6,1387.3 L536.0,1387.2 L536.2,1387.2 L536.5,1387.1 L536.6,1387.1 L537.0,1387.0 L537.2,1387.0 L537.6,1386.9 L538.0,1386.8 L538.2,1386.8 L538.5,1386.7 L538.6,1386.7 L539.0,1386.5 L539.2,1386.5 L539.6,1386.4 L540.0,1386.3 L540.2,1386.2 L540.5,1386.1 L540.6,1386.1 L541.0,1385.9 L541.2,1385.8 L541.6,1385.7 L542.0,1385.5 L542.2,1385.4 L542.5,1385.3 L542.6,1385.2 L543.0,1385.0 L543.2,1384.9 L543.6,1384.7 L544.0,1384.4 L544.2,1384.3 L544.5,1384.1 L544.6,1384.0 L545.0,1383.7 L545.2,1383.5 L545.6,1383.2 L546.0,1382.8 L546.2,1382.6 L546.5,1382.2 L546.6,1382.1 L547.0,1381.6 L547.2,1381.4 L547.6,1380.8 L548.0,1380.2 L548.2,1379.8 L548.5,1379.3 L548.6,1379.1 L549.0,1378.3 L549.2,1377.9 L549.6,1377.0 L550.0,1376.0 L550.2,1375.4 L550.5,1374.6 L550.6,1374.3 L551.0,1373.0 L551.2,1372.3 L551.6,1370.9 L552.0,1369.3 L552.2,1368.5 L552.5,1367.2 L552.6,1366.7 L553.0,1364.8 L553.2,1363.8 L553.6,1361.6 L554.0,1359.3 L554.2,1358.1 L554.5,1356.2 L554.6,1355.5 L555.0,1352.7 L555.2,1351.3 L555.6,1348.3 L556.0,1345.0 L556.2,1343.4 L556.5,1340.7 L556.6,1339.9 L557.0,1336.2 L557.2,1334.2 L557.6,1330.3 L558.0,1326.1 L558.2,1324.0 L558.5,1320.7 L558.6,1319.6 L559.0,1315.1 L559.2,1312.7 L559.6,1308.0 L560.0,1303.1 L560.2,1300.6 L560.5,1296.9 L560.6,1295.6 L561.0,1290.5 L561.2,1288.0 L561.6,1282.8 L562.0,1277.7 L562.2,1275.1 L562.5,1271.2 L562.6,1270.0 L563.0,1264.9 L563.2,1262.4 L563.6,1257.6 L564.0,1252.9 L564.2,1250.6 L564.5,1247.3 L564.6,1246.2 L565.0,1242.1 L565.2,1240.2 L565.6,1236.6 L566.0,1233.3 L566.2,1231.8 L566.5,1229.8 L566.6,1229.2 L567.0,1227.1 L567.2,1226.2 L567.6,1224.8 L568.0,1223.9 L568.2,1223.6 L568.5,1223.5 L568.6,1223.5 L569.0,1224.0 L569.2,1224.4 L569.6,1225.6 L570.0,1227.4 L570.2,1228.4 L570.5,1230.2 L570.6,1230.9 L571.0,1233.7 L571.2,1235.3 L571.6,1238.8 L572.0,1242.6 L572.2,1244.6 L572.5,1247.7 L572.6,1248.8 L573.0,1253.2 L573.2,1255.5 L573.6,1260.1 L574.0,1265.0 L574.2,1267.4 L574.5,1271.1 L574.6,1272.3 L575.0,1277.3 L575.2,1279.8 L575.6,1284.8 L576.0,1289.7 L576.2,1292.1 L576.5,1295.8 L576.6,1297.0 L577.0,1301.7 L577.2,1304.1 L577.6,1308.6 L578.0,1313.1 L578.2,1315.2 L578.5,1318.4 L578.6,1319.5 L579.0,1323.5 L579.2,1325.5 L579.6,1329.2 L580.0,1332.8 L580.2,1334.6 L580.5,1337.1 L580.6,1337.9 L581.0,1341.0 L581.2,1342.5 L581.6,1345.4 L582.0,1348.1 L582.2,1349.3 L582.5,1351.1 L582.6,1351.7 L583.0,1354.0 L583.2,1355.0 L583.6,1357.0 L584.0,1358.8 L584.2,1359.7 L584.5,1360.9 L584.6,1361.3 L585.0,1362.7 L585.2,1363.4 L585.6,1364.7 L586.0,1365.8 L586.2,1366.4 L586.5,1367.1 L586.6,1367.4 L587.0,1368.2 L587.2,1368.7 L587.6,1369.4 L588.0,1370.1 L588.2,1370.4 L588.5,1370.8 L588.6,1370.9 L589.0,1371.4 L589.2,1371.7 L589.6,1372.1 L590.0,1372.4 L590.2,1372.6 L590.5,1372.8 L590.6,1372.9 L591.0,1373.2 L591.2,1373.3 L591.6,1373.5 L592.0,1373.7 L592.2,1373.7 L592.5,1373.8 L592.6,1373.9 L593.0,1374.0 L593.2,1374.0 L593.6,1374.1 L594.0,1374.2 L594.2,1374.2 L594.5,1374.3 L594.6,1374.3 L595.0,1374.3 L595.2,1374.3 L595.6,1374.4 L596.0,1374.4 L596.2,1374.4 L596.5,1374.4 L596.6,1374.4 L597.0,1374.4 L597.2,1374.4 L597.6,1374.3 L598.0,1374.3 L598.2,1374.3 L598.5,1374.3 L598.6,1374.3 L599.0,1374.2 L599.2,1374.2 L599.6,1374.1 L600.0,1374.1 L600.2,1374.0 L600.5,1374.0 L600.6,1374.0 L601.0,1373.9 L601.2,1373.9 L601.5,1373.8 L601.6,1373.8 L602.0,1373.7 L602.2,1373.6 L602.5,1373.5 L602.6,1373.5 L603.0,1373.4 L603.2,1373.3 L603.5,1373.2 L603.6,1373.2 L604.0,1373.0 L604.2,1372.9 L604.5,1372.8 L604.6,1372.8 L605.0,1372.6 L605.2,1372.5 L605.5,1372.3 L605.6,1372.3 L606.0,1372.0 L606.2,1371.9 L606.5,1371.7 L606.6,1371.6 L607.0,1371.3 L607.2,1371.2 L607.5,1370.9 L607.6,1370.8 L608.0,1370.5 L608.2,1370.3 L608.5,1370.0 L608.6,1369.9 L609.0,1369.4 L609.2,1369.2 L609.5,1368.8 L609.6,1368.6 L610.0,1368.0 L610.2,1367.7 L610.5,1367.2 L610.6,1367.0 L611.0,1366.2 L611.2,1365.8 L611.5,1365.1 L611.6,1364.8 L612.0,1363.8 L612.5,1362.2 L613.0,1360.4 L613.5,1358.3 L614.0,1355.7 L614.5,1352.7 L615.0,1349.1 L615.5,1344.8 L616.0,1339.7 L616.5,1333.8 L617.0,1326.8 L617.5,1318.7 L618.0,1309.5 L618.5,1298.9 L619.0,1287.1 L619.5,1274.0 L620.0,1259.6 L620.5,1244.0 L621.0,1227.6 L621.5,1210.5 L622.0,1193.2 L622.5,1176.4 L623.0,1160.7 L623.5,1147.1 L624.0,1136.4 L624.5,1129.7 L625.0,1127.5 L625.5,1130.0 L626.0,1137.0 L626.5,1147.9 L627.0,1161.8 L627.5,1177.8 L628.0,1194.9 L628.5,1212.5 L629.0,1229.8 L629.5,1246.6 L630.0,1262.4 L630.5,1277.0 L631.0,1290.4 L631.5,1302.6 L632.0,1313.4 L632.5,1322.9 L633.0,1331.2 L633.5,1338.5 L634.0,1344.7 L634.5,1350.0 L635.0,1354.6 L635.5,1358.5 L636.0,1361.8 L636.5,1364.6 L637.0,1367.0 L637.5,1369.1 L638.0,1370.9 L638.5,1372.4 L639.0,1373.8 L639.5,1375.0 L640.0,1376.1 L640.5,1377.0 L641.0,1377.9 L641.5,1378.7 L642.0,1379.5 L642.5,1380.1 L643.0,1380.8 L643.5,1381.3 L644.0,1381.9 L644.5,1382.4 L645.0,1382.8 L645.5,1383.3 L646.0,1383.7 L646.5,1384.1 L647.0,1384.4 L647.5,1384.8 L648.0,1385.1 L648.5,1385.4 L649.0,1385.6 L650.0,1386.2 L650.5,1386.4 L651.0,1386.6 L652.0,1387.0 L652.5,1387.2 L653.0,1387.4 L654.0,1387.8 L654.5,1387.9 L655.0,1388.1 L656.0,1388.3 L656.5,1388.5 L657.0,1388.6 L658.0,1388.8 L658.5,1388.9 L659.0,1389.1 L660.0,1389.3 L660.5,1389.3 L661.0,1389.4 L662.0,1389.6 L662.5,1389.7 L663.0,1389.8 L664.0,1389.9 L664.5,1390.0 L665.0,1390.1 L666.0,1390.2 L666.5,1390.3 L667.0,1390.3 L668.0,1390.4 L668.5,1390.5 L669.0,1390.5 L670.0,1390.6 L670.5,1390.7 L671.0,1390.7 L672.0,1390.8 L672.5,1390.9 L673.0,1390.9 L674.0,1391.0 L674.5,1391.1 L675.0,1391.1 L676.0,1391.2 L676.5,1391.2 L677.0,1391.2 L678.0,1391.3 L678.5,1391.3 L679.0,1391.4 L680.0,1391.4 L680.5,1391.5 L681.0,1391.5 L682.0,1391.6 L682.5,1391.6 L683.0,1391.6 L684.0,1391.7 L684.5,1391.7 L685.0,1391.7 L686.0,1391.8 L686.5,1391.8 L687.0,1391.8 L688.0,1391.9 L688.5,1391.9 L689.0,1391.9 L690.0,1392.0 L690.5,1392.0 L691.0,1392.0 L692.0,1392.0 L692.5,1392.1 L693.0,1392.1 L694.0,1392.1 L694.5,1392.1 L695.0,1392.2 L696.0,1392.2 L696.5,1392.2 L697.0,1392.2 L698.5,1392.3 L700.5,1392.4 L702.5,1392.4 L704.5,1392.5 L706.5,1392.5 L708.5,1392.6 L710.5,1392.7 L712.5,1392.7 L714.5,1392.8 L716.5,1392.8 L718.5,1392.9 L720.5,1392.9 L722.5,1393.0 L724.5,1393.0 L726.5,1393.0 L728.5,1393.1 L730.5,1393.1 L732.5,1393.2 L734.5,1393.2 L736.5,1393.2 L738.5,1393.3 L740.5,1393.3 L742.5,1393.4 L744.5,1393.4 L746.5,1393.4 L748.5,1393.5 L750.5,1393.5 L752.5,1393.5 L754.5,1393.6 L756.5,1393.6 L758.5,1393.6 L760.5,1393.7 L762.5,1393.7 L764.5,1393.7 L766.5,1393.8 L768.5,1393.8 L770.5,1393.8 L772.5,1393.9 L774.5,1393.9 L776.5,1393.9 L778.5,1394.0 L780.5,1394.0 L782.5,1394.0 L784.5,1394.0 L786.5,1394.1 L788.5,1394.1 L790.5,1394.1 L792.5,1394.2 L794.5,1394.2 L796.5,1394.2 L798.5,1394.3 L800.5,1394.3 L802.5,1394.3 L804.5,1394.4 L806.5,1394.4 L808.5,1394.5 L810.5,1394.6 L812.5,1394.6 L814.5,1394.7 L816.5,1394.7 L818.5,1394.8 L820.5,1394.8 L822.5,1394.9 L824.5,1394.9 L826.5,1395.0 L828.5,1395.0 L830.5,1395.1 L832.5,1395.1 L834.5,1395.2 L836.5,1395.2 L838.5,1395.3 L840.5,1395.3 L842.5,1395.4 L844.5,1395.4 L846.5,1395.5 L848.5,1395.5 L850.5,1395.6 L852.5,1395.6 L854.5,1395.7 L856.5,1395.7 L858.5,1395.8 L860.5,1395.8 L862.5,1395.9 L864.5,1395.9 L866.5,1396.0 L868.5,1396.0 L870.5,1396.1 L872.5,1396.2 L874.5,1396.2 L876.5,1396.3 L878.5,1396.3 L880.5,1396.4 L882.5,1396.4 L884.5,1396.5 L886.5,1396.5 L888.5,1396.5 L890.5,1396.6 L892.5,1396.6 L894.5,1396.7 L896.5,1396.7 L898.5,1396.8 L900.5,1396.8 L902.5,1396.8 L904.5,1396.8 L906.5,1396.9 L908.5,1396.9 L910.5,1396.9 L912.5,1396.9 L914.5,1396.9 L916.5,1396.9 L918.5,1396.9 L920.5,1396.9 L922.5,1396.9 L924.5,1396.9 L926.5,1396.9 L928.5,1396.9 L930.5,1396.9 L932.5,1396.9 L934.5,1396.9 L936.5,1396.9 L938.5,1396.9 L940.5,1396.9 L942.5,1396.9 L944.5,1396.9 L946.5,1396.9 L948.5,1396.9 L950.5,1396.9 L952.5,1396.9 L954.5,1396.9 L956.5,1396.9 L958.5,1396.9 L960.5,1396.9 L962.5,1396.9 L964.5,1396.9 L966.5,1396.9 L968.5,1396.9 L970.5,1396.8 L972.5,1396.8 L974.5,1396.8 L976.5,1396.8 L978.5,1396.7 L980.5,1396.7 L982.5,1396.7 L984.5,1396.6 L986.5,1396.5 L988.5,1396.5 L990.5,1396.4 L991.4,1396.3 L992.0,1396.3 L992.4,1396.3 L992.5,1396.3 L993.0,1396.2 L993.4,1396.2 L994.0,1396.2 L994.4,1396.1 L994.5,1396.1 L995.0,1396.1 L995.4,1396.1 L996.0,1396.0 L996.4,1396.0 L996.5,1396.0 L997.0,1395.9 L997.4,1395.9 L998.0,1395.8 L998.4,1395.8 L998.5,1395.8 L999.0,1395.7 L999.4,1395.6 L1000.0,1395.6 L1000.4,1395.5 L1000.5,1395.5 L1001.0,1395.4 L1001.4,1395.4 L1002.0,1395.2 L1002.4,1395.2 L1002.5,1395.2 L1003.0,1395.1 L1003.4,1395.0 L1004.0,1394.8 L1004.4,1394.7 L1004.5,1394.7 L1005.0,1394.6 L1005.4,1394.4 L1006.0,1394.2 L1006.4,1394.1 L1006.5,1394.0 L1007.0,1393.8 L1007.4,1393.7 L1008.0,1393.3 L1008.4,1393.1 L1008.5,1393.1 L1009.0,1392.7 L1009.4,1392.4 L1010.0,1391.9 L1010.4,1391.6 L1010.5,1391.5 L1011.0,1390.9 L1011.4,1390.4 L1012.0,1389.6 L1012.4,1389.0 L1012.5,1388.9 L1013.0,1388.0 L1013.4,1387.3 L1014.0,1386.0 L1014.4,1385.1 L1014.5,1384.9 L1015.0,1383.6 L1015.4,1382.5 L1016.0,1380.7 L1016.4,1379.5 L1016.5,1379.1 L1017.0,1377.4 L1017.4,1376.0 L1018.0,1373.7 L1018.4,1372.1 L1018.5,1371.7 L1019.0,1369.7 L1019.4,1368.2 L1020.0,1365.8 L1020.4,1364.3 L1020.5,1364.0 L1021.0,1362.3 L1021.4,1361.1 L1022.0,1359.7 L1022.4,1359.0 L1022.5,1358.9 L1023.0,1358.5 L1023.4,1358.5 L1024.0,1359.0 L1024.4,1359.7 L1024.5,1359.9 L1025.0,1361.1 L1025.4,1362.3 L1026.0,1364.3 L1026.4,1365.8 L1026.5,1366.2 L1027.0,1368.2 L1027.4,1369.8 L1028.0,1372.2 L1028.4,1373.7 L1028.5,1374.1 L1029.0,1376.0 L1029.4,1377.5 L1030.0,1379.5 L1030.4,1380.8 L1030.5,1381.1 L1031.0,1382.6 L1031.4,1383.7 L1032.0,1385.2 L1032.4,1386.1 L1032.5,1386.3 L1033.0,1387.4 L1033.4,1388.1 L1034.0,1389.1 L1034.4,1389.7 L1034.5,1389.9 L1035.0,1390.5 L1035.4,1391.0 L1036.0,1391.7 L1036.4,1392.0 L1036.5,1392.1 L1037.0,1392.5 L1037.4,1392.8 L1038.0,1393.2 L1038.4,1393.5 L1038.5,1393.5 L1039.0,1393.8 L1039.4,1394.0 L1040.0,1394.2 L1040.4,1394.4 L1040.5,1394.4 L1041.0,1394.6 L1041.4,1394.7 L1042.0,1394.9 L1042.4,1395.0 L1042.5,1395.0 L1043.0,1395.1 L1043.4,1395.2 L1044.0,1395.3 L1044.4,1395.4 L1044.5,1395.4 L1045.0,1395.5 L1045.4,1395.6 L1046.0,1395.7 L1046.4,1395.7 L1046.5,1395.8 L1047.0,1395.8 L1047.4,1395.9 L1048.0,1396.0 L1048.4,1396.0 L1048.5,1396.0 L1049.0,1396.1 L1049.4,1396.1 L1050.0,1396.2 L1050.4,1396.2 L1050.5,1396.2 L1051.0,1396.3 L1051.4,1396.3 L1052.0,1396.4 L1052.4,1396.4 L1052.5,1396.4 L1053.0,1396.4 L1053.4,1396.5 L1054.0,1396.5 L1054.4,1396.5 L1054.5,1396.5 L1056.5,1396.7 L1058.5,1396.8 L1060.5,1396.8 L1062.5,1396.9 L1064.5,1397.0 L1066.5,1397.0 L1068.5,1397.1 L1070.5,1397.1 L1072.5,1397.2 L1074.5,1397.2 L1076.5,1397.3 L1078.5,1397.3 L1080.5,1397.3 L1082.5,1397.3 L1083.5,1397.4 L1084.5,1397.4 L1085.5,1397.4 L1086.5,1397.4 L1087.5,1397.4 L1088.5,1397.4 L1089.5,1397.4 L1090.5,1397.4 L1091.5,1397.4 L1092.5,1397.4 L1093.5,1397.4 L1094.5,1397.5 L1095.5,1397.5 L1096.5,1397.5 L1097.5,1397.5 L1098.5,1397.5 L1099.5,1397.5 L1100.5,1397.5 L1101.5,1397.5 L1102.5,1397.5 L1103.5,1397.5 L1104.5,1397.5 L1105.5,1397.5 L1106.5,1397.5 L1107.5,1397.5 L1108.5,1397.5 L1109.5,1397.5 L1110.5,1397.5 L1111.5,1397.5 L1112.5,1397.5 L1113.5,1397.5 L1114.5,1397.5 L1115.5,1397.5 L1116.5,1397.5 L1117.5,1397.5 L1118.5,1397.5 L1119.5,1397.5 L1120.5,1397.4 L1121.5,1397.4 L1122.5,1397.4 L1123.5,1397.4 L1124.5,1397.4 L1125.5,1397.3 L1126.5,1397.3 L1127.5,1397.2 L1128.5,1397.2 L1129.5,1397.1 L1130.5,1397.1 L1131.5,1397.0 L1132.5,1396.9 L1133.5,1396.9 L1134.5,1396.8 L1135.5,1396.7 L1136.5,1396.6 L1137.5,1396.5 L1138.5,1396.4 L1139.5,1396.3 L1140.5,1396.2 L1141.5,1396.2 L1142.5,1396.1 L1143.5,1396.1 L1144.5,1396.0 L1145.5,1396.0 L1146.5,1396.0 L1147.5,1396.0 L1148.5,1396.1 L1149.5,1396.1 L1150.5,1396.2 L1151.5,1396.3 L1152.5,1396.4 L1153.5,1396.5 L1154.5,1396.6 L1155.5,1396.7 L1156.5,1396.8 L1157.5,1396.9 L1158.5,1397.0 L1159.5,1397.1 L1160.5,1397.2 L1161.5,1397.2 L1162.5,1397.3 L1163.5,1397.4 L1164.5,1397.4 L1165.5,1397.5 L1166.5,1397.5 L1167.5,1397.6 L1168.5,1397.6 L1169.5,1397.6 L1170.5,1397.7 L1171.5,1397.7 L1172.5,1397.7 L1173.5,1397.8 L1174.5,1397.8 L1175.5,1397.8 L1176.5,1397.8 L1177.5,1397.8 L1178.5,1397.8 L1179.5,1397.9 L1180.5,1397.9 L1181.5,1397.9 L1182.5,1397.9 L1183.5,1397.9 L1184.5,1397.9 L1185.5,1397.9 L1186.5,1397.9 L1187.5,1397.9 L1188.5,1397.9 L1189.5,1398.0 L1190.5,1398.0 L1191.5,1398.0 L1192.5,1398.0 L1193.5,1398.0 L1194.5,1398.0 L1195.5,1398.0 L1196.5,1398.0 L1197.5,1398.0 L1198.5,1398.0 L1199.5,1398.0 L1200.5,1398.0 L1201.5,1398.0 L1202.5,1398.0 L1203.5,1398.1 L1204.5,1398.1 L1205.5,1398.1 L1206.5,1398.1 L1207.5,1398.1 L1208.5,1398.1 L1210.5,1398.1 L1212.5,1398.1 L1214.5,1398.1 L1216.5,1398.1 L1218.5,1398.1 L1220.5,1398.1 L1222.5,1398.1 L1224.5,1398.2 L1226.5,1398.2 L1228.5,1398.2 L1230.5,1398.2 L1232.5,1398.2 L1234.5,1398.2 L1236.5,1398.2 L1238.5,1398.2 L1240.5,1398.2 L1242.5,1398.2 L1244.5,1398.2 L1246.5,1398.2 L1248.5,1398.2 L1250.5,1398.2 L1252.5,1398.2 L1254.5,1398.2 L1256.5,1398.3 L1258.5,1398.3 L1260.5,1398.3 L1262.5,1398.3 L1264.5,1398.3 L1266.5,1398.3 L1268.5,1398.3 L1270.5,1398.3 L1272.5,1398.3 L1274.5,1398.3 L1276.5,1398.3 L1278.5,1398.3 L1280.5,1398.3 L1282.5,1398.3 L1284.5,1398.2 L1286.5,1398.2 L1288.5,1398.2 L1290.5,1398.2 L1292.5,1398.2 L1294.5,1398.2 L1296.5,1398.1 L1298.5,1398.1 L1300.5,1398.1 L1302.5,1398.0 L1304.5,1398.0 L1305.4,1397.9 L1305.9,1397.9 L1306.4,1397.9 L1306.5,1397.9 L1306.9,1397.9 L1307.4,1397.8 L1307.9,1397.8 L1308.4,1397.8 L1308.5,1397.8 L1308.9,1397.8 L1309.4,1397.8 L1309.9,1397.7 L1310.4,1397.7 L1310.5,1397.7 L1310.9,1397.7 L1311.4,1397.6 L1311.9,1397.6 L1312.4,1397.6 L1312.5,1397.6 L1312.9,1397.5 L1313.4,1397.5 L1313.9,1397.4 L1314.4,1397.4 L1314.5,1397.4 L1314.9,1397.4 L1315.4,1397.3 L1315.9,1397.3 L1316.4,1397.2 L1316.5,1397.2 L1316.9,1397.1 L1317.4,1397.1 L1317.9,1397.0 L1318.4,1396.9 L1318.5,1396.9 L1318.9,1396.9 L1319.4,1396.8 L1319.9,1396.7 L1320.4,1396.6 L1320.5,1396.6 L1320.9,1396.5 L1321.4,1396.3 L1321.9,1396.2 L1322.4,1396.0 L1322.5,1396.0 L1322.9,1395.9 L1323.4,1395.7 L1323.9,1395.4 L1324.4,1395.2 L1324.5,1395.1 L1324.9,1394.9 L1325.4,1394.6 L1325.9,1394.2 L1326.4,1393.8 L1326.5,1393.7 L1326.9,1393.4 L1327.4,1392.9 L1327.9,1392.3 L1328.4,1391.7 L1328.5,1391.6 L1328.9,1391.1 L1329.4,1390.3 L1329.9,1389.5 L1330.4,1388.7 L1330.5,1388.5 L1330.9,1387.7 L1331.4,1386.7 L1331.9,1385.7 L1332.4,1384.6 L1332.5,1384.3 L1332.9,1383.4 L1333.4,1382.3 L1333.9,1381.1 L1334.4,1379.9 L1334.5,1379.7 L1334.9,1378.8 L1335.4,1377.8 L1335.9,1376.8 L1336.4,1376.1 L1336.5,1375.9 L1336.9,1375.5 L1337.4,1375.1 L1337.9,1375.0 L1338.4,1375.1 L1338.5,1375.2 L1338.9,1375.5 L1339.4,1376.1 L1339.9,1376.8 L1340.4,1377.8 L1340.5,1378.0 L1340.9,1378.8 L1341.4,1379.9 L1341.9,1381.1 L1342.4,1382.2 L1342.5,1382.5 L1342.9,1383.4 L1343.4,1384.5 L1343.9,1385.6 L1344.4,1386.7 L1344.5,1386.9 L1344.9,1387.7 L1345.4,1388.6 L1345.9,1389.5 L1346.4,1390.3 L1346.5,1390.4 L1346.9,1391.0 L1347.4,1391.7 L1347.9,1392.3 L1348.4,1392.8 L1348.5,1392.9 L1348.9,1393.3 L1349.4,1393.8 L1349.9,1394.2 L1350.4,1394.5 L1350.5,1394.6 L1350.9,1394.8 L1351.4,1395.1 L1351.9,1395.4 L1352.4,1395.6 L1352.5,1395.6 L1352.9,1395.8 L1353.4,1395.9 L1353.9,1396.1 L1354.4,1396.2 L1354.5,1396.3 L1354.9,1396.4 L1355.4,1396.5 L1355.9,1396.6 L1356.4,1396.7 L1356.5,1396.7 L1356.9,1396.7 L1357.4,1396.8 L1357.9,1396.9 L1358.4,1397.0 L1358.5,1397.0 L1358.9,1397.0 L1359.4,1397.1 L1359.9,1397.1 L1360.4,1397.2 L1360.5,1397.2 L1360.9,1397.2 L1361.4,1397.3 L1361.9,1397.3 L1362.4,1397.3 L1362.5,1397.4 L1362.9,1397.4 L1363.4,1397.4 L1363.9,1397.4 L1364.4,1397.5 L1364.5,1397.5 L1364.9,1397.5 L1365.4,1397.5 L1365.9,1397.6 L1366.4,1397.6 L1366.5,1397.6 L1366.9,1397.6 L1367.4,1397.6 L1367.9,1397.7 L1368.4,1397.7 L1368.5,1397.7 L1368.9,1397.7 L1369.4,1397.7 L1369.9,1397.7 L1370.5,1397.7 L1372.5,1397.8 L1374.5,1397.8 L1376.5,1397.9 L1378.5,1397.9 L1380.5,1397.9 L1382.5,1398.0 L1384.5,1398.0 L1386.5,1398.0 L1388.5,1398.0 L1390.5,1398.0 L1392.5,1398.0 L1394.5,1398.0 L1396.5,1398.1 L1398.5,1398.1 L1400.5,1398.1 L1402.5,1398.1 L1404.5,1398.1 L1406.5,1398.1 L1408.5,1398.1 L1410.5,1398.1 L1412.5,1398.1 L1414.5,1398.1 L1416.5,1398.1 L1418.5,1398.1 L1420.5,1398.1 L1422.5,1398.1 L1424.5,1398.1 L1426.5,1398.1 L1428.5,1398.0 L1430.5,1398.0 L1432.5,1398.0 L1434.5,1398.0 L1436.5,1398.0 L1438.5,1398.0 L1440.5,1398.0 L1442.5,1398.0 L1444.5,1398.0 L1446.5,1398.0 L1448.5,1398.0 L1450.5,1398.0 L1452.5,1398.0 L1454.5,1398.0 L1456.5,1398.0 L1458.5,1398.0 L1460.5,1397.9 L1462.5,1397.9 L1464.5,1397.9 L1466.5,1397.9 L1468.5,1397.9 L1470.5,1397.9 L1472.5,1397.9 L1474.5,1397.9 L1476.5,1397.9 L1478.5,1397.8 L1480.5,1397.8 L1482.5,1397.8 L1484.5,1397.8 L1486.5,1397.8 L1488.5,1397.8 L1490.5,1397.8 L1492.5,1397.7 L1494.5,1397.7 L1496.5,1397.7 L1498.5,1397.7 L1500.5,1397.7 L1502.5,1397.6 L1504.5,1397.6 L1506.5,1397.6 L1508.5,1397.6 L1510.5,1397.5 L1512.5,1397.5 L1514.5,1397.5 L1516.5,1397.4 L1518.5,1397.4 L1520.5,1397.3 L1522.5,1397.3 L1524.5,1397.2 L1526.5,1397.1 L1528.5,1397.1 L1530.5,1397.0 L1532.5,1396.9 L1534.2,1396.8 L1534.5,1396.8 L1534.7,1396.8 L1535.2,1396.7 L1535.7,1396.7 L1536.2,1396.7 L1536.5,1396.6 L1536.7,1396.6 L1537.2,1396.6 L1537.7,1396.6 L1538.2,1396.5 L1538.5,1396.5 L1538.7,1396.5 L1539.2,1396.4 L1539.7,1396.4 L1540.2,1396.3 L1540.5,1396.3 L1540.7,1396.3 L1541.2,1396.2 L1541.7,1396.2 L1542.2,1396.1 L1542.5,1396.1 L1542.7,1396.1 L1543.2,1396.0 L1543.7,1395.9 L1544.2,1395.9 L1544.5,1395.8 L1544.7,1395.8 L1545.2,1395.7 L1545.7,1395.7 L1546.2,1395.6 L1546.5,1395.5 L1546.7,1395.5 L1547.2,1395.4 L1547.7,1395.3 L1548.2,1395.2 L1548.5,1395.1 L1548.7,1395.1 L1549.2,1395.0 L1549.7,1394.8 L1550.2,1394.7 L1550.5,1394.6 L1550.7,1394.5 L1551.2,1394.4 L1551.7,1394.2 L1552.2,1394.0 L1552.5,1393.9 L1552.7,1393.8 L1553.2,1393.6 L1553.7,1393.3 L1554.2,1393.1 L1554.5,1392.9 L1554.7,1392.8 L1555.2,1392.4 L1555.7,1392.0 L1556.2,1391.6 L1556.5,1391.4 L1556.7,1391.2 L1557.2,1390.7 L1557.7,1390.1 L1558.2,1389.5 L1558.5,1389.1 L1558.7,1388.8 L1559.2,1388.0 L1559.7,1387.2 L1560.2,1386.3 L1560.5,1385.7 L1560.7,1385.3 L1561.2,1384.3 L1561.7,1383.1 L1562.2,1381.8 L1562.5,1381.0 L1562.7,1380.5 L1563.2,1379.1 L1563.7,1377.5 L1564.2,1375.9 L1564.5,1374.9 L1564.7,1374.2 L1565.2,1372.4 L1565.7,1370.6 L1566.2,1368.7 L1566.5,1367.6 L1566.7,1366.8 L1567.2,1364.9 L1567.7,1363.1 L1568.2,1361.2 L1568.5,1360.2 L1568.7,1359.5 L1569.2,1358.0 L1569.7,1356.6 L1570.2,1355.5 L1570.5,1355.0 L1570.7,1354.7 L1571.2,1354.2 L1571.7,1354.0 L1572.2,1354.2 L1572.5,1354.4 L1572.7,1354.7 L1573.2,1355.5 L1573.7,1356.6 L1574.2,1358.0 L1574.5,1358.9 L1574.7,1359.5 L1575.2,1361.2 L1575.7,1363.0 L1576.2,1364.9 L1576.5,1366.0 L1576.7,1366.8 L1577.2,1368.7 L1577.7,1370.6 L1578.2,1372.4 L1578.5,1373.5 L1578.7,1374.2 L1579.2,1375.9 L1579.7,1377.5 L1580.2,1379.0 L1580.5,1379.9 L1580.7,1380.4 L1581.2,1381.8 L1581.7,1383.0 L1582.2,1384.2 L1582.5,1384.8 L1582.7,1385.3 L1583.2,1386.2 L1583.7,1387.1 L1584.2,1388.0 L1584.5,1388.4 L1584.7,1388.7 L1585.2,1389.4 L1585.7,1390.0 L1586.2,1390.6 L1586.5,1390.9 L1586.7,1391.1 L1587.2,1391.5 L1587.7,1391.9 L1588.2,1392.3 L1588.5,1392.5 L1588.7,1392.6 L1589.2,1392.9 L1589.7,1393.2 L1590.2,1393.5 L1590.5,1393.6 L1590.7,1393.7 L1591.2,1393.9 L1591.7,1394.1 L1592.2,1394.3 L1592.5,1394.4 L1592.7,1394.4 L1593.2,1394.6 L1593.7,1394.7 L1594.2,1394.8 L1594.5,1394.9 L1594.7,1394.9 L1595.2,1395.0 L1595.7,1395.1 L1596.2,1395.2 L1596.5,1395.3 L1596.7,1395.3 L1597.2,1395.4 L1597.7,1395.5 L1598.2,1395.6 L1598.5,1395.6 L1598.7,1395.6 L1599.2,1395.7 L1599.7,1395.8 L1600.2,1395.8 L1600.5,1395.9 L1600.7,1395.9 L1601.2,1395.9 L1601.7,1396.0 L1602.2,1396.0 L1602.5,1396.1 L1602.7,1396.1 L1603.2,1396.1 L1603.7,1396.2 L1604.2,1396.2 L1604.5,1396.2 L1604.7,1396.3 L1605.2,1396.3 L1605.7,1396.3 L1606.2,1396.4 L1606.5,1396.4 L1606.7,1396.4 L1607.2,1396.4 L1607.7,1396.5 L1608.2,1396.5 L1608.5,1396.5 L1608.7,1396.5 L1610.5,1396.6 L1612.5,1396.7 L1614.5,1396.8 L1616.5,1396.8 L1618.5,1396.9 L1620.5,1396.9 L1622.5,1397.0 L1624.5,1397.0 L1626.5,1397.0 L1628.5,1397.1 L1630.5,1397.1 L1632.5,1397.1 L1634.5,1397.1 L1636.5,1397.1 L1638.5,1397.2 L1640.5,1397.2 L1642.5,1397.2 L1644.5,1397.2 L1646.5,1397.2 L1648.5,1397.2 L1650.5,1397.2 L1652.5,1397.2 L1654.5,1397.2 L1656.5,1397.2 L1658.5,1397.2 L1660.5,1397.2 L1662.5,1397.2 L1664.5,1397.2 L1666.5,1397.2 L1668.5,1397.2 L1670.5,1397.2 L1672.5,1397.1 L1674.5,1397.1 L1676.5,1397.1 L1678.5,1397.1 L1680.5,1397.1 L1682.5,1397.1 L1684.5,1397.1 L1686.5,1397.0 L1688.5,1397.0 L1690.5,1397.0 L1691.5,1397.0 L1692.5,1397.0 L1693.5,1396.9 L1694.5,1396.9 L1695.5,1396.9 L1696.5,1396.9 L1697.5,1396.9 L1698.5,1396.9 L1699.5,1396.8 L1700.5,1396.8 L1701.5,1396.8 L1702.5,1396.8 L1703.5,1396.8 L1704.5,1396.7 L1705.5,1396.7 L1706.5,1396.7 L1707.5,1396.7 L1708.5,1396.7 L1709.5,1396.6 L1710.5,1396.6 L1711.5,1396.6 L1712.5,1396.5 L1713.5,1396.5 L1714.5,1396.4 L1715.5,1396.4 L1716.5,1396.3 L1717.5,1396.3 L1718.5,1396.2 L1719.5,1396.1 L1720.5,1396.0 L1721.5,1395.9 L1722.5,1395.8 L1723.5,1395.7 L1724.5,1395.6 L1725.5,1395.4 L1726.5,1395.2 L1727.5,1395.0 L1728.5,1394.8 L1729.5,1394.5 L1730.5,1394.2 L1731.5,1393.9 L1732.5,1393.5 L1733.5,1393.1 L1734.5,1392.6 L1735.5,1392.1 L1736.5,1391.5 L1737.5,1390.9 L1738.5,1390.2 L1739.5,1389.5 L1740.5,1388.8 L1741.5,1388.0 L1742.5,1387.2 L1743.5,1386.5 L1744.5,1385.7 L1745.0,1385.3 L1745.5,1385.0 L1746.0,1384.6 L1746.5,1384.3 L1747.0,1384.0 L1747.5,1383.8 L1748.0,1383.5 L1748.5,1383.4 L1749.0,1383.2 L1749.5,1383.1 L1750.0,1383.0 L1750.5,1383.0 L1751.0,1383.0 L1751.5,1383.1 L1752.0,1383.2 L1752.5,1383.3 L1753.0,1383.5 L1753.5,1383.8 L1754.0,1384.0 L1754.5,1384.3 L1755.0,1384.6 L1755.5,1384.9 L1756.0,1385.3 L1756.5,1385.7 L1757.0,1386.0 L1757.5,1386.4 L1758.0,1386.8 L1758.5,1387.2 L1759.0,1387.6 L1759.5,1388.0 L1760.0,1388.3 L1760.5,1388.7 L1761.0,1389.1 L1761.5,1389.4 L1762.0,1389.8 L1762.5,1390.1 L1763.0,1390.5 L1763.5,1390.8 L1764.0,1391.1 L1764.5,1391.4 L1765.0,1391.7 L1765.5,1391.9 L1766.0,1392.2 L1766.5,1392.4 L1767.0,1392.6 L1767.5,1392.9 L1768.0,1393.1 L1768.5,1393.3 L1769.0,1393.4 L1769.5,1393.6 L1770.0,1393.8 L1770.5,1393.9 L1771.0,1394.0 L1771.5,1394.1 L1772.0,1394.3 L1772.5,1394.4 L1773.0,1394.4 L1773.5,1394.5 L1774.0,1394.6 L1774.5,1394.6 L1775.0,1394.7 L1775.5,1394.7 L1776.0,1394.7 L1776.5,1394.7 L1777.0,1394.7 L1777.5,1394.7 L1778.0,1394.7 L1778.5,1394.7 L1779.0,1394.6 L1779.5,1394.6 L1780.0,1394.5 L1780.5,1394.5 L1781.0,1394.4 L1781.5,1394.3 L1782.0,1394.2 L1782.5,1394.1 L1783.0,1394.0 L1783.5,1393.9 L1784.0,1393.8 L1784.5,1393.7 L1785.0,1393.6 L1785.5,1393.5 L1786.0,1393.4 L1786.5,1393.3 L1787.0,1393.2 L1787.5,1393.1 L1788.0,1393.1 L1788.5,1393.0 L1789.0,1393.0 L1789.5,1393.0 L1790.0,1393.0 L1790.5,1393.0 L1791.0,1393.1 L1791.5,1393.2 L1792.0,1393.2 L1792.5,1393.3 L1793.0,1393.5 L1793.5,1393.6 L1794.0,1393.7 L1794.5,1393.9 L1795.0,1394.0 L1795.5,1394.2 L1796.0,1394.3 L1796.5,1394.5 L1797.0,1394.6 L1797.5,1394.8 L1798.0,1394.9 L1798.5,1395.1 L1799.0,1395.2 L1799.5,1395.3 L1800.0,1395.5 L1800.5,1395.6 L1801.0,1395.7 L1801.5,1395.8 L1802.0,1395.9 L1802.5,1396.0 L1803.0,1396.1 L1803.5,1396.2 L1804.0,1396.3 L1804.5,1396.3 L1805.0,1396.4 L1805.5,1396.5 L1806.0,1396.5 L1806.5,1396.6 L1807.0,1396.6 L1807.5,1396.7 L1808.0,1396.7 L1808.5,1396.8 L1808.6,1396.8 L1809.0,1396.8 L1809.5,1396.8 L1809.6,1396.8 L1810.0,1396.9 L1810.5,1396.9 L1810.6,1396.9 L1811.0,1396.9 L1811.5,1397.0 L1811.6,1397.0 L1812.0,1397.0 L1812.5,1397.0 L1812.6,1397.0 L1813.0,1397.0 L1813.5,1397.0 L1813.6,1397.1 L1814.0,1397.1 L1814.5,1397.1 L1814.6,1397.1 L1815.0,1397.1 L1815.5,1397.1 L1815.6,1397.1 L1816.0,1397.1 L1816.5,1397.2 L1816.6,1397.2 L1817.0,1397.2 L1817.5,1397.2 L1817.6,1397.2 L1818.0,1397.2 L1818.5,1397.2 L1818.6,1397.2 L1819.0,1397.2 L1819.5,1397.2 L1819.6,1397.2 L1820.0,1397.2 L1820.5,1397.2 L1820.6,1397.3 L1821.0,1397.3 L1821.5,1397.3 L1821.6,1397.3 L1822.0,1397.3 L1822.5,1397.3 L1822.6,1397.3 L1823.0,1397.3 L1823.5,1397.3 L1823.6,1397.3 L1824.0,1397.3 L1824.5,1397.3 L1824.6,1397.3 L1825.0,1397.3 L1825.5,1397.3 L1825.6,1397.3 L1826.0,1397.3 L1826.5,1397.4 L1826.6,1397.4 L1827.0,1397.4 L1827.5,1397.4 L1827.6,1397.4 L1828.0,1397.4 L1828.5,1397.4 L1828.6,1397.4 L1829.0,1397.4 L1829.5,1397.4 L1829.6,1397.4 L1830.0,1397.4 L1830.5,1397.4 L1830.6,1397.4 L1831.0,1397.4 L1831.5,1397.4 L1831.6,1397.4 L1832.0,1397.4 L1832.5,1397.4 L1832.6,1397.4 L1833.0,1397.4 L1833.5,1397.4 L1833.6,1397.4 L1834.0,1397.4 L1834.5,1397.4 L1834.6,1397.4 L1835.6,1397.4 L1836.5,1397.5 L1836.6,1397.5 L1837.6,1397.5 L1838.5,1397.5 L1838.6,1397.5 L1839.6,1397.5 L1840.5,1397.5 L1840.6,1397.5 L1841.6,1397.5 L1842.5,1397.5 L1842.6,1397.5 L1843.6,1397.5 L1844.5,1397.5 L1844.6,1397.5 L1845.6,1397.5 L1846.5,1397.5 L1846.6,1397.5 L1847.6,1397.5 L1848.5,1397.5 L1848.6,1397.5 L1849.6,1397.5 L1850.5,1397.5 L1850.6,1397.5 L1851.6,1397.5 L1852.5,1397.5 L1852.6,1397.5 L1853.6,1397.5 L1854.5,1397.5 L1854.6,1397.5 L1855.6,1397.5 L1856.5,1397.5 L1856.6,1397.5 L1857.6,1397.5 L1858.5,1397.5 L1858.6,1397.5 L1859.6,1397.5 L1860.5,1397.5 L1860.6,1397.5 L1861.6,1397.5 L1862.5,1397.5 L1862.6,1397.5 L1863.6,1397.5 L1864.5,1397.5 L1864.6,1397.5 L1865.6,1397.5 L1866.5,1397.5 L1866.6,1397.5 L1867.6,1397.5 L1868.5,1397.5 L1868.6,1397.5 L1869.6,1397.5 L1870.5,1397.5 L1870.6,1397.5 L1871.6,1397.5 L1872.5,1397.5 L1872.6,1397.5 L1873.6,1397.5 L1874.5,1397.5 L1874.6,1397.5 L1875.6,1397.5 L1876.5,1397.4 L1876.6,1397.4 L1877.6,1397.4 L1878.5,1397.4 L1878.6,1397.4 L1879.6,1397.4 L1880.5,1397.4 L1880.6,1397.4 L1881.6,1397.4 L1882.5,1397.3 L1882.6,1397.3 L1883.6,1397.3 L1884.5,1397.3 L1884.6,1397.3 L1885.6,1397.3 L1886.5,1397.2 L1886.6,1397.2 L1887.6,1397.2 L1888.5,1397.2 L1888.6,1397.2 L1889.6,1397.1 L1890.5,1397.1 L1890.6,1397.1 L1891.6,1397.0 L1892.5,1397.0 L1892.6,1397.0 L1893.6,1396.9 L1894.5,1396.9 L1894.6,1396.9 L1895.6,1396.8 L1896.5,1396.8 L1896.6,1396.8 L1897.6,1396.7 L1898.5,1396.6 L1898.6,1396.6 L1899.6,1396.6 L1900.5,1396.5 L1900.6,1396.5 L1901.6,1396.4 L1902.5,1396.3 L1902.6,1396.3 L1903.6,1396.3 L1904.5,1396.2 L1904.6,1396.2 L1905.6,1396.1 L1906.5,1396.0 L1906.6,1396.0 L1907.6,1395.9 L1908.5,1395.8 L1908.6,1395.8 L1909.6,1395.7 L1910.5,1395.6 L1910.6,1395.6 L1911.6,1395.5 L1912.5,1395.3 L1912.6,1395.3 L1913.6,1395.2 L1914.5,1395.1 L1914.6,1395.1 L1915.6,1395.0 L1916.5,1394.9 L1916.6,1394.9 L1917.6,1394.7 L1918.5,1394.6 L1918.6,1394.6 L1919.6,1394.5 L1920.5,1394.4 L1920.6,1394.4 L1921.6,1394.3 L1922.5,1394.2 L1922.6,1394.2 L1923.6,1394.1 L1924.5,1394.0 L1924.6,1394.0 L1925.6,1393.9 L1926.5,1393.8 L1926.6,1393.8 L1927.6,1393.7 L1928.5,1393.6 L1928.6,1393.6 L1929.6,1393.6 L1930.5,1393.5 L1930.6,1393.5 L1931.6,1393.5 L1932.5,1393.5 L1932.6,1393.5 L1933.6,1393.5 L1934.5,1393.5 L1934.6,1393.5 L1935.6,1393.5 L1936.5,1393.6 L1936.6,1393.6 L1937.6,1393.6 L1938.5,1393.7 L1938.6,1393.7 L1939.6,1393.8 L1940.5,1393.8 L1940.6,1393.9 L1941.6,1394.0 L1942.5,1394.0 L1942.6,1394.1 L1943.6,1394.2 L1944.5,1394.3 L1944.6,1394.3 L1945.6,1394.4 L1946.5,1394.5 L1946.6,1394.5 L1947.6,1394.7 L1948.5,1394.8 L1948.6,1394.8 L1949.6,1394.9 L1950.5,1395.0 L1950.6,1395.1 L1951.6,1395.2 L1952.5,1395.3 L1952.6,1395.3 L1953.6,1395.4 L1954.5,1395.6 L1954.6,1395.6 L1955.6,1395.7 L1956.5,1395.8 L1956.6,1395.8 L1957.6,1395.9 L1958.5,1396.1 L1958.6,1396.1 L1959.6,1396.2 L1960.5,1396.3 L1960.6,1396.3 L1961.6,1396.4 L1962.5,1396.5 L1962.6,1396.5 L1963.6,1396.6 L1964.5,1396.7 L1964.6,1396.7 L1965.6,1396.8 L1966.5,1396.9 L1966.6,1396.9 L1967.6,1397.0 L1968.5,1397.0 L1968.6,1397.0 L1969.6,1397.1 L1970.5,1397.2 L1970.6,1397.2 L1971.6,1397.3 L1972.5,1397.3 L1972.6,1397.3 L1973.6,1397.4 L1974.5,1397.5 L1974.6,1397.5 L1975.6,1397.5 L1976.5,1397.6 L1976.6,1397.6 L1977.6,1397.6 L1978.5,1397.7 L1978.6,1397.7 L1979.6,1397.7 L1980.5,1397.8 L1980.6,1397.8 L1981.6,1397.8 L1982.5,1397.8 L1982.6,1397.8 L1983.6,1397.9 L1984.5,1397.9 L1984.6,1397.9 L1985.6,1398.0 L1986.5,1398.0 L1986.6,1398.0 L1987.6,1398.0 L1988.5,1398.0 L1988.6,1398.0 L1989.6,1398.1 L1990.5,1398.1 L1990.6,1398.1 L1991.6,1398.1 L1992.5,1398.2 L1992.6,1398.2 L1993.6,1398.2 L1994.5,1398.2 L1994.6,1398.2 L1995.6,1398.2 L1996.5,1398.2 L1996.6,1398.2 L1997.6,1398.3 L1998.5,1398.3 L1998.6,1398.3 L1999.6,1398.3 L2000.5,1398.3 L2000.6,1398.3 L2001.6,1398.3 L2002.5,1398.3 L2002.6,1398.3 L2003.6,1398.4 L2004.5,1398.4 L2004.6,1398.4 L2005.6,1398.4 L2006.5,1398.4 L2006.6,1398.4 L2007.6,1398.4 L2008.5,1398.4 L2008.6,1398.4 L2009.6,1398.4 L2010.5,1398.5 L2010.6,1398.5 L2011.5,1398.5" stroke="#FFBE7A"/>
</g>
<g stroke="#000" stroke-width="7.6" stroke-linecap="butt">
<line x1="307.0" y1="1505" x2="307.0" y2="1536"/>
<line x1="616.9" y1="1505" x2="616.9" y2="1536"/>
<line x1="926.8" y1="1505" x2="926.8" y2="1536"/>
<line x1="1236.7" y1="1505" x2="1236.7" y2="1536"/>
<line x1="1546.6" y1="1505" x2="1546.6" y2="1536"/>
<line x1="1856.5" y1="1505" x2="1856.5" y2="1536"/>
<line x1="461.9" y1="1520.5" x2="461.9" y2="1536"/>
<line x1="771.8" y1="1520.5" x2="771.8" y2="1536"/>
<line x1="1081.8" y1="1520.5" x2="1081.8" y2="1536"/>
<line x1="1391.6" y1="1520.5" x2="1391.6" y2="1536"/>
<line x1="1701.5" y1="1520.5" x2="1701.5" y2="1536"/>
</g>
<rect x="150.5" y="39" width="1860.5" height="1497" fill="none" stroke="#000" stroke-width="7.8"/>
<g fill="#000">
<polygon points="454.0,416.0 498.0,416.0 476.0,460.0"/>
<polygon points="551.3,336.0 595.3,336.0 573.3,380.0"/>
<polygon points="608.7,168.0 652.7,168.0 630.7,212.0"/>
<polygon points="1006.0,353.5 1050.0,353.5 1028.0,397.5"/>
<polygon points="1323.0,382.0 1367.0,382.0 1345.0,426.0"/>
<polygon points="1551.0,390.3 1595.0,390.3 1573.0,434.3"/>
<polygon points="1737.5,423.0 1781.5,423.0 1759.5,467.0"/>
<polygon points="1630.3,137.7 1674.3,137.7 1652.3,181.7"/>
<circle cx="599" cy="426" r="23.3"/>
<circle cx="1139.7" cy="437" r="23.3"/>
<circle cx="1648" cy="264" r="23.3"/>
</g>
<g fill="#000">
<text class="serif" x="273.9" y="1616" font-size="67" textLength="64.7" lengthAdjust="spacingAndGlyphs">30</text>
<text class="serif" x="583.8" y="1616" font-size="67" textLength="64.7" lengthAdjust="spacingAndGlyphs">40</text>
<text class="serif" x="893.7" y="1616" font-size="67" textLength="64.7" lengthAdjust="spacingAndGlyphs">50</text>
<text class="serif" x="1203.6" y="1616" font-size="67" textLength="64.7" lengthAdjust="spacingAndGlyphs">60</text>
<text class="serif" x="1513.5" y="1616" font-size="67" textLength="64.7" lengthAdjust="spacingAndGlyphs">70</text>
<text class="serif" x="1823.5" y="1616" font-size="67" textLength="64.7" lengthAdjust="spacingAndGlyphs">80</text>
<text class="serif" x="901.9" y="1738.6" font-size="81" textLength="359.7" lengthAdjust="spacingAndGlyphs">2θ (degree)</text>
<text class="serif" transform="translate(85.8,786) rotate(-90)" x="-228.7" y="0" font-size="80" textLength="457.5" lengthAdjust="spacingAndGlyphs">Intensity (a.u.)</text>
<text class="serif" x="1674.2" y="599.5" font-size="80" textLength="308" lengthAdjust="spacingAndGlyphs">TC21-HT</text>
<text class="serif" x="1716.8" y="891.3" font-size="80" textLength="268.8" lengthAdjust="spacingAndGlyphs">TC4-HT</text>
<text class="serif" x="1804.5" y="1189.7" font-size="80" textLength="172.9" lengthAdjust="spacingAndGlyphs">TC21</text>
<text class="serif" x="1846.9" y="1480.4" font-size="80" textLength="138.5" lengthAdjust="spacingAndGlyphs">TC4</text>
<text class="sans" x="1699" y="182" font-size="86">α/α'</text>
<text class="sans" x="1692" y="286" font-size="86">β</text>
</g>
</svg></body></html>
